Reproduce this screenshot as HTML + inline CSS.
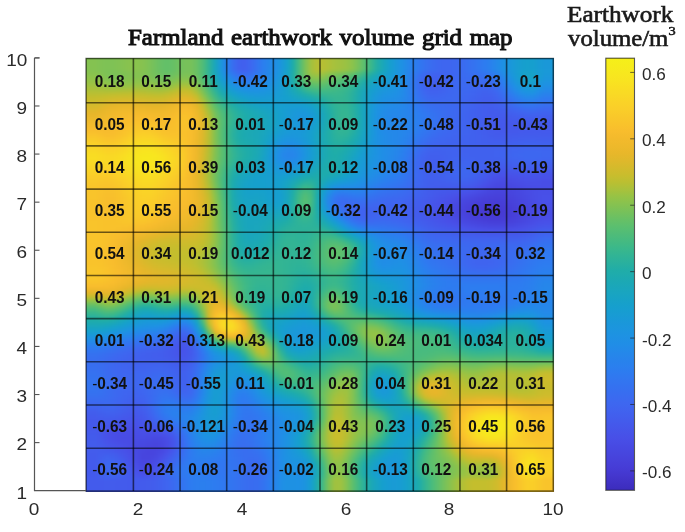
<!DOCTYPE html>
<html><head><meta charset="utf-8"><style>
html,body{margin:0;padding:0;background:#fff;}
body{width:685px;height:532px;position:relative;overflow:hidden;font-family:"Liberation Sans",sans-serif;}
.title{position:absolute;left:128px;top:22px;font-family:"Liberation Serif",serif;font-weight:normal;font-size:24px;line-height:30px;color:#111;white-space:nowrap;transform-origin:0 0;transform:scaleX(1.037);word-spacing:1.4px;-webkit-text-stroke:1.1px #111;}
.cbt{position:absolute;white-space:nowrap;font-family:"Liberation Serif",serif;font-weight:normal;font-size:22.5px;color:#1a1a1a;line-height:24px;transform-origin:0 0;-webkit-text-stroke:0.6px #1a1a1a;}
#hw{position:absolute;left:86px;top:58px;width:468px;height:434px;overflow:hidden;}
#heat{position:absolute;left:-3px;top:-3px;width:474px;height:440px;filter:blur(0.8px);}
#heat i{display:block;height:2px;}
svg{position:absolute;left:0;top:0;}
.g{stroke:rgba(0,0,0,0.58);stroke-width:1.6;}
.bd{fill:none;stroke:rgba(0,0,0,0.58);stroke-width:1.5;}
.ax{fill:none;stroke:#555;stroke-width:1.2;}
.tk{stroke:#555;stroke-width:1.1;}
.cbb{fill:none;stroke:rgba(30,30,30,0.75);stroke-width:1.1;}
.ct{stroke:rgba(30,30,30,0.65);stroke-width:1.0;}
.mn{font-weight:normal;}
.cl{position:absolute;transform:scaleX(0.93);text-align:center;font-weight:bold;font-size:16.5px;color:#111;}
.yl{position:absolute;right:657.6px;font-size:16.5px;color:#2a2a2a;line-height:20px;transform:scaleX(1.15);transform-origin:100% 50%;}
.xl{position:absolute;top:498.6px;width:40px;text-align:center;font-size:16.5px;color:#2a2a2a;line-height:20px;transform:scaleX(1.15);}
#cb{position:absolute;left:605.8px;top:58.2px;width:28.7px;height:432.1px;background:linear-gradient(180deg,#f5f019,#f6ec1b,#f7e81e,#f8e420,#f9de22,#f9d925,#fad327,#face29,#f9c82a,#f9c32b,#f8bd2d,#f3ba2c,#eeb92b,#e8b72a,#dfb82b,#d4ba2c,#c9bd2d,#babf32,#a8c13c,#95c346,#86c250,#77c15a,#68c065,#5bbf6f,#50bc78,#45ba81,#3ab88b,#31b495,#29b09e,#20ada8,#1daab0,#1ba7b8,#19a5c0,#17a2c7,#169fce,#189cd3,#1a98d9,#1c95de,#1e92e3,#208ee6,#2489e9,#2784eb,#2a80ee,#2e7bf0,#3276f0,#3571f0,#396cf0,#3d68f0,#4063ef,#425eed,#4459eb,#4654e9,#484fe7,#474ae3,#4746de,#4741da,#463cd6,#4437ce,#4031c5,#3c2cbc);}
.cbl{position:absolute;left:642.3px;font-size:16px;color:#2a2a2a;line-height:18px;transform:scaleX(1.07);transform-origin:0 50%;}
</style></head><body>
<div class="title">Farmland earthwork volume grid map</div>
<div class="cbt" style="left:566.5px;top:3.1px;transform:scaleX(1.12)">Earthwork</div><div class="cbt" style="left:567.5px;top:26.9px;transform:scaleX(1.10)">volume/m<span style="font-size:13px;position:relative;top:-10.5px">3</span></div>
<div id="hw"><div id="heat">
<i style="background:linear-gradient(90deg,#84c251,#84c251,#84c251,#80c254,#7ec256,#7fc255,#82c253,#86c250,#89c24e,#89c34d,#86c250,#7dc256,#72c15e,#67c066,#62c069,#66c066,#6fc160,#77c15a,#77c15a,#68c065,#4fbc79,#2fb397,#1aa6bb,#1b97db,#2981ed,#396df0,#4061ee,#4160ee,#3d68f0,#3473f0,#2b7eef,#2686ea,#208ee5,#1b96dc,#16a1cb,#1eacaa,#47bb80,#79c159,#a2c13f,#b6bf34,#b6bf34,#aec038,#a6c13d,#a0c140,#98c244,#8ac34d,#73c15d,#57be73,#3bb88b,#23aea4,#1aa7b9,#16a0cc,#1a99d8,#1e92e3,#2489e9,#2a80ee,#3078f0,#3671f0,#3a6cf0,#3c68f0,#3e66f0,#3e66f0,#3d67f0,#3b6af0,#386ef0,#3572f0,#3177f0,#2d7cf0,#2982ed,#2489e9,#1e91e4,#1b96dc,#199bd5,#179ecf,#16a0cd,#169fce,#189bd4,#1a98d8,#1a98d8,#1a98d8)"></i>
<i style="background:linear-gradient(90deg,#84c251,#84c251,#84c251,#80c254,#7ec256,#7fc255,#82c253,#86c250,#89c24e,#89c34d,#86c250,#7dc256,#72c15e,#67c066,#62c069,#66c066,#6fc160,#77c15a,#77c15a,#68c065,#4fbc79,#2fb397,#1aa6bb,#1b97db,#2981ed,#396df0,#4061ee,#4160ee,#3d68f0,#3473f0,#2b7eef,#2686ea,#208ee5,#1b96dc,#16a1cb,#1eacaa,#47bb80,#79c159,#a2c13f,#b6bf34,#b6bf34,#aec038,#a6c13d,#a0c140,#98c244,#8ac34d,#73c15d,#57be73,#3bb88b,#23aea4,#1aa7b9,#16a0cc,#1a99d8,#1e92e3,#2489e9,#2a80ee,#3078f0,#3671f0,#3a6cf0,#3c68f0,#3e66f0,#3e66f0,#3d67f0,#3b6af0,#386ef0,#3572f0,#3177f0,#2d7cf0,#2982ed,#2489e9,#1e91e4,#1b96dc,#199bd5,#179ecf,#16a0cd,#169fce,#189bd4,#1a98d8,#1a98d8,#1a98d8)"></i>
<i style="background:linear-gradient(90deg,#84c251,#84c251,#84c251,#80c254,#7ec256,#7fc255,#82c253,#86c250,#89c24e,#89c34d,#86c250,#7dc256,#72c15e,#67c066,#62c069,#66c066,#6fc160,#77c15a,#77c15a,#68c065,#4fbc79,#2fb397,#1aa6bb,#1b97db,#2981ed,#396df0,#4061ee,#4160ee,#3d68f0,#3473f0,#2b7eef,#2686ea,#208ee5,#1b96dc,#16a1cb,#1eacaa,#47bb80,#79c159,#a2c13f,#b6bf34,#b6bf34,#aec038,#a6c13d,#a0c140,#98c244,#8ac34d,#73c15d,#57be73,#3bb88b,#23aea4,#1aa7b9,#16a0cc,#1a99d8,#1e92e3,#2489e9,#2a80ee,#3078f0,#3671f0,#3a6cf0,#3c68f0,#3e66f0,#3e66f0,#3d67f0,#3b6af0,#386ef0,#3572f0,#3177f0,#2d7cf0,#2982ed,#2489e9,#1e91e4,#1b96dc,#199bd5,#179ecf,#16a0cd,#169fce,#189bd4,#1a98d8,#1a98d8,#1a98d8)"></i>
<i style="background:linear-gradient(90deg,#84c251,#84c251,#84c251,#80c254,#7ec256,#7fc255,#82c253,#86c250,#89c24e,#89c34d,#86c250,#7dc256,#72c15e,#67c066,#62c069,#66c066,#6fc160,#77c15a,#77c15a,#68c065,#4fbc79,#2fb397,#1aa6bb,#1b97db,#2981ed,#396df0,#4061ee,#4160ee,#3d68f0,#3473f0,#2b7eef,#2686ea,#208ee5,#1b96dc,#16a1cb,#1eacaa,#47bb80,#79c159,#a2c13f,#b6bf34,#b6bf34,#aec038,#a6c13d,#a0c140,#98c244,#8ac34d,#73c15d,#57be73,#3bb88b,#23aea4,#1aa7b9,#16a0cc,#1a99d8,#1e92e3,#2489e9,#2a80ee,#3078f0,#3671f0,#3a6cf0,#3c68f0,#3e66f0,#3e66f0,#3d67f0,#3b6af0,#386ef0,#3572f0,#3177f0,#2d7cf0,#2982ed,#2489e9,#1e91e4,#1b96dc,#199bd5,#179ecf,#16a0cd,#169fce,#189bd4,#1a98d8,#1a98d8,#1a98d8)"></i>
<i style="background:linear-gradient(90deg,#84c251,#84c251,#84c251,#80c254,#7ec256,#7fc255,#82c253,#86c250,#89c24e,#89c34d,#86c250,#7dc256,#72c15e,#67c066,#62c069,#66c066,#6fc160,#77c15a,#77c15a,#68c065,#4fbc79,#2fb397,#1aa6bb,#1b97db,#2981ed,#396df0,#4061ee,#4160ee,#3d68f0,#3473f0,#2b7eef,#2686ea,#208ee5,#1b96dc,#16a1cb,#1eacaa,#47bb80,#79c159,#a2c13f,#b6bf34,#b6bf34,#aec038,#a6c13d,#a0c140,#98c244,#8ac34d,#73c15d,#57be73,#3bb88b,#23aea4,#1aa7b9,#16a0cc,#1a99d8,#1e92e3,#2489e9,#2a80ee,#3078f0,#3671f0,#3a6cf0,#3c68f0,#3e66f0,#3e66f0,#3d67f0,#3b6af0,#386ef0,#3572f0,#3177f0,#2d7cf0,#2982ed,#2489e9,#1e91e4,#1b96dc,#199bd5,#179ecf,#16a0cd,#169fce,#189bd4,#1a98d8,#1a98d8,#1a98d8)"></i>
<i style="background:linear-gradient(90deg,#84c251,#84c251,#84c251,#80c254,#7ec256,#7fc255,#82c253,#86c250,#89c24e,#89c34d,#86c250,#7dc256,#72c15e,#67c066,#62c069,#66c066,#6fc160,#77c15a,#77c15a,#68c065,#4fbc79,#2fb397,#1aa6bb,#1b97db,#2981ed,#396df0,#4061ee,#4160ee,#3d68f0,#3473f0,#2b7eef,#2686ea,#208ee5,#1b96dc,#16a1cb,#1eacaa,#47bb80,#79c159,#a2c13f,#b6bf34,#b6bf34,#aec038,#a6c13d,#a0c140,#98c244,#8ac34d,#73c15d,#57be73,#3bb88b,#23aea4,#1aa7b9,#16a0cc,#1a99d8,#1e92e3,#2489e9,#2a80ee,#3078f0,#3671f0,#3a6cf0,#3c68f0,#3e66f0,#3e66f0,#3d67f0,#3b6af0,#386ef0,#3572f0,#3177f0,#2d7cf0,#2982ed,#2489e9,#1e91e4,#1b96dc,#199bd5,#179ecf,#16a0cd,#169fce,#189bd4,#1a98d8,#1a98d8,#1a98d8)"></i>
<i style="background:linear-gradient(90deg,#84c251,#84c251,#84c251,#80c254,#7ec256,#7fc255,#82c253,#86c250,#89c24e,#89c34d,#86c250,#7dc256,#72c15e,#67c066,#62c069,#66c066,#6fc160,#77c15a,#77c15a,#68c065,#4fbc79,#2fb397,#1aa6bb,#1b97db,#2981ed,#396df0,#4061ee,#4160ee,#3d68f0,#3473f0,#2b7eef,#2686ea,#208ee5,#1b96dc,#16a1cb,#1eacaa,#47bb80,#79c159,#a2c13f,#b6bf34,#b6bf34,#aec038,#a6c13d,#a0c140,#98c244,#8ac34d,#73c15d,#57be73,#3bb88b,#23aea4,#1aa7b9,#16a0cc,#1a99d8,#1e92e3,#2489e9,#2a80ee,#3078f0,#3671f0,#3a6cf0,#3c68f0,#3e66f0,#3e66f0,#3d67f0,#3b6af0,#386ef0,#3572f0,#3177f0,#2d7cf0,#2982ed,#2489e9,#1e91e4,#1b96dc,#199bd5,#179ecf,#16a0cd,#169fce,#189bd4,#1a98d8,#1a98d8,#1a98d8)"></i>
<i style="background:linear-gradient(90deg,#84c251,#84c251,#84c251,#80c254,#7dc256,#7ec255,#81c253,#85c251,#88c24f,#88c24e,#85c250,#7dc256,#71c15e,#67c065,#62c069,#66c066,#70c15f,#78c15a,#77c15a,#68c065,#4fbc79,#2fb397,#1aa6bb,#1b97db,#2982ed,#386ef0,#4062ef,#4061ee,#3c68f0,#3473f0,#2b7eef,#2587ea,#208fe5,#1b97db,#17a1ca,#1eacaa,#47bb7f,#79c159,#a2c13f,#b4bf35,#b4c035,#aac03a,#a2c13f,#9bc242,#93c347,#85c250,#6ec160,#53bd75,#38b78d,#21ada6,#1aa6bb,#16a0cd,#1a99d8,#1e92e3,#2488e9,#2b7fee,#3177f0,#3670f0,#3a6bf0,#3d68f0,#3e66f0,#3e66f0,#3d67f0,#3b6af0,#386ef0,#3572f0,#3176f0,#2e7bf0,#2981ed,#2488e9,#1f90e5,#1b96dc,#199bd5,#179fcf,#16a0cc,#16a0ce,#189cd4,#1a99d8,#1a99d8,#1a99d8)"></i>
<i style="background:linear-gradient(90deg,#86c250,#86c250,#86c250,#81c253,#7cc256,#7cc257,#7ec255,#81c253,#85c251,#86c250,#84c251,#7cc257,#72c15e,#69c064,#64c067,#69c064,#72c15e,#79c159,#78c15a,#67c065,#4ebc7a,#2fb398,#1aa6ba,#1a98d9,#2685eb,#3473f0,#3d67f0,#3e66f0,#3a6cf0,#3275f0,#2b7fee,#2587ea,#1f8fe5,#1b97da,#17a2c8,#20ada8,#49bb7e,#78c159,#9ec241,#acc039,#a8c13c,#9bc243,#8fc349,#88c24e,#80c254,#72c15e,#5dbf6d,#45ba81,#2fb398,#1dabae,#19a5bf,#169fce,#1a99d8,#1e92e3,#2488e9,#2c7eef,#3374f0,#396cf0,#3d67f0,#3e65f0,#3f64ef,#3e65f0,#3d67f0,#3b6af0,#396df0,#3670f0,#3374f0,#3078f0,#2c7def,#2784eb,#218de6,#1c95de,#199bd5,#16a0ce,#17a2c8,#17a1ca,#189cd3,#1a99d8,#1a99d8,#1a99d8)"></i>
<i style="background:linear-gradient(90deg,#89c24e,#89c24e,#89c24e,#83c252,#7dc256,#7bc257,#7dc256,#80c254,#83c252,#85c251,#83c252,#7dc256,#73c15d,#6bc163,#68c065,#6cc162,#75c15b,#7cc257,#7ac258,#69c064,#4ebc79,#30b397,#1ba7b9,#199ad6,#2489e9,#3177f0,#396cf0,#3b6af0,#376ff0,#3078f0,#2a80ed,#2488e9,#1e90e4,#1a98d9,#17a2c7,#21ada7,#48bb7e,#75c15c,#97c245,#a2c13f,#9bc242,#8dc34b,#81c253,#79c159,#6fc160,#61c06a,#4fbc78,#3ab78c,#26afa2,#1ca8b5,#18a3c4,#179ed0,#1a98d9,#1e92e3,#2588e9,#2d7cf0,#3572f0,#3b69f0,#3f65ef,#3f63ef,#3f63ef,#3e65f0,#3d67f0,#3b6af0,#396cf0,#376ff0,#3571f0,#3374f0,#2f79f0,#2a81ed,#238ae8,#1d93e0,#199ad6,#16a0cd,#18a2c6,#17a2c8,#189cd2,#1a98d9,#1a98d9,#1a98d9)"></i>
<i style="background:linear-gradient(90deg,#8cc34c,#8cc34c,#8cc34c,#86c250,#7fc255,#7cc257,#7dc256,#80c254,#83c252,#85c250,#84c251,#7ec255,#76c15b,#6fc160,#6cc162,#71c15e,#7ac258,#80c254,#7dc256,#6bc163,#50bc78,#31b495,#1ba8b7,#189cd4,#218ce7,#2d7cf0,#3572f0,#376ff0,#3473f0,#2e7af0,#2982ed,#2389e8,#1e91e4,#1a99d8,#18a3c6,#21ada7,#46bb80,#70c15f,#8ec34a,#97c245,#8fc34a,#81c253,#75c15c,#6bc163,#61c06a,#55be74,#44ba82,#31b496,#1eacab,#1aa6bb,#17a2c8,#189dd2,#1a98da,#1e92e3,#2587ea,#2d7bf0,#3670f0,#3d67f0,#4062ef,#4061ee,#4062ef,#3f65f0,#3d67f0,#3b6af0,#3a6cf0,#386df0,#376ff0,#3571f0,#3276f0,#2c7def,#2587ea,#1e92e3,#199ad7,#16a0cd,#18a2c6,#17a2c8,#189cd3,#1b97da,#1b97da,#1b97da)"></i>
<i style="background:linear-gradient(90deg,#8fc34a,#8fc34a,#8fc34a,#89c24e,#81c253,#7fc255,#80c254,#82c252,#85c250,#87c24f,#86c250,#81c253,#7ac258,#74c15d,#72c15e,#77c15a,#80c254,#86c250,#82c252,#6fc160,#53bd76,#33b593,#1ca9b4,#179dd1,#1f90e4,#2981ed,#3177f0,#3374f0,#3177f0,#2c7def,#2784eb,#228be8,#1d92e2,#1999d7,#18a3c5,#20ada8,#43ba83,#69c064,#85c251,#8bc34c,#84c251,#76c15b,#69c064,#5fc06b,#57be72,#4bbc7c,#3ab88b,#29b09e,#1caab1,#19a4c0,#16a0cd,#189cd3,#1b97da,#1e91e3,#2587ea,#2e7af0,#386ef0,#3e65f0,#4061ee,#4160ee,#4062ef,#3f65ef,#3d67f0,#3b69f0,#3a6bf0,#396cf0,#396df0,#376ff0,#3472f0,#2f7af0,#2784eb,#1f90e5,#1a98d9,#179fce,#17a2c7,#17a2c9,#189bd4,#1b96dc,#1b96dc,#1b96dc)"></i>
<i style="background:linear-gradient(90deg,#93c347,#93c347,#93c347,#8cc34b,#85c250,#82c252,#83c252,#85c250,#88c24e,#8ac34d,#89c24e,#85c250,#7fc255,#79c159,#78c159,#7ec255,#87c24f,#8dc34b,#88c24e,#74c15c,#56be73,#36b690,#1caab1,#169fce,#1d93e1,#2686ea,#2d7df0,#2f79f0,#2e7bf0,#2a80ee,#2686ea,#218ce7,#1d93e1,#199ad6,#18a3c5,#1faca9,#3eb987,#60c06b,#7ac258,#80c254,#78c159,#6bc163,#5fbf6b,#57be72,#4ebc79,#42ba84,#33b593,#22aea6,#1ba8b7,#18a3c6,#179ecf,#199bd5,#1b97db,#1e91e4,#2686ea,#2f7af0,#386df0,#3f64ef,#4160ee,#4160ee,#4062ee,#3f65ef,#3d67f0,#3c69f0,#3b6bf0,#3a6bf0,#3a6bf0,#396cf0,#376ff0,#3177f0,#2981ed,#218de6,#1b97db,#179ed0,#17a1c9,#17a1cb,#199ad6,#1c95de,#1c95de,#1c95de)"></i>
<i style="background:linear-gradient(90deg,#97c245,#97c245,#97c245,#91c348,#8ac34d,#87c24f,#88c24f,#8ac34d,#8cc34b,#8ec34a,#8dc34b,#8ac34d,#84c251,#80c254,#80c254,#86c250,#8fc34a,#95c346,#8fc349,#7bc258,#5abe6f,#39b78c,#1dabad,#17a1c9,#1b96dc,#228be7,#2982ed,#2b7fef,#2b7fee,#2883ec,#2488e9,#208ee6,#1c94df,#199bd5,#18a3c5,#1eacab,#3ab78c,#58be71,#6dc161,#73c15d,#6dc162,#61c06a,#58be72,#50bc78,#47bb7f,#3bb88a,#2db299,#1eabac,#1aa6bc,#17a1ca,#189dd2,#1999d7,#1b96dc,#1e91e4,#2686ea,#2f79f0,#396df0,#3f63ef,#415fee,#415fee,#4062ee,#3f65f0,#3d67f0,#3c69f0,#3b6af0,#3b6af0,#3b69f0,#3b6af0,#396df0,#3374f0,#2b7eef,#228be8,#1c95dd,#189cd3,#16a0cc,#16a0cd,#1a99d8,#1d94e0,#1d94e0,#1d94e0)"></i>
<i style="background:linear-gradient(90deg,#9cc242,#9cc242,#9cc242,#96c245,#8fc349,#8dc34b,#8dc34a,#8fc349,#91c348,#93c347,#93c347,#8fc349,#8ac34d,#87c24f,#87c24f,#8ec34a,#99c244,#9fc240,#99c244,#82c253,#5fbf6b,#3db988,#1faca9,#18a3c4,#1a99d8,#1f90e5,#2587ea,#2884ec,#2784ec,#2587ea,#228be8,#1f90e5,#1c95de,#199bd4,#18a3c5,#1dabae,#35b591,#4fbc79,#60c06a,#66c066,#61c06a,#59be71,#51bd77,#4abb7d,#41ba85,#36b68f,#28b09f,#1caab1,#19a4c1,#169fce,#199bd4,#1a98d9,#1c95de,#1f90e4,#2686ea,#2f79f0,#396df0,#3f63ef,#415fee,#415fee,#4062ee,#3e65f0,#3d67f0,#3c69f0,#3b69f0,#3c69f0,#3d68f0,#3d68f0,#3b6af0,#3671f0,#2d7cf0,#2488e9,#1d93e0,#199ad5,#179fcf,#179ed0,#1b97db,#1e92e3,#1e92e3,#1e92e3)"></i>
<i style="background:linear-gradient(90deg,#a2c13f,#a2c13f,#a2c13f,#9dc242,#97c245,#95c346,#95c346,#97c245,#99c244,#9bc243,#9ac243,#96c245,#91c348,#8fc34a,#90c349,#99c244,#a5c13d,#abc03a,#a3c13e,#8ac34d,#65c067,#42ba84,#23aea4,#19a5bf,#189cd3,#1d94e0,#218de7,#2489e9,#2488e9,#238ae8,#208ee6,#1e92e3,#1b96dc,#189cd4,#18a2c6,#1caab1,#2fb398,#45ba81,#55be73,#5bbf6f,#58be71,#52bd77,#4bbb7c,#44ba82,#3cb889,#32b494,#24aea4,#1ca8b5,#18a3c5,#179ed1,#199ad7,#1b97db,#1c94df,#1f90e5,#2686eb,#2f79f0,#396df0,#3f64ef,#415fee,#4160ee,#4062ef,#3e65f0,#3d67f0,#3c69f0,#3c69f0,#3d68f0,#3e66f0,#3e66f0,#3c68f0,#386ef0,#2f79f0,#2685eb,#1e91e4,#1a98d9,#189cd3,#189cd4,#1c95de,#1f8fe5,#1f8fe5,#1f8fe5)"></i>
<i style="background:linear-gradient(90deg,#a7c13c,#a7c13c,#a7c13c,#a4c13e,#9fc240,#9ec241,#9fc241,#a0c140,#a2c13f,#a3c13e,#a2c13f,#9fc240,#9bc243,#98c244,#9bc243,#a5c13d,#b1c037,#b7bf34,#afc038,#93c347,#6dc161,#48bb7f,#28b09f,#1aa7b9,#179fcf,#1b97db,#1e92e3,#208ee6,#218ce7,#208ee6,#1e90e4,#1d93e1,#1b97db,#189cd3,#17a2c7,#1ca9b4,#29b09e,#3bb88a,#4abb7d,#50bc78,#4fbc79,#4bbb7d,#45ba81,#40b986,#39b78d,#2fb398,#20ada8,#1ba7b8,#17a1c9,#189cd3,#1a98d9,#1b96dc,#1d94e0,#208fe5,#2685eb,#2f79f0,#386df0,#3f64ef,#4160ee,#4160ee,#4063ef,#3e66f0,#3d67f0,#3c68f0,#3c68f0,#3d67f0,#3e65f0,#3f64ef,#3e66f0,#396cf0,#3276f0,#2982ec,#208ee6,#1b96dd,#199ad7,#1a99d7,#1d93e1,#218ce7,#218ce7,#218ce7)"></i>
<i style="background:linear-gradient(90deg,#adc039,#adc039,#adc039,#abc03a,#a8c13b,#a8c13c,#a9c13b,#aac03a,#acc03a,#acc039,#abc03a,#a8c13b,#a5c13d,#a3c13e,#a7c13c,#b1c037,#bdbf30,#c3be2d,#bbbf31,#9ec241,#76c15b,#4ebc7a,#2eb299,#1ca9b4,#17a1c9,#199ad5,#1c95de,#1d92e2,#1e91e4,#1e91e4,#1d93e2,#1c95de,#1a98d9,#189cd2,#17a2c8,#1ba7b7,#22aea6,#33b493,#3eb987,#45ba81,#46bb80,#44ba82,#40b985,#3cb889,#36b690,#2cb29a,#1eacab,#1aa6bb,#16a0cc,#199bd5,#1b97db,#1c95de,#1d93e1,#208ee6,#2785eb,#2f7af0,#386ef0,#3e65f0,#4061ee,#4061ee,#3f63ef,#3e66f0,#3d68f0,#3c68f0,#3d68f0,#3e66f0,#3f64ef,#3f63ef,#3f64ef,#3b6af0,#3474f0,#2b7fee,#238be8,#1d93e1,#1b97db,#1b96dc,#1f90e5,#2489e8,#2489e8,#2489e8)"></i>
<i style="background:linear-gradient(90deg,#b3c035,#b3c035,#b3c035,#b3c036,#b2c036,#b3c036,#b4c035,#b5bf35,#b6bf34,#b6bf34,#b5bf35,#b2c036,#afc038,#aec038,#b3c036,#bdbf30,#c7bd2d,#cbbc2c,#c6bd2d,#a9c13b,#7ec255,#54bd74,#33b593,#1dabae,#18a4c2,#179ed0,#1a99d8,#1c95dd,#1c94df,#1d94e0,#1c95de,#1b96dc,#1a99d8,#189dd2,#17a1c9,#1aa6bb,#1dabad,#2ab19d,#35b591,#3bb88b,#3db988,#3eb987,#3db889,#3ab78c,#34b592,#2ab19d,#1dabad,#1aa5be,#169fce,#1a99d7,#1c96dd,#1d94e0,#1e92e3,#218de6,#2785eb,#2f7af0,#376ff0,#3e66f0,#4062ef,#4062ef,#3f64ef,#3e66f0,#3d68f0,#3d68f0,#3d67f0,#3e65f0,#3f63ef,#4062ee,#3f63ef,#3d68f0,#3671f0,#2d7cf0,#2587ea,#1f90e5,#1c94e0,#1d94e0,#218ce7,#2686ea,#2686ea,#2686ea)"></i>
<i style="background:linear-gradient(90deg,#babf32,#babf32,#babf32,#babf32,#bcbf31,#bebf30,#bfbe2f,#c0be2e,#c1be2e,#c1be2e,#bfbe2f,#bcbf31,#babf32,#babf32,#bfbe2f,#c7bd2d,#cfbb2c,#d3ba2c,#cdbc2c,#b5bf34,#87c24f,#5bbf6f,#39b78d,#1fada8,#1aa6bc,#17a1cb,#189cd3,#1a99d8,#1b97db,#1b96dc,#1b97db,#1a98d9,#199ad6,#189dd1,#17a1ca,#19a5bf,#1ca9b3,#21ada7,#2bb19c,#32b494,#37b68f,#39b78c,#3ab78c,#38b78e,#33b493,#29b09e,#1dabae,#19a5c0,#179ed0,#1a98d9,#1c94df,#1d93e2,#1e91e4,#218de7,#2785eb,#2e7af0,#3670f0,#3d68f0,#3f64ef,#3f63ef,#3e65f0,#3d67f0,#3d68f0,#3d68f0,#3e67f0,#3f65f0,#4062ef,#4061ee,#4062ee,#3e66f0,#376ef0,#2f79f0,#2883ec,#228ce7,#1e90e4,#1f90e5,#2488e9,#2882ec,#2882ec,#2882ec)"></i>
<i style="background:linear-gradient(90deg,#c0be2e,#c0be2e,#c0be2e,#c2be2d,#c5be2d,#c7bd2d,#c8bd2d,#c8bd2d,#c9bd2d,#c8bd2d,#c7bd2d,#c5bd2d,#c4be2d,#c4be2d,#c8bd2d,#cfbb2c,#d7b92b,#dbb92b,#d5ba2b,#c2be2e,#91c348,#62c069,#3eb987,#26afa2,#1ba8b5,#18a3c4,#169fce,#189cd3,#199ad6,#1a99d8,#1a99d8,#199ad7,#199bd5,#179dd1,#16a0cc,#18a4c3,#1ba7b9,#1daaaf,#22aea6,#2ab19d,#30b396,#35b591,#37b68f,#36b68f,#32b494,#28b09f,#1daaaf,#19a4c1,#179dd1,#1b97db,#1d93e0,#1e92e3,#1f90e5,#228ce7,#2785eb,#2e7bf0,#3671f0,#3c69f0,#3e65f0,#3f65f0,#3e66f0,#3d67f0,#3d68f0,#3d67f0,#3e66f0,#3f64ef,#4062ee,#4160ee,#4160ee,#3f64ef,#396cf0,#3276f0,#2b7fee,#2587ea,#228ce7,#228be7,#2784eb,#2b7fee,#2b7fee,#2b7fee)"></i>
<i style="background:linear-gradient(90deg,#c5bd2d,#c5bd2d,#c5bd2d,#c8bd2d,#cbbc2c,#cdbc2c,#cfbb2c,#d0bb2c,#cfbb2c,#cfbb2c,#cebc2c,#ccbc2c,#cbbc2c,#cbbc2c,#cfbb2c,#d7ba2b,#dfb82b,#e3b72a,#ddb82b,#c9bd2c,#9cc242,#6bc163,#45ba81,#2cb29b,#1daaaf,#1aa6bd,#17a2c8,#179fcf,#189dd2,#189bd4,#199bd5,#199bd4,#189cd3,#179ed1,#16a0cd,#17a2c7,#19a5bf,#1ba7b7,#1daaaf,#22aea6,#2ab19c,#31b495,#35b591,#35b590,#31b495,#27b0a0,#1daab0,#18a4c2,#189dd2,#1b96dc,#1d92e2,#1e90e4,#208fe5,#228be7,#2784eb,#2d7cf0,#3572f0,#3a6bf0,#3d67f0,#3e66f0,#3d67f0,#3d68f0,#3d68f0,#3d67f0,#3e66f0,#3f63ef,#4061ee,#415fee,#415fee,#3f63ef,#3b6af0,#3473f0,#2d7bf0,#2883ec,#2587ea,#2587ea,#2a80ed,#2e7bf0,#2e7bf0,#2e7bf0)"></i>
<i style="background:linear-gradient(90deg,#c9bd2c,#c9bd2c,#c9bd2c,#ccbc2c,#d1bb2c,#d4ba2c,#d6ba2b,#d7b92b,#d7ba2b,#d6ba2b,#d4ba2c,#d3ba2c,#d2bb2c,#d2bb2c,#d6ba2b,#deb82b,#e6b62a,#e8b72a,#e4b62a,#d1bb2c,#a7c13c,#74c15d,#4cbc7b,#32b495,#1faca9,#1ba8b7,#19a4c1,#17a1c9,#169fce,#179ed0,#189dd2,#189dd2,#189dd2,#179ed0,#169fce,#17a1cb,#18a3c5,#19a5bf,#1ba8b6,#1dabad,#25afa3,#2db299,#33b593,#35b591,#31b495,#27b0a0,#1daab0,#18a3c3,#189cd3,#1c95dd,#1e91e3,#1f8fe5,#218de6,#238ae8,#2784eb,#2d7cf0,#3374f0,#396df0,#3c69f0,#3d68f0,#3d68f0,#3c68f0,#3d68f0,#3d67f0,#3e65f0,#3f63ef,#4160ee,#415fed,#415fed,#4062ee,#3d68f0,#376ff0,#3077f0,#2b7eef,#2982ed,#2982ed,#2d7cf0,#3078f0,#3078f0,#3078f0)"></i>
<i style="background:linear-gradient(90deg,#cebc2c,#cebc2c,#cebc2c,#d1bb2c,#d7b92b,#dbb92b,#ddb82b,#deb82b,#deb82b,#ddb82b,#dbb92b,#d9b92b,#d8b92b,#d9b92b,#ddb82b,#e5b62a,#eab72b,#ecb82b,#e9b72a,#d8b92b,#b2c036,#7cc257,#53bd76,#37b68e,#25afa3,#1caab1,#1aa6bb,#18a4c3,#17a1c9,#16a0cd,#179fcf,#179ed0,#179ed0,#179ed0,#179fcf,#169fce,#16a1cb,#18a2c6,#19a5be,#1ca9b4,#1fada9,#2ab19d,#32b495,#34b592,#31b495,#27b0a0,#1daab1,#18a3c4,#189cd4,#1c95de,#1e90e4,#208ee6,#218ce7,#238ae8,#2784eb,#2c7def,#3275f0,#376ff0,#3a6bf0,#3c69f0,#3c69f0,#3c69f0,#3c68f0,#3d67f0,#3e65f0,#4063ef,#4160ee,#425eed,#425eed,#4160ee,#3e66f0,#396cf0,#3474f0,#2f7af0,#2c7def,#2c7def,#3078f0,#3374f0,#3374f0,#3374f0)"></i>
<i style="background:linear-gradient(90deg,#d2bb2c,#d2bb2c,#d2bb2c,#d6ba2b,#ddb82b,#e1b72a,#e4b72a,#e5b62a,#e5b62a,#e3b72a,#e2b72a,#e0b72b,#dfb82b,#e0b72b,#e4b62a,#e9b72b,#edb82b,#efb92c,#ecb82b,#deb82b,#bdbf30,#85c251,#59be70,#3db889,#2bb19c,#1eacab,#1ba8b5,#1aa6bd,#18a3c3,#17a2c8,#16a0cc,#16a0ce,#179fcf,#179ed0,#179ed0,#179ed0,#179fcf,#16a0cc,#18a3c5,#1aa7b9,#1dabad,#27b0a0,#30b396,#34b592,#31b495,#28b09f,#1daab0,#18a3c4,#199bd4,#1c94df,#1f8fe5,#218de6,#228be7,#2489e9,#2784eb,#2c7eef,#3176f0,#3670f0,#396df0,#3a6bf0,#3b6af0,#3c69f0,#3c68f0,#3e66f0,#3f65ef,#4062ef,#4160ee,#425eed,#425ded,#415fee,#3f64ef,#3b6af0,#3770f0,#3275f0,#3078f0,#3078f0,#3374f0,#3670f0,#3670f0,#3670f0)"></i>
<i style="background:linear-gradient(90deg,#d6ba2b,#d6ba2b,#d6ba2b,#dbb92b,#e2b72a,#e7b62a,#e8b72a,#e9b72a,#e9b72a,#e8b72a,#e7b62a,#e6b62a,#e5b62a,#e6b62a,#e8b72a,#ecb82b,#f1ba2c,#f3ba2c,#f0b92c,#e5b62a,#c6bd2d,#8dc34b,#5fc06b,#42ba83,#30b396,#22aea5,#1daab0,#1ba7b8,#19a5be,#18a3c3,#17a2c8,#16a1cb,#16a0ce,#179fcf,#179dd1,#189dd2,#189cd3,#179ed1,#16a1cb,#19a5bf,#1caab1,#25afa3,#2fb397,#34b592,#32b494,#28b09f,#1daab0,#18a3c4,#199bd5,#1d94e0,#208ee5,#228ce7,#238ae8,#2488e9,#2784eb,#2b7eef,#3078f0,#3572f0,#386ef0,#396cf0,#3a6bf0,#3b69f0,#3c68f0,#3e66f0,#3f64ef,#4062ee,#415fee,#425ded,#425ded,#425eed,#4062ee,#3d67f0,#396cf0,#3671f0,#3473f0,#3473f0,#3670f0,#396df0,#396df0,#396df0)"></i>
<i style="background:linear-gradient(90deg,#dab92b,#dab92b,#dab92b,#e0b72b,#e7b62a,#eab72b,#ebb82b,#ecb82b,#ecb82b,#ecb82b,#ebb82b,#eab72b,#e9b72a,#e9b72b,#ebb82b,#efb92c,#f4bb2c,#f6bb2d,#f3ba2c,#e8b72a,#cbbc2c,#95c346,#66c066,#48bb7e,#35b591,#27b0a0,#1eabac,#1ca9b3,#1aa7ba,#19a5bf,#18a3c4,#17a2c8,#16a0cc,#179fcf,#189dd2,#199bd4,#199ad5,#189bd4,#179fcf,#18a3c3,#1ca8b4,#23aea5,#2eb398,#34b592,#33b494,#29b19e,#1daab0,#18a3c4,#199bd5,#1d93e1,#208ee6,#238be8,#2389e8,#2588e9,#2784eb,#2b7fee,#2f79f0,#3374f0,#3670f0,#386df0,#3a6bf0,#3b6af0,#3c68f0,#3e66f0,#3f64ef,#4062ee,#415fed,#425ded,#425cec,#425ded,#4160ee,#3f64ef,#3c68f0,#396cf0,#376ff0,#376ff0,#396cf0,#3b69f0,#3b69f0,#3b69f0)"></i>
<i style="background:linear-gradient(90deg,#dfb82b,#dfb82b,#dfb82b,#e4b62a,#e9b72b,#ecb82b,#eeb92b,#efb92c,#efb92c,#efb92b,#eeb92b,#edb82b,#ecb82b,#ecb82b,#eeb92b,#f2ba2c,#f6bb2d,#f8bc2d,#f5bb2d,#ebb82b,#d0bb2c,#9dc241,#6dc161,#4dbc7a,#39b78d,#2bb19c,#20ada8,#1daab0,#1ba8b6,#1aa6bc,#19a4c1,#18a2c6,#17a1cb,#179fcf,#189cd2,#199ad6,#1a99d8,#1a99d7,#189dd2,#17a2c7,#1ba8b7,#21ada7,#2eb299,#34b592,#33b593,#2ab19d,#1daaaf,#18a3c4,#199bd5,#1d93e1,#218de6,#238ae8,#2489e9,#2587ea,#2784eb,#2a80ee,#2e7af0,#3275f0,#3571f0,#376ef0,#396cf0,#3b6af0,#3d68f0,#3e66f0,#3f64ef,#4061ee,#415fed,#425ded,#435cec,#425cec,#415fed,#4062ee,#3e65f0,#3c68f0,#3b6af0,#3a6bf0,#3c68f0,#3e66f0,#3e66f0,#3e66f0)"></i>
<i style="background:linear-gradient(90deg,#e3b72a,#e3b72a,#e3b72a,#e7b62a,#ebb82b,#efb92b,#f1ba2c,#f2ba2c,#f2ba2c,#f2ba2c,#f1ba2c,#f0b92c,#efb92b,#efb92b,#f1ba2c,#f4bb2c,#f8bd2d,#f8bf2c,#f8bc2d,#edb82b,#d5ba2b,#a5c13d,#73c15d,#52bd77,#3cb889,#2eb398,#23aea4,#1dabad,#1ca9b3,#1ba7b9,#19a5be,#18a3c4,#17a1c9,#179fcf,#189cd3,#1a99d7,#1a98da,#1a98d9,#199bd4,#17a1ca,#1ba7b9,#1fada8,#2db299,#35b591,#34b592,#2bb19c,#1daaaf,#18a3c4,#199bd5,#1d93e2,#218ce7,#2489e8,#2488e9,#2587ea,#2784eb,#2a80ee,#2d7cf0,#3177f0,#3473f0,#376ff0,#396df0,#3b6af0,#3d68f0,#3e66f0,#3f63ef,#4061ee,#415fed,#425ded,#435bec,#435cec,#425ded,#4160ee,#4062ef,#3f65f0,#3e67f0,#3d67f0,#3e65f0,#3f64ef,#3f64ef,#3f64ef)"></i>
<i style="background:linear-gradient(90deg,#e7b62a,#e7b62a,#e7b62a,#e9b72b,#edb82b,#f0b92c,#f3ba2c,#f4bb2c,#f5bb2c,#f5bb2c,#f4bb2c,#f3ba2c,#f2ba2c,#f1ba2c,#f3ba2c,#f6bb2d,#f8be2c,#f8c02c,#f8bd2d,#efb92b,#d8b92b,#abc03a,#78c15a,#55be74,#3eb987,#30b396,#25afa2,#1eacab,#1caab1,#1ba8b7,#1aa6bc,#19a4c2,#17a2c8,#169fce,#189cd3,#1a99d8,#1b97db,#1b97db,#199ad6,#16a0cc,#1aa6bb,#1faca9,#2db299,#35b591,#34b592,#2bb19c,#1daaae,#18a3c4,#199ad6,#1d92e2,#228ce7,#2489e9,#2588e9,#2587ea,#2784eb,#2a81ed,#2d7cf0,#3078f0,#3374f0,#3670f0,#396df0,#3b6af0,#3d68f0,#3e65f0,#3f63ef,#4061ee,#415fed,#425ded,#435bec,#435bec,#435cec,#425eed,#4160ee,#4062ee,#3f63ef,#3f63ef,#4062ef,#4061ee,#4061ee,#4061ee)"></i>
<i style="background:linear-gradient(90deg,#e9b72a,#e9b72a,#e9b72a,#ebb82b,#efb92b,#f2ba2c,#f4bb2c,#f6bb2d,#f7bc2d,#f7bc2d,#f7bc2d,#f5bb2d,#f4bb2c,#f3ba2c,#f4bb2c,#f8bc2d,#f8c02c,#f9c12c,#f8be2c,#f0b92c,#dbb92b,#b0c037,#7bc257,#58be71,#40b985,#31b495,#26afa1,#1eacaa,#1daab0,#1ba8b5,#1aa6bb,#19a4c1,#17a2c8,#169fce,#189cd3,#1a99d8,#1b96dc,#1b96dc,#199ad7,#16a0cd,#1aa6bb,#1eacaa,#2db29a,#35b591,#35b591,#2cb29b,#1dabae,#18a3c4,#199ad6,#1d92e2,#228ce7,#2488e9,#2587ea,#2686ea,#2784eb,#2981ed,#2c7def,#3079f0,#3374f0,#3670f0,#396df0,#3b6af0,#3d68f0,#3e65f0,#3f63ef,#4061ee,#415fed,#425ced,#435bec,#435aec,#435bec,#425cec,#425eed,#415fee,#4160ee,#4061ee,#4160ee,#415fed,#415fed,#415fed)"></i>
<i style="background:linear-gradient(90deg,#ebb82b,#ebb82b,#ebb82b,#edb82b,#f0b92c,#f3ba2c,#f6bb2d,#f7bc2d,#f8bd2d,#f8bd2d,#f8bd2d,#f8bc2d,#f6bb2d,#f5bb2d,#f6bb2d,#f8bd2d,#f8c02c,#f9c22b,#f8bf2c,#f1ba2c,#ddb82b,#b4c035,#7ec255,#5abe70,#41ba84,#32b494,#27b0a1,#1eacaa,#1daaaf,#1ca8b4,#1aa7ba,#19a4c0,#17a2c7,#169fce,#189cd4,#1a98d9,#1b96dc,#1b96dc,#199ad7,#16a0cd,#1aa6bb,#1eacaa,#2db29a,#35b591,#35b591,#2cb29b,#1dabae,#18a3c4,#199ad6,#1d92e2,#228be7,#2488e9,#2587ea,#2686ea,#2785eb,#2981ed,#2c7def,#2f79f0,#3375f0,#3671f0,#396df0,#3b6af0,#3d67f0,#3e65f0,#3f63ef,#4061ee,#415fed,#425ced,#435bec,#445aec,#435aec,#435bec,#435cec,#425ded,#425eed,#425eed,#425eed,#425ded,#425ded,#425ded)"></i>
<i style="background:linear-gradient(90deg,#edb82b,#edb82b,#edb82b,#eeb92b,#f1ba2c,#f4bb2c,#f6bb2d,#f8bd2d,#f8be2c,#f8bf2c,#f8bf2c,#f8be2c,#f8bc2d,#f7bc2d,#f7bc2d,#f8be2d,#f8c12c,#f9c32b,#f8bf2c,#f2ba2c,#dfb82b,#b6bf34,#81c253,#5bbf6f,#42ba84,#32b495,#26afa1,#1eacaa,#1daaaf,#1ca9b4,#1ba7b9,#19a5c0,#17a2c7,#169fce,#189cd4,#1a98d9,#1b96dc,#1b97db,#199ad6,#16a0cd,#1aa6bb,#1eacaa,#2db29a,#35b591,#35b591,#2cb29b,#1dabae,#18a3c4,#199ad6,#1d92e2,#228be7,#2488e9,#2587ea,#2686ea,#2785eb,#2982ed,#2c7eef,#2f79f0,#3375f0,#3671f0,#396df0,#3b6af0,#3d67f0,#3e65f0,#3f63ef,#4061ee,#415fed,#425ced,#435bec,#4459eb,#4459eb,#445aec,#435bec,#435bec,#425cec,#425ced,#435cec,#435cec,#435cec,#435cec)"></i>
<i style="background:linear-gradient(90deg,#efb92c,#efb92c,#efb92c,#f0b92c,#f2ba2c,#f4bb2c,#f7bc2d,#f8be2d,#f8c02c,#f9c12c,#f9c12c,#f8c02c,#f8be2c,#f8bc2d,#f8bc2d,#f8be2c,#f9c12c,#f9c32b,#f8c02c,#f2ba2c,#dfb82b,#b8bf33,#82c252,#5cbf6e,#42ba84,#31b495,#25afa2,#1eacab,#1daab0,#1ca9b4,#1ba7b9,#19a5c0,#17a2c7,#169fce,#189cd4,#1a99d8,#1b97db,#1b97db,#199ad5,#16a0cc,#1aa6ba,#1eacaa,#2db29a,#35b591,#34b591,#2bb19b,#1dabae,#18a3c4,#199ad6,#1d92e3,#228be7,#2488e9,#2587ea,#2587ea,#2785eb,#2982ed,#2c7eef,#2f79f0,#3375f0,#3670f0,#396cf0,#3b69f0,#3d67f0,#3f65f0,#3f63ef,#4061ee,#415fed,#425ced,#435aec,#4459eb,#4459eb,#4459eb,#445aeb,#435aec,#435bec,#435bec,#435bec,#435aec,#435aec,#435aec)"></i>
<i style="background:linear-gradient(90deg,#f1ba2c,#f1ba2c,#f1ba2c,#f2ba2c,#f3ba2c,#f5bb2d,#f8bc2d,#f8bf2c,#f9c12c,#f9c32b,#f9c42b,#f9c22b,#f8c02c,#f8be2d,#f8bd2d,#f8bf2c,#f9c12c,#f9c32b,#f8bf2c,#f2ba2c,#e0b72b,#babf32,#83c252,#5cbf6e,#41ba84,#30b397,#24aea4,#1eabac,#1caab1,#1ca8b5,#1ba7b9,#19a5c0,#17a2c7,#179fcf,#189cd4,#1a99d8,#1b97da,#1a98da,#199bd4,#17a1ca,#1aa7b9,#1faca9,#2db29a,#34b592,#34b592,#2bb19c,#1daaaf,#18a3c4,#199ad6,#1d92e3,#228be7,#2488e9,#2587ea,#2587ea,#2785eb,#2982ed,#2c7def,#2f79f0,#3374f0,#3670f0,#396cf0,#3c69f0,#3e67f0,#3f65f0,#3f63ef,#4061ee,#415fed,#425ced,#435aec,#4459eb,#4458eb,#4458eb,#4459eb,#4459eb,#435aec,#435aec,#435aec,#445aec,#445aec,#445aec)"></i>
<i style="background:linear-gradient(90deg,#f4bb2c,#f4bb2c,#f4bb2c,#f3ba2c,#f4bb2c,#f6bb2d,#f8bd2d,#f8c02c,#f9c32b,#f9c52b,#f9c62b,#f9c42b,#f9c22c,#f8bf2c,#f8be2d,#f8bf2c,#f9c12c,#f9c22b,#f8bf2c,#f1ba2c,#e0b72b,#babf32,#84c251,#5cbf6e,#40b985,#2fb398,#22aea6,#1dabad,#1ca9b2,#1ba8b5,#1aa7ba,#19a4c0,#17a2c8,#179fcf,#199bd4,#1a99d8,#1a98da,#1a99d8,#189cd3,#17a2c8,#1ba7b8,#1fada8,#2db29a,#34b592,#33b593,#2ab19d,#1daaaf,#18a3c4,#199ad6,#1d92e3,#228be7,#2488e9,#2587e9,#2587ea,#2785eb,#2981ed,#2c7def,#3078f0,#3374f0,#376ff0,#3a6bf0,#3c68f0,#3e66f0,#3f64ef,#3f63ef,#4061ee,#415fed,#425ded,#435aec,#4459eb,#4458eb,#4458eb,#4459eb,#4459eb,#4459eb,#445aec,#4459eb,#4459eb,#4459eb,#4459eb)"></i>
<i style="background:linear-gradient(90deg,#f6bb2d,#f6bb2d,#f6bb2d,#f5bb2c,#f5bb2c,#f6bb2d,#f8bd2d,#f8c12c,#f9c42b,#f9c72a,#f9c82a,#f9c72a,#f9c42b,#f8c12c,#f8bf2c,#f8c02c,#f9c12c,#f9c22c,#f8bf2c,#f1ba2c,#dfb82b,#babf32,#84c251,#5bbf6f,#3fb986,#2db299,#20ada7,#1daaaf,#1ca9b3,#1ba8b6,#1aa6ba,#19a4c1,#17a1c9,#179ed0,#199bd5,#1a99d8,#1a98d9,#1a99d7,#189dd2,#17a2c7,#1ba8b7,#20ada8,#2db29a,#33b593,#32b494,#29b19e,#1daab0,#18a3c5,#199ad6,#1d92e2,#228ce7,#2489e9,#2588e9,#2587ea,#2785eb,#2981ed,#2d7df0,#3078f0,#3473f0,#376ef0,#3a6bf0,#3d68f0,#3e66f0,#3f64ef,#3f63ef,#4061ee,#415fed,#425ded,#435bec,#4459eb,#4458eb,#4458eb,#4458eb,#4459eb,#4459eb,#445aeb,#4459eb,#4459eb,#4459eb,#4459eb)"></i>
<i style="background:linear-gradient(90deg,#f8bd2d,#f8bd2d,#f8bd2d,#f7bc2d,#f6bb2d,#f7bc2d,#f8be2c,#f9c22b,#f9c62b,#f9c92a,#f9ca2a,#f9c92a,#f9c62b,#f9c22b,#f8c02c,#f8c02c,#f9c12c,#f9c22c,#f8be2d,#f1ba2c,#dfb82b,#babf32,#84c251,#5bbf6f,#3eb987,#2cb29b,#1faca9,#1daab0,#1ca9b4,#1ba8b7,#1aa6bb,#18a4c2,#17a1cb,#179dd1,#199ad6,#1a99d8,#1a98d9,#199ad6,#179ed0,#18a3c5,#1ba8b6,#20ada7,#2cb29a,#32b494,#31b495,#28b09f,#1caab1,#18a3c6,#199ad6,#1d92e2,#228ce7,#2489e9,#2488e9,#2587ea,#2784eb,#2a81ed,#2d7cf0,#3177f0,#3572f0,#386ef0,#3b6af0,#3d67f0,#3e65f0,#3f64ef,#3f63ef,#4061ee,#415fee,#425ded,#435bec,#4459eb,#4459eb,#4459eb,#4459eb,#4459eb,#445aeb,#445aec,#445aeb,#4459eb,#4459eb,#4459eb)"></i>
<i style="background:linear-gradient(90deg,#f8bf2c,#f8bf2c,#f8bf2c,#f8bd2d,#f7bc2d,#f8bc2d,#f8bf2c,#f9c32b,#f9c72a,#f9cb29,#facc29,#facb29,#f9c82a,#f9c42b,#f9c12c,#f8c12c,#f9c22c,#f9c12c,#f8bd2d,#f0b92c,#deb82b,#babf32,#84c251,#5bbf6f,#3eb987,#2bb19c,#1eacaa,#1caab1,#1ca8b4,#1ba7b7,#1aa6bc,#18a3c3,#16a0cd,#189cd2,#199ad7,#1a98d9,#1a98d9,#199ad5,#179fcf,#18a3c3,#1ca8b5,#21ada7,#2cb29b,#31b495,#2fb397,#26afa1,#1ca9b2,#17a2c7,#199ad7,#1d92e2,#218ce7,#2489e8,#2488e9,#2587ea,#2784eb,#2a80ee,#2e7bf0,#3275f0,#3671f0,#396cf0,#3c69f0,#3d67f0,#3e65f0,#3f64ef,#3f63ef,#4061ee,#415fee,#425ded,#435bec,#445aec,#4459eb,#4459eb,#4459eb,#445aec,#435aec,#435aec,#435aec,#445aec,#445aec,#445aec)"></i>
<i style="background:linear-gradient(90deg,#f9c22c,#f9c22c,#f9c22c,#f8bf2c,#f8bd2d,#f8be2d,#f8c12c,#f9c52b,#f9c92a,#facd29,#facf28,#face29,#f9ca29,#f9c62a,#f9c32b,#f9c22c,#f9c22b,#f9c12c,#f8bd2d,#efb92c,#ddb82b,#b9bf32,#84c251,#5bbf6f,#3db988,#2ab19d,#1eacab,#1ca9b1,#1ca8b5,#1ba7b8,#1aa6bd,#18a3c5,#169fce,#199bd4,#1a99d8,#1b97da,#1a98d9,#199bd5,#179fce,#18a4c2,#1ca9b4,#21ada7,#2bb19b,#30b397,#2eb299,#24aea3,#1ca9b4,#17a2c8,#199ad7,#1d92e2,#218ce7,#238ae8,#2488e9,#2587ea,#2884ec,#2b7fee,#2f7af0,#3374f0,#376ff0,#3a6bf0,#3c68f0,#3e66f0,#3f65f0,#3f64ef,#4063ef,#4061ee,#415fee,#425ded,#435cec,#435aec,#445aec,#445aec,#435aec,#435bec,#435bec,#435bec,#435bec,#435aec,#435aec,#435aec)"></i>
<i style="background:linear-gradient(90deg,#f9c52b,#f9c52b,#f9c52b,#f9c22c,#f8bf2c,#f8c02c,#f9c32b,#f9c72a,#facc29,#facf28,#fad128,#fad028,#facd29,#f9c82a,#f9c52b,#f9c32b,#f9c32b,#f9c12c,#f8bd2d,#efb92c,#ddb82b,#b9bf33,#84c251,#5bbf6f,#3db988,#2ab19d,#1eacab,#1ca9b1,#1ca8b5,#1ba7b8,#1aa5bd,#17a2c6,#179ed0,#199ad6,#1b97db,#1b96dc,#1a98da,#199bd5,#169fce,#19a4c1,#1ca9b4,#21ada7,#2ab19c,#2eb398,#2bb19b,#22aea6,#1ba8b6,#17a1c9,#1a99d7,#1d92e2,#218de6,#238ae8,#2488e9,#2587ea,#2883ec,#2c7eef,#3078f0,#3472f0,#386ef0,#3b6af0,#3d67f0,#3e66f0,#3f64ef,#3f63ef,#4062ef,#4061ee,#4160ee,#425eed,#425cec,#435bec,#435bec,#435bec,#435bec,#435cec,#425cec,#425cec,#435cec,#435cec,#435cec,#435cec)"></i>
<i style="background:linear-gradient(90deg,#f9c82a,#f9c82a,#f9c82a,#f9c42b,#f9c12c,#f9c22c,#f9c52b,#f9c92a,#face29,#fad227,#fad426,#fad327,#fad028,#facb29,#f9c72a,#f9c52b,#f9c42b,#f9c22c,#f8bd2d,#efb92b,#dcb82b,#b8bf33,#84c251,#5bbf6f,#3eb987,#2bb19c,#1eacaa,#1caab1,#1ca9b4,#1ba7b8,#19a5be,#17a2c8,#189dd2,#1a98d9,#1c95dd,#1c95de,#1b97db,#199ad6,#169fce,#19a4c1,#1ca9b4,#20ada7,#29b19e,#2cb29a,#29b09e,#1faca9,#1ba7b8,#17a1ca,#1a99d8,#1d92e2,#218de6,#238ae8,#2488e9,#2686ea,#2882ec,#2c7def,#3177f0,#3671f0,#396cf0,#3c69f0,#3e66f0,#3e65f0,#3f64ef,#3f63ef,#4062ef,#4061ee,#4160ee,#425eed,#425ded,#435cec,#435cec,#435cec,#425ded,#425ded,#425eed,#425eed,#425ded,#425ded,#425ded,#425ded)"></i>
<i style="background:linear-gradient(90deg,#f9cb29,#f9cb29,#f9cb29,#f9c72a,#f9c42b,#f9c42b,#f9c72a,#facc29,#fad128,#fad526,#f9d725,#f9d626,#fad327,#face28,#f9ca29,#f9c72a,#f9c52b,#f9c22b,#f8bd2d,#eeb92b,#dbb82b,#b8bf33,#84c251,#5cbf6e,#3fb986,#2cb29b,#1faca9,#1daab0,#1ca9b3,#1ba8b7,#19a5be,#17a1ca,#189cd4,#1b97dc,#1d94e0,#1d93e0,#1c95dd,#1a99d7,#179fcf,#19a4c2,#1ca9b4,#20ada8,#28b09f,#2ab19d,#26afa1,#1eabac,#1aa7ba,#16a0cc,#1a99d8,#1d92e2,#218de6,#238ae8,#2488e9,#2686ea,#2982ed,#2d7cf0,#3275f0,#376ff0,#3b6af0,#3d67f0,#3e66f0,#3f64ef,#3f63ef,#3f63ef,#4062ef,#4061ee,#4160ee,#415fed,#425eed,#425ded,#425ded,#425ded,#425eed,#415fed,#415fed,#415fee,#415fed,#415eed,#415eed,#415eed)"></i>
<i style="background:linear-gradient(90deg,#face29,#face29,#face29,#f9ca29,#f9c72a,#f9c72a,#f9ca29,#facf28,#fad327,#f9d725,#f9da24,#f9d924,#f9d626,#fad127,#facd29,#f9ca2a,#f9c72a,#f9c32b,#f8bd2d,#eeb92b,#dbb92b,#b7bf33,#85c251,#5dbf6d,#40b985,#2db299,#20ada8,#1dabae,#1ca9b2,#1ba8b7,#19a5bf,#16a0cc,#199ad6,#1c95de,#1e92e3,#1e91e3,#1c94df,#1a99d8,#179ed0,#18a4c2,#1ca8b4,#1faca9,#27b0a0,#28b09f,#24aea4,#1daaae,#1aa6bc,#16a0cd,#1a98d9,#1d92e2,#218de6,#238ae8,#2488e9,#2686eb,#2a81ed,#2e7af0,#3473f0,#396df0,#3c69f0,#3e66f0,#3f65f0,#3f64ef,#3f63ef,#4062ef,#4062ee,#4061ee,#4160ee,#415fed,#425eed,#425eed,#425eed,#415fed,#415fee,#4160ee,#4061ee,#4061ee,#4160ee,#4160ee,#4160ee,#4160ee)"></i>
<i style="background:linear-gradient(90deg,#fad128,#fad128,#fad128,#facd29,#f9ca2a,#f9ca29,#facd29,#fad127,#f9d626,#f9da24,#f9dc23,#f9dc23,#f9d924,#fad426,#fad028,#facc29,#f9c82a,#f9c42b,#f8bd2d,#eeb92b,#dab92b,#b7bf33,#85c250,#5ebf6d,#41ba84,#2fb398,#22aea6,#1dabad,#1caab1,#1ba8b6,#19a5bf,#16a0cd,#1a99d8,#1d93e1,#208fe5,#1f8fe5,#1d93e2,#1b98da,#179ed1,#18a3c3,#1ca8b5,#1eacaa,#25afa2,#26afa1,#21ada7,#1caab1,#19a5bf,#169fce,#1a98d9,#1d92e2,#208ee6,#238be8,#2488e9,#2785eb,#2a80ee,#3079f0,#3571f0,#3a6bf0,#3d67f0,#3f65f0,#3f64ef,#3f63ef,#3f63ef,#4062ef,#4062ee,#4061ee,#4160ee,#415fee,#415fed,#415fed,#415fee,#4160ee,#4061ee,#4062ee,#4062ef,#4062ef,#4062ef,#4061ee,#4061ee,#4061ee)"></i>
<i style="background:linear-gradient(90deg,#fad427,#fad427,#fad427,#fad028,#facd29,#facd29,#fad028,#fad426,#f9d925,#f9dd23,#f8df22,#f9df22,#f9dc23,#f9d725,#fad327,#face28,#f9ca29,#f9c52b,#f8bd2d,#eeb92b,#dab92b,#b7bf34,#85c250,#5ebf6c,#43ba83,#30b396,#24aea4,#1eacab,#1daab0,#1ba8b5,#19a5bf,#179fce,#1b98da,#1e91e4,#218ce7,#218de7,#1e91e4,#1b97dc,#189dd2,#18a3c4,#1ba8b6,#1eacab,#24aea4,#24aea4,#1eacaa,#1ca9b4,#19a4c2,#179ed0,#1a98da,#1d92e2,#208ee6,#228be8,#2488e9,#2784eb,#2b7fef,#3177f0,#3770f0,#3b69f0,#3e65f0,#3f64ef,#3f63ef,#3f63ef,#4062ef,#4062ef,#4061ee,#4061ee,#4160ee,#4160ee,#4160ee,#4160ee,#4061ee,#4061ee,#4062ef,#3f63ef,#3f64ef,#3f64ef,#3f63ef,#3f63ef,#3f63ef,#3f63ef)"></i>
<i style="background:linear-gradient(90deg,#f9d626,#f9d626,#f9d626,#fad327,#fad028,#fad028,#fad327,#f9d725,#f9db23,#f8df22,#f8e221,#f8e121,#f9df22,#f9da24,#f9d526,#fad128,#facc29,#f9c62b,#f8bd2d,#eeb92b,#d9b92b,#b6bf34,#86c250,#5fbf6b,#44ba82,#32b494,#25afa2,#1eacaa,#1daaae,#1ca8b5,#19a5c0,#179ed0,#1b96dc,#208fe5,#238ae8,#238ae8,#1f8fe5,#1c96dd,#189cd2,#18a3c5,#1ba8b6,#1eacab,#23aea5,#22ada6,#1dabad,#1ba8b7,#18a3c4,#179ed1,#1b97da,#1d92e2,#208ee6,#228be8,#2588e9,#2784ec,#2c7eef,#3276f0,#386ef0,#3d67f0,#3f64ef,#4062ef,#4062ef,#4062ef,#4062ef,#4062ee,#4061ee,#4061ee,#4160ee,#4160ee,#4160ee,#4061ee,#4062ee,#4063ef,#3f64ef,#3f64ef,#3e65f0,#3e65f0,#3f65f0,#3f64ef,#3f64ef,#3f64ef)"></i>
<i style="background:linear-gradient(90deg,#f9d825,#f9d825,#f9d825,#f9d526,#fad227,#fad327,#f9d526,#f9d924,#f9de23,#f8e221,#f8e420,#f8e420,#f8e121,#f9dd23,#f9d825,#fad327,#facd29,#f9c62a,#f8bd2d,#edb82b,#d9b92b,#b5bf34,#86c250,#60c06b,#46ba81,#33b593,#27b0a0,#20ada8,#1dabad,#1ca8b4,#19a4c0,#179ed0,#1c95dd,#218de6,#2588e9,#2488e9,#208ee6,#1c95de,#189cd3,#18a3c6,#1ba8b7,#1eabac,#21ada6,#20ada8,#1daaaf,#1aa7ba,#17a2c7,#189dd2,#1b97db,#1d92e2,#208ee6,#228be8,#2588e9,#2883ec,#2d7cf0,#3374f0,#396cf0,#3e66f0,#4062ef,#4061ee,#4062ee,#4062ef,#4062ef,#4062ee,#4061ee,#4061ee,#4061ee,#4061ee,#4061ee,#4062ee,#4062ef,#3f64ef,#3f65f0,#3e66f0,#3e66f0,#3e66f0,#3e66f0,#3e65f0,#3e65f0,#3e65f0)"></i>
<i style="background:linear-gradient(90deg,#f9da24,#f9da24,#f9da24,#f9d725,#fad426,#fad526,#f9d725,#f9db23,#f8e022,#f8e320,#f8e51f,#f8e51f,#f8e320,#f8df22,#f9da24,#fad526,#facf28,#f9c72a,#f8bd2d,#edb82b,#d8b92b,#b4bf35,#85c250,#60c06a,#47bb80,#34b592,#28b09f,#21ada7,#1dabad,#1ca9b4,#19a4c1,#179dd1,#1c94df,#228ce7,#2686ea,#2587ea,#218de6,#1c94df,#189cd4,#18a2c6,#1ba8b7,#1dabac,#20ada7,#1eacaa,#1ca9b2,#1aa6bc,#17a1c9,#189cd3,#1b97db,#1d92e2,#208ee6,#238be8,#2587ea,#2882ec,#2d7bf0,#3473f0,#3a6bf0,#3f64ef,#4061ee,#4160ee,#4061ee,#4062ee,#4062ef,#4062ee,#4061ee,#4061ee,#4061ee,#4061ee,#4061ee,#4062ef,#3f63ef,#3f64ef,#3e65f0,#3e66f0,#3d67f0,#3d67f0,#3e67f0,#3e66f0,#3e66f0,#3e66f0)"></i>
<i style="background:linear-gradient(90deg,#f9dc23,#f9dc23,#f9dc23,#f9d924,#f9d625,#f9d725,#f9d924,#f9dd23,#f8e121,#f8e520,#f7e61f,#f7e71f,#f8e51f,#f8e121,#f9dc23,#f9d625,#fad028,#f9c82a,#f8be2d,#edb82b,#d7b92b,#b3c035,#85c250,#60c06a,#47bb7f,#35b591,#29b09e,#21ada6,#1dabad,#1ca8b4,#19a4c1,#189dd2,#1c94e0,#238be8,#2685eb,#2686ea,#218ce7,#1c94df,#189cd4,#18a2c6,#1ba8b7,#1dabac,#1fada8,#1eabac,#1ca9b4,#19a5bf,#16a1cc,#199bd4,#1b96dc,#1d92e2,#208ee6,#238be8,#2587ea,#2982ed,#2e7af0,#3572f0,#3c69f0,#3f63ef,#4160ee,#4160ee,#4061ee,#4062ee,#4062ef,#4062ef,#4062ee,#4061ee,#4061ee,#4061ee,#4061ee,#4062ef,#3f63ef,#3f64ef,#3e66f0,#3d67f0,#3d67f0,#3d67f0,#3d67f0,#3e66f0,#3e66f0,#3e66f0)"></i>
<i style="background:linear-gradient(90deg,#f9dc23,#f9dc23,#f9dc23,#f9da24,#f9d825,#f9d825,#f9db24,#f9de22,#f8e221,#f8e61f,#f7e71e,#f7e71e,#f8e61f,#f8e321,#f9dd23,#f9d725,#fad028,#f9c82a,#f8bd2d,#edb82b,#d7ba2b,#b2c036,#84c251,#60c06b,#47bb7f,#35b591,#29b19e,#21ada6,#1dabad,#1ba8b5,#18a4c2,#189cd2,#1d94e0,#238be8,#2685eb,#2686ea,#218ce7,#1c94df,#189cd4,#18a3c6,#1ba8b7,#1dabac,#1faca9,#1dabad,#1ba8b6,#19a4c1,#16a0cd,#199bd5,#1b96dd,#1e92e3,#208ee6,#238ae8,#2686ea,#2981ed,#2f7af0,#3671f0,#3c68f0,#4062ef,#415fed,#415fed,#4160ee,#4062ee,#4062ef,#4062ef,#4062ee,#4061ee,#4061ee,#4061ee,#4061ee,#4062ef,#3f63ef,#3f64ef,#3e66f0,#3e67f0,#3d67f0,#3d67f0,#3d67f0,#3e66f0,#3e66f0,#3e66f0)"></i>
<i style="background:linear-gradient(90deg,#f9dd23,#f9dd23,#f9dd23,#f9da24,#f9d825,#f9d924,#f9db23,#f8df22,#f8e320,#f7e61f,#f7e81e,#f7e81e,#f7e61f,#f8e320,#f9de22,#f9d825,#fad128,#f9c82a,#f8bd2d,#ecb82b,#d6ba2b,#b0c037,#83c252,#5fbf6b,#46bb80,#34b591,#28b09f,#20ada7,#1dabae,#1ba8b6,#18a3c3,#189cd3,#1c94e0,#228be7,#2686ea,#2587e9,#218de6,#1c95de,#189cd3,#18a3c4,#1ba8b6,#1eabac,#1faca9,#1dabae,#1ba7b7,#18a3c3,#179fcf,#199ad6,#1c95dd,#1e92e3,#208ee6,#238ae8,#2686ea,#2a80ed,#3079f0,#3770f0,#3d67f0,#4061ee,#415fed,#415fed,#4160ee,#4062ee,#4063ef,#3f63ef,#4062ef,#4062ee,#4061ee,#4061ee,#4061ee,#4061ee,#4062ef,#3f64ef,#3f65f0,#3e66f0,#3d67f0,#3d67f0,#3e66f0,#3e65f0,#3e65f0,#3e65f0)"></i>
<i style="background:linear-gradient(90deg,#f9dc23,#f9dc23,#f9dc23,#f9da24,#f9d825,#f9d924,#f9dc23,#f8df22,#f8e320,#f7e61f,#f7e81e,#f7e81e,#f7e61f,#f8e420,#f9de22,#f9d825,#fad128,#f9c82a,#f8bd2d,#ecb82b,#d5ba2b,#afc038,#81c253,#5ebf6c,#45ba81,#33b593,#27b0a0,#1faca9,#1daab0,#1ba7b8,#18a3c4,#189cd3,#1c94df,#218ce7,#2488e9,#2389e8,#1f8fe5,#1b96dc,#179dd1,#18a4c3,#1ca8b4,#1eacab,#1faca9,#1daaaf,#1ba7b8,#18a3c5,#179ed0,#1a99d7,#1c95de,#1e91e3,#218de6,#238ae8,#2685eb,#2a80ee,#3078f0,#376ff0,#3e67f0,#4061ee,#425eed,#415eed,#4160ee,#4062ef,#3f63ef,#3f63ef,#3f63ef,#4062ef,#4061ee,#4061ee,#4160ee,#4061ee,#4061ee,#4062ef,#3f64ef,#3f65f0,#3e66f0,#3e66f0,#3f65f0,#3f64ef,#3f64ef,#3f64ef)"></i>
<i style="background:linear-gradient(90deg,#f9db24,#f9db24,#f9db24,#f9d924,#f9d825,#f9d925,#f9db23,#f8df22,#f8e320,#f8e61f,#f7e71e,#f7e81e,#f7e61f,#f8e320,#f9de22,#f9d825,#fad028,#f9c72a,#f8bc2d,#ebb82b,#d4ba2c,#adc039,#80c254,#5cbf6e,#43ba83,#32b495,#25afa2,#1eabab,#1ca9b2,#1aa7ba,#18a3c5,#189cd3,#1c95de,#208ee5,#238be8,#218ce7,#1e92e3,#1a98da,#179fcf,#19a4c0,#1ca9b3,#1eacab,#1faca9,#1daaaf,#1aa7ba,#18a2c6,#179ed1,#1a99d8,#1c95df,#1e91e4,#218de6,#2489e8,#2785eb,#2b7fee,#3177f0,#376ef0,#3e66f0,#4160ee,#425eed,#415eed,#4160ee,#4062ef,#3f64ef,#3f64ef,#3f64ef,#3f63ef,#4062ee,#4160ee,#415fee,#415fee,#4160ee,#4061ee,#4062ef,#3f63ef,#3f64ef,#3f64ef,#3f63ef,#4062ef,#4062ef,#4062ef)"></i>
<i style="background:linear-gradient(90deg,#f9da24,#f9da24,#f9da24,#f9d825,#f9d725,#f9d825,#f9db24,#f9de22,#f8e221,#f8e51f,#f7e71e,#f7e71e,#f8e51f,#f8e221,#f9dd23,#f9d725,#fad028,#f9c72a,#f8bc2d,#ebb82b,#d2ba2c,#abc03a,#7ec256,#5bbf6f,#41ba85,#2fb397,#22aea5,#1dabae,#1ca8b4,#1aa6bc,#17a2c7,#189dd2,#1b96dc,#1e91e4,#208ee6,#1f8fe5,#1c94e0,#199ad7,#16a0cd,#19a5be,#1ca9b1,#1eacaa,#1eacaa,#1daab0,#1aa6bb,#17a2c8,#189dd2,#1a98d9,#1c94df,#1e90e4,#218ce7,#2489e9,#2784eb,#2b7fee,#3177f0,#386ef0,#3e66f0,#4160ee,#425eed,#415fed,#4061ee,#4063ef,#3f64ef,#3f65ef,#3f64ef,#3f63ef,#4062ee,#4160ee,#415eed,#425eed,#425eed,#415fed,#4160ee,#4061ee,#4062ef,#4062ef,#4061ee,#4160ee,#4160ee,#4160ee)"></i>
<i style="background:linear-gradient(90deg,#f9d825,#f9d825,#f9d825,#f9d625,#f9d526,#f9d725,#f9d924,#f9dd23,#f8e121,#f8e420,#f8e61f,#f7e61f,#f8e520,#f8e121,#f9dc23,#f9d626,#facf28,#f9c62a,#f7bc2d,#eab72b,#d1bb2c,#a9c13b,#7cc257,#59be71,#3eb987,#2db29a,#20ada8,#1caab1,#1ba7b7,#19a5be,#17a2c8,#189dd2,#1b97da,#1d93e1,#1e91e4,#1d93e1,#1b97dc,#189cd3,#17a2c8,#1aa6bb,#1daab0,#1eacaa,#1eacaa,#1caab1,#1aa6bc,#17a1c9,#189cd3,#1a98da,#1d94e0,#1f90e5,#228ce7,#2488e9,#2884ec,#2c7eef,#3176f0,#386ef0,#3e66f0,#4160ee,#425eed,#415fed,#4061ee,#3f63ef,#3f64ef,#3e65f0,#3f65f0,#3f64ef,#4061ee,#415fee,#425ded,#435cec,#435cec,#425ded,#425eed,#415fee,#4160ee,#4160ee,#415fed,#425eed,#425eed,#425eed)"></i>
<i style="background:linear-gradient(90deg,#f9d626,#f9d626,#f9d626,#fad426,#fad427,#f9d526,#f9d825,#f9dc23,#f8e022,#f8e320,#f8e51f,#f8e51f,#f8e320,#f8e022,#f9db24,#fad526,#face29,#f9c52b,#f7bc2d,#eab72b,#d1bb2c,#a7c13c,#7ac258,#57be72,#3cb889,#2ab19d,#1eacab,#1ca9b4,#1aa6ba,#19a4c1,#17a1c9,#189dd1,#1a98d9,#1c95de,#1c94e0,#1c96dd,#1a99d7,#179ecf,#18a3c4,#1ba7b8,#1daaae,#1eacaa,#1eacab,#1ca9b3,#19a5be,#16a1cb,#189cd4,#1b97db,#1d93e1,#208fe5,#228be8,#2587ea,#2883ec,#2c7def,#3276f0,#386ef0,#3e66f0,#4061ee,#415fed,#415fed,#4061ee,#3f63ef,#3f65f0,#3e66f0,#3e65f0,#3f64ef,#4061ee,#425eed,#435cec,#435aec,#445aec,#435aec,#435cec,#425ded,#425eed,#425eed,#425cec,#435bec,#435bec,#435bec)"></i>
<i style="background:linear-gradient(90deg,#fad426,#fad426,#fad426,#fad227,#fad227,#fad327,#f9d625,#f9da24,#f9de22,#f8e221,#f8e420,#f8e420,#f8e221,#f9de22,#f9d924,#fad327,#facc29,#f9c42b,#f6bb2d,#e9b72b,#d0bb2c,#a6c13d,#78c159,#55bd74,#3ab78b,#28b0a0,#1dabae,#1ba8b7,#1aa5bd,#18a3c3,#17a1ca,#179dd1,#199ad7,#1b97da,#1b97db,#1a99d8,#189dd2,#17a1ca,#19a5bf,#1ca8b5,#1dabad,#1eacaa,#1dabad,#1ba8b5,#19a4c0,#16a0cd,#199bd5,#1b96dc,#1d92e2,#208ee6,#238ae8,#2686ea,#2982ed,#2d7df0,#3275f0,#386df0,#3e66f0,#4061ee,#415fed,#415fee,#4061ee,#3f63ef,#3e65f0,#3e66f0,#3e66f0,#3f64ef,#4061ee,#425ded,#435aec,#4458eb,#4557eb,#4458eb,#4459eb,#435aec,#435bec,#435bec,#445aec,#4459eb,#4459eb,#4459eb)"></i>
<i style="background:linear-gradient(90deg,#fad227,#fad227,#fad227,#fad028,#fad028,#fad127,#fad426,#f9d825,#f9dd23,#f8e022,#f8e221,#f8e221,#f8e022,#f9dc23,#f9d725,#fad227,#facb29,#f9c32b,#f5bb2d,#e9b72a,#cfbb2c,#a5c13d,#77c15a,#53bd75,#38b78e,#25afa3,#1caab1,#1aa6ba,#19a4c0,#18a3c6,#16a1cb,#179ed0,#199bd5,#1a99d7,#199ad7,#189cd3,#16a0cd,#18a3c3,#1aa7ba,#1ca9b2,#1dabad,#1eabac,#1daab0,#1ba7b8,#18a3c3,#179fcf,#199ad6,#1c95dd,#1e91e3,#218de6,#2489e9,#2785eb,#2a81ed,#2d7cf0,#3375f0,#386df0,#3e66f0,#4061ee,#415fed,#415fee,#4061ee,#3f63ef,#3e65f0,#3e66f0,#3e66f0,#3f64ef,#4160ee,#425cec,#4458eb,#4556ea,#4655ea,#4655ea,#4557ea,#4458eb,#4459eb,#4459eb,#4557eb,#4556ea,#4556ea,#4556ea)"></i>
<i style="background:linear-gradient(90deg,#facf28,#facf28,#facf28,#face29,#facd29,#facf28,#fad327,#f9d725,#f9db24,#f9de22,#f8e022,#f8e022,#f9de23,#f9da24,#f9d526,#fad028,#f9ca2a,#f9c22b,#f5bb2c,#e9b72a,#cfbb2c,#a5c13d,#76c15b,#52bd77,#36b690,#22aea6,#1ca9b4,#1aa5bd,#18a3c3,#17a2c8,#16a0cc,#179ed0,#189cd3,#189bd4,#189cd3,#169fce,#18a2c6,#1aa6bc,#1ca8b4,#1daaaf,#1dabad,#1dabae,#1ca9b4,#1aa6bc,#17a2c7,#179ed1,#1a99d8,#1c94df,#1f90e5,#228be7,#2587ea,#2884ec,#2a80ee,#2e7bf0,#3374f0,#396df0,#3e66f0,#4061ee,#415fee,#4160ee,#4061ee,#3f63ef,#3f65f0,#3e66f0,#3e65f0,#3f63ef,#415fee,#435bec,#4557ea,#4654e9,#4753e9,#4753e9,#4654e9,#4655ea,#4556ea,#4556ea,#4655ea,#4654e9,#4654e9,#4654e9)"></i>
<i style="background:linear-gradient(90deg,#facd29,#facd29,#facd29,#facc29,#facb29,#facd29,#fad128,#fad526,#f9d924,#f9dc23,#f9de22,#f9de22,#f9dc23,#f9d825,#fad327,#face28,#f9c92a,#f9c22c,#f4bb2c,#e9b72a,#cfbb2c,#a5c13d,#76c15b,#51bd78,#34b591,#20ada8,#1ba8b7,#19a4c0,#18a2c6,#17a1ca,#16a0cd,#179ecf,#189dd1,#189dd2,#179fcf,#17a2c8,#19a5be,#1ba8b5,#1daaaf,#1dabad,#1dabae,#1ca9b2,#1ba7b9,#19a4c1,#16a1cc,#189cd3,#1b98da,#1d93e1,#208ee5,#238ae8,#2686ea,#2982ed,#2b7eef,#2f7af0,#3473f0,#396df0,#3e66f0,#4062ee,#415fee,#415fee,#4061ee,#4063ef,#3f64ef,#3e65f0,#3f65ef,#4062ef,#425eed,#4459eb,#4655ea,#4751e9,#4850e8,#4851e8,#4752e9,#4753e9,#4654ea,#4654ea,#4753e9,#4752e9,#4752e9,#4752e9)"></i>
<i style="background:linear-gradient(90deg,#facb29,#facb29,#facb29,#f9ca2a,#f9c92a,#facb29,#facf28,#fad327,#f9d725,#f9db24,#f9dd23,#f9dc23,#f9da24,#f9d626,#fad127,#facd29,#f9c72a,#f8c12c,#f4bb2c,#e9b72a,#d0bb2c,#a6c13d,#76c15b,#50bc78,#33b593,#1eacaa,#1ba7b9,#18a4c2,#17a2c8,#16a1cb,#16a0cd,#179fcf,#179ed0,#179ecf,#16a1cb,#19a4c2,#1ba7b7,#1dabae,#1eacaa,#1eacab,#1daaaf,#1ba8b7,#19a5bf,#17a2c8,#179ed0,#199ad6,#1b96dc,#1e92e3,#218de7,#2588e9,#2784ec,#2a80ed,#2c7df0,#3078f0,#3473f0,#396cf0,#3e66f0,#4062ee,#415fee,#415fee,#4160ee,#4062ef,#3f63ef,#3f64ef,#3f64ef,#4061ee,#425ded,#4558eb,#4753e9,#484fe7,#484ee6,#484ee7,#484fe8,#4851e8,#4752e9,#4752e9,#4751e8,#4850e8,#4850e8,#4850e8)"></i>
<i style="background:linear-gradient(90deg,#f9ca2a,#f9ca2a,#f9ca2a,#f9c82a,#f9c72a,#f9c92a,#facd29,#fad128,#f9d526,#f9d924,#f9db24,#f9db24,#f9d825,#fad426,#fad028,#facb29,#f9c62a,#f8c02c,#f4bb2c,#e9b72a,#d1bb2c,#a8c13c,#77c15a,#50bc78,#32b494,#1eabac,#1aa6bb,#18a3c4,#17a1c9,#16a0cc,#16a0ce,#179fcf,#179ecf,#169fce,#17a2c7,#1aa6bc,#1daab0,#21ada7,#24afa3,#1faca9,#1ca9b2,#1aa5bd,#17a2c7,#179fcf,#199bd4,#1a98d9,#1c94df,#1f90e5,#238ae8,#2686eb,#2982ed,#2b7eef,#2e7bf0,#3177f0,#3572f0,#3a6bf0,#3e66f0,#4061ee,#415fee,#415fed,#4160ee,#4061ee,#4062ef,#4063ef,#4062ef,#415fee,#435bec,#4556ea,#4851e8,#484de6,#484ce4,#484ce5,#484ee6,#484fe7,#4850e8,#4851e8,#4850e8,#484fe7,#484fe7,#484fe7)"></i>
<i style="background:linear-gradient(90deg,#f9c82a,#f9c82a,#f9c82a,#f9c72a,#f9c62b,#f9c72a,#f9cb29,#facf28,#fad427,#f9d725,#f9d924,#f9d924,#f9d625,#fad327,#face28,#f9ca2a,#f9c52b,#f8c02c,#f4bb2c,#e9b72b,#d2bb2c,#aac03a,#79c159,#50bd78,#32b494,#1dabad,#1aa6bc,#18a3c6,#17a1ca,#16a0cc,#16a0ce,#179fcf,#179fcf,#16a0cd,#18a3c5,#1ba7b8,#1eacaa,#29b09e,#2ab19d,#20ada8,#1ba8b6,#18a3c5,#179ecf,#199bd5,#1a98d9,#1c95dd,#1d92e2,#218de6,#2488e9,#2883ec,#2b7fee,#2d7cf0,#2f79f0,#3275f0,#3670f0,#3a6bf0,#3e65f0,#4061ee,#415fed,#425eed,#415fed,#4160ee,#4160ee,#4061ee,#4160ee,#425ded,#4459eb,#4654e9,#484fe7,#484ce4,#474ae3,#484be3,#484ce4,#484ee6,#484fe7,#4850e8,#484fe7,#484ee6,#484ee6,#484ee6)"></i>
<i style="background:linear-gradient(90deg,#f9c72a,#f9c72a,#f9c72a,#f9c52b,#f9c42b,#f9c62b,#f9c92a,#face29,#fad227,#f9d626,#f9d825,#f9d825,#fad526,#fad128,#facd29,#f9c82a,#f9c42b,#f8bf2c,#f4bb2c,#e9b72b,#d3ba2c,#adc039,#7bc257,#51bd77,#32b495,#1dabae,#1aa5be,#17a2c7,#16a1cb,#16a0cc,#16a0cd,#179fcf,#179fcf,#16a0cc,#18a4c3,#1ca9b4,#24afa3,#30b396,#2fb398,#21ada7,#1aa7ba,#16a0cd,#199ad6,#1b96dc,#1c94df,#1d92e2,#1f8fe5,#238be8,#2685eb,#2a81ed,#2c7def,#2e7af0,#3177f0,#3374f0,#376ff0,#3b6af0,#3f65f0,#4061ee,#415eed,#425eed,#425eed,#425eed,#415fed,#415fed,#425ded,#435bec,#4556ea,#4751e9,#484de5,#474ae2,#4749e1,#4749e2,#484be3,#484ce5,#484ee6,#484fe7,#484fe7,#484ee6,#484ee6,#484ee6)"></i>
<i style="background:linear-gradient(90deg,#f9c62a,#f9c62a,#f9c62a,#f9c42b,#f9c32b,#f9c42b,#f9c82a,#facc29,#fad128,#fad426,#f9d725,#f9d626,#fad427,#fad028,#facb29,#f9c72a,#f9c32b,#f8bf2c,#f4bb2c,#eab72b,#d5ba2b,#b1c037,#7ec255,#53bd76,#32b494,#1dabae,#19a5be,#17a2c7,#16a1cb,#16a0cc,#16a0cd,#179fcf,#179fcf,#16a0cc,#19a4c1,#1daab0,#2ab19c,#37b68f,#33b592,#21ada7,#19a5bf,#189cd3,#1c95dd,#1e92e3,#1f90e5,#208fe5,#228ce7,#2588e9,#2883ec,#2c7eef,#2e7af0,#3078f0,#3275f0,#3572f0,#386ef0,#3c69f0,#3f64ef,#4160ee,#425eed,#425ded,#425cec,#425ced,#425ced,#435cec,#435bec,#4458eb,#4654e9,#484fe7,#484be3,#4748e1,#4747e0,#4748e1,#4749e2,#484be4,#484de5,#484ee6,#484ee7,#484ee6,#484ee6,#484ee6)"></i>
<i style="background:linear-gradient(90deg,#f9c52b,#f9c52b,#f9c52b,#f9c32b,#f9c22c,#f9c32b,#f9c62a,#f9cb29,#facf28,#fad327,#f9d526,#fad526,#fad227,#face28,#f9ca29,#f9c62a,#f9c32b,#f8be2c,#f4bb2c,#ebb82b,#d7b92b,#b4bf35,#81c253,#54bd74,#32b494,#1daaaf,#19a5bf,#17a2c7,#17a1cb,#16a1cc,#16a0cd,#179fce,#179fcf,#16a0cd,#19a4c1,#1dabae,#30b397,#3db888,#38b68e,#21ada7,#18a3c3,#1a98d9,#1e90e4,#228ce7,#238ae8,#238ae8,#2488e9,#2784eb,#2a80ee,#2e7bf0,#3078f0,#3275f0,#3473f0,#3670f0,#396cf0,#3d68f0,#3f63ef,#4160ee,#425ded,#435cec,#435bec,#435bec,#435aec,#4459eb,#4458eb,#4655ea,#4751e8,#484de5,#4749e2,#4747df,#4746df,#4747e0,#4748e1,#474ae3,#484ce5,#484ee6,#484ee6,#484ee6,#484ee6,#484ee6)"></i>
<i style="background:linear-gradient(90deg,#f9c52b,#f9c52b,#f9c52b,#f9c22b,#f8c12c,#f9c22c,#f9c52b,#f9ca2a,#face28,#fad227,#fad426,#fad426,#fad128,#facd29,#f9c92a,#f9c52b,#f9c22b,#f8be2d,#f4bb2c,#ebb82b,#d9b92b,#b8bf33,#84c251,#56be73,#33b593,#1daaae,#19a5bf,#17a2c7,#17a1ca,#17a1cb,#16a0cc,#169fce,#179ecf,#16a0cd,#19a4c0,#1eacab,#34b591,#43ba83,#3cb88a,#20ada7,#17a2c8,#1c95de,#238ae8,#2685eb,#2785eb,#2686ea,#2785eb,#2981ed,#2c7df0,#3078f0,#3275f0,#3473f0,#3671f0,#376ef0,#3a6bf0,#3d67f0,#4063ef,#415fed,#425cec,#435bec,#4459eb,#4459eb,#4458eb,#4557ea,#4655ea,#4752e9,#484ee7,#484be3,#4747e0,#4745de,#4745de,#4746df,#4747e0,#4749e2,#484ce4,#484de6,#484ee7,#484fe7,#484fe7,#484fe7)"></i>
<i style="background:linear-gradient(90deg,#f9c42b,#f9c42b,#f9c42b,#f9c22c,#f8c02c,#f8c12c,#f9c42b,#f9c92a,#facd29,#fad128,#fad327,#fad327,#fad028,#facc29,#f9c82a,#f9c42b,#f9c12c,#f8be2d,#f4bb2c,#ecb82b,#dbb92b,#bcbf31,#87c24f,#58be71,#34b592,#1dabae,#19a5bf,#17a2c7,#17a1ca,#17a1ca,#16a1cb,#169fce,#179ed0,#16a0ce,#19a4c0,#1faca9,#38b78d,#49bb7e,#3fb986,#20ada8,#16a0cd,#1e91e4,#2784ec,#2b7fee,#2b7fee,#2981ed,#2a81ed,#2c7eef,#2f7af0,#3275f0,#3572f0,#3670f0,#376ff0,#396df0,#3b6af0,#3e66f0,#4062ee,#425eed,#435bec,#4459eb,#4458eb,#4557ea,#4655ea,#4654e9,#4752e9,#484fe7,#484ce4,#4748e1,#4745de,#4744dd,#4744dd,#4745de,#4746df,#4749e1,#484be4,#484de5,#484fe7,#484fe7,#484fe7,#484fe7)"></i>
<i style="background:linear-gradient(90deg,#f9c42b,#f9c42b,#f9c42b,#f9c12c,#f8bf2c,#f8c02c,#f9c32b,#f9c82a,#facc29,#fad028,#fad227,#fad227,#facf28,#f9cb29,#f9c72a,#f9c42b,#f8c12c,#f8bd2d,#f4bb2c,#ecb82b,#dcb82b,#c0be2f,#8ac34d,#5abe70,#35b591,#1dabae,#19a5bf,#17a2c7,#17a1c9,#17a2c9,#17a1ca,#169fce,#179ed0,#169fce,#19a4c0,#20ada8,#3cb88a,#4ebc79,#42ba83,#1faca9,#179ed0,#218de6,#2b7eef,#2f79f0,#2e7af0,#2d7df0,#2c7def,#2e7af0,#3176f0,#3472f0,#3770f0,#386ef0,#396df0,#3a6bf0,#3c68f0,#3f65ef,#4061ee,#425ded,#435bec,#4458eb,#4556ea,#4655ea,#4753e9,#4751e8,#484fe7,#484ce4,#4749e2,#4746df,#4744dd,#4742dc,#4742dc,#4744dd,#4746df,#4748e1,#484be3,#484de5,#484fe7,#484fe7,#484fe7,#484fe7)"></i>
<i style="background:linear-gradient(90deg,#f9c42b,#f9c42b,#f9c42b,#f9c12c,#f8bf2c,#f8c02c,#f9c32b,#f9c72a,#facb29,#facf28,#fad127,#fad128,#face28,#f9ca29,#f9c62b,#f9c32b,#f8c02c,#f8bd2d,#f4bb2c,#ecb82b,#deb82b,#c3be2d,#8dc34b,#5cbf6e,#36b690,#1dabad,#19a5be,#18a2c6,#17a2c8,#17a2c7,#17a1c9,#16a0ce,#179ed0,#169fce,#19a4c0,#21ada6,#3eb987,#52bd76,#45ba81,#1eacaa,#189dd2,#2489e8,#2f7af0,#3374f0,#3275f0,#3078f0,#2f79f0,#3177f0,#3473f0,#3670f0,#386df0,#3a6cf0,#3a6bf0,#3c69f0,#3d67f0,#3f63ef,#4160ee,#425ded,#445aec,#4557eb,#4655ea,#4753e9,#4851e8,#484ee7,#484ce4,#4749e2,#4746df,#4744dd,#4742db,#4741da,#4741db,#4743dc,#4745de,#4748e0,#474ae3,#484de5,#484fe7,#4850e8,#4850e8,#4850e8)"></i>
<i style="background:linear-gradient(90deg,#f9c42b,#f9c42b,#f9c42b,#f8c12c,#f8be2c,#f8bf2c,#f9c22b,#f9c62a,#f9cb29,#facf28,#fad128,#fad028,#facd29,#f9c92a,#f9c52b,#f9c22b,#f8c02c,#f8bc2d,#f4bb2c,#ecb82b,#dfb82b,#c4be2d,#8fc349,#5dbf6d,#37b68f,#1dabad,#1aa5be,#18a3c5,#17a2c7,#18a2c6,#17a2c8,#16a0cd,#179ed0,#169fce,#19a4c0,#22aea5,#40b985,#55bd74,#46bb80,#1eacaa,#189cd4,#2686ea,#3276f0,#3670f0,#3671f0,#3374f0,#3275f0,#3473f0,#3670f0,#386df0,#3a6bf0,#3b6af0,#3c69f0,#3d68f0,#3e65f0,#4062ef,#415fed,#435cec,#4459eb,#4556ea,#4654e9,#4751e8,#484fe7,#484ce4,#4749e2,#4747df,#4744dd,#4742db,#4740da,#4740d9,#4740da,#4742db,#4744dd,#4747e0,#474ae2,#484de5,#484fe7,#4850e8,#4850e8,#4850e8)"></i>
<i style="background:linear-gradient(90deg,#f9c32b,#f9c32b,#f9c32b,#f8c12c,#f8be2c,#f8bf2c,#f9c22c,#f9c62b,#f9ca29,#face29,#fad028,#facf28,#facc29,#f9c82a,#f9c42b,#f9c12c,#f8bf2c,#f8bc2d,#f4bb2c,#edb82b,#dfb82b,#c6bd2d,#91c348,#5fbf6c,#38b78e,#1eabac,#1aa6bd,#18a3c4,#18a3c6,#18a3c5,#17a2c7,#16a0cc,#179ecf,#16a0ce,#19a5bf,#23aea4,#41ba84,#56be73,#47bb80,#1eacab,#199bd5,#2785eb,#3374f0,#396df0,#386df0,#3670f0,#3571f0,#3670f0,#386ef0,#3a6bf0,#3c69f0,#3c68f0,#3d67f0,#3e66f0,#3f64ef,#4061ee,#425eed,#435bec,#4458eb,#4655ea,#4752e9,#4850e8,#484de5,#474ae2,#4747e0,#4744dd,#4742db,#4740d9,#463fd8,#463ed8,#463fd9,#4741da,#4743dd,#4746df,#4749e2,#484ce5,#484fe7,#4850e8,#4850e8,#4850e8)"></i>
<i style="background:linear-gradient(90deg,#f9c32b,#f9c32b,#f9c32b,#f8c12c,#f8be2c,#f8bf2c,#f9c22c,#f9c62b,#f9ca2a,#facd29,#facf28,#face28,#facc29,#f9c72a,#f9c32b,#f8c02c,#f8be2c,#f7bc2d,#f3ba2c,#ecb82b,#dfb82b,#c6bd2d,#93c347,#60c06b,#39b78d,#1eacab,#1aa6bc,#18a3c3,#18a3c5,#18a3c4,#18a3c6,#16a1cb,#169fce,#16a0cd,#19a5be,#24aea4,#42ba84,#55be74,#46bb80,#1eacab,#199bd5,#2785eb,#3473f0,#3a6bf0,#3a6bf0,#396df0,#386ef0,#396df0,#3a6bf0,#3c69f0,#3d67f0,#3e66f0,#3e66f0,#3f65f0,#3f63ef,#4160ee,#425ded,#435aec,#4557eb,#4654ea,#4751e8,#484ee6,#484be4,#4748e1,#4745de,#4742dc,#4740d9,#463ed8,#463dd7,#463dd7,#463ed8,#4740da,#4743dc,#4746df,#4749e1,#484ce4,#484fe7,#4850e8,#4850e8,#4850e8)"></i>
<i style="background:linear-gradient(90deg,#f9c32b,#f9c32b,#f9c32b,#f8c12c,#f8be2c,#f8bf2c,#f9c22c,#f9c62b,#f9ca2a,#facd29,#facf28,#face29,#f9cb29,#f9c72a,#f9c32b,#f8c02c,#f8bd2d,#f7bc2d,#f3ba2c,#ecb82b,#dfb82b,#c6bd2d,#94c346,#61c06a,#3ab78b,#1eacaa,#1aa6bb,#18a4c3,#18a3c4,#18a3c3,#18a3c4,#17a1c9,#16a0cd,#16a1cb,#1aa5bd,#24afa3,#41ba85,#54bd75,#45ba81,#1eacab,#189cd4,#2686ea,#3474f0,#3a6bf0,#3c69f0,#3b6af0,#3a6bf0,#3b6af0,#3c68f0,#3d67f0,#3e66f0,#3e65f0,#3f65ef,#3f64ef,#4062ee,#415fee,#425ded,#445aeb,#4556ea,#4653e9,#4850e8,#484de5,#474ae2,#4747df,#4743dd,#4741da,#463ed8,#463dd6,#463cd6,#463cd6,#463dd7,#463fd9,#4742db,#4745de,#4748e1,#484be4,#484ee6,#484fe7,#484fe7,#484fe7)"></i>
<i style="background:linear-gradient(90deg,#f9c32b,#f9c32b,#f9c32b,#f8c12c,#f8bf2c,#f8bf2c,#f9c22b,#f9c62b,#f9c92a,#facc29,#face29,#facd29,#f9ca2a,#f9c62b,#f9c22c,#f8bf2c,#f8bd2d,#f6bb2d,#f2ba2c,#ebb82b,#deb82b,#c6bd2d,#95c346,#62c069,#3bb88b,#1faca9,#1aa6ba,#19a4c2,#18a3c3,#18a4c2,#18a3c3,#17a2c7,#16a1cb,#17a2c8,#1aa6bb,#25afa3,#3fb986,#51bd77,#43ba83,#1eacaa,#189dd2,#2488e9,#3276f0,#3a6cf0,#3c68f0,#3d68f0,#3d68f0,#3d67f0,#3e66f0,#3e65f0,#3f65f0,#3f64ef,#3f64ef,#4063ef,#4061ee,#415fed,#435cec,#4459eb,#4556ea,#4753e9,#4850e8,#484ce5,#4749e1,#4745de,#4742db,#463fd9,#463dd7,#463bd5,#463bd5,#463bd5,#463cd6,#463ed8,#4741da,#4744dd,#4747e0,#484be3,#484ee6,#484fe7,#484fe7,#484fe7)"></i>
<i style="background:linear-gradient(90deg,#f9c32b,#f9c32b,#f9c32b,#f9c12c,#f8bf2c,#f8c02c,#f9c22b,#f9c62b,#f9c92a,#facc29,#facd29,#facc29,#f9c92a,#f9c52b,#f8c12c,#f8be2c,#f8bc2d,#f5bb2d,#f1ba2c,#ebb82b,#ddb82b,#c6bd2d,#95c346,#63c069,#3cb88a,#20ada8,#1ba7b9,#19a4c1,#18a4c2,#19a4c1,#19a4c2,#18a3c6,#17a2c8,#18a3c6,#1ba7b9,#25afa2,#3db988,#4dbc7a,#40b985,#1eacaa,#179ed0,#228be7,#3079f0,#386ef0,#3c68f0,#3e66f0,#3e66f0,#3e65f0,#3f65ef,#3f64ef,#3f64ef,#3f64ef,#3f63ef,#4062ef,#4160ee,#425eed,#435bec,#4459eb,#4655ea,#4752e9,#484fe7,#484ce4,#4748e1,#4745de,#4741db,#463ed8,#463cd6,#463ad4,#463ad3,#463ad4,#463bd5,#463dd7,#4740da,#4744dd,#4747e0,#474ae3,#484de5,#484ee6,#484ee6,#484ee6)"></i>
<i style="background:linear-gradient(90deg,#f9c32b,#f9c32b,#f9c32b,#f9c12c,#f8c02c,#f8c02c,#f9c32b,#f9c62b,#f9c92a,#facb29,#facc29,#facb29,#f9c82a,#f9c42b,#f8c02c,#f8bd2d,#f7bc2d,#f4bb2c,#f0b92c,#eab72b,#dcb82b,#c5be2d,#94c346,#63c068,#3cb889,#21ada6,#1ba7b8,#19a5c0,#19a4c2,#19a4c1,#19a4c1,#18a3c3,#18a3c5,#18a4c2,#1ba8b7,#26afa2,#3bb88a,#49bb7e,#3db988,#1faca9,#16a0ce,#208fe5,#2d7df0,#3670f0,#3b69f0,#3e66f0,#3f64ef,#3f63ef,#3f63ef,#3f64ef,#3f64ef,#3f63ef,#3f63ef,#4062ee,#4160ee,#425eed,#435bec,#4458eb,#4655ea,#4752e9,#484fe7,#484be4,#4748e0,#4744dd,#4741da,#463ed8,#463cd5,#463ad4,#4539d2,#4539d3,#463bd5,#463dd7,#4740d9,#4743dc,#4746df,#474ae2,#484de5,#484ee6,#484ee6,#484ee6)"></i>
<i style="background:linear-gradient(90deg,#f9c32b,#f9c32b,#f9c32b,#f9c22c,#f8c02c,#f8c12c,#f9c32b,#f9c62b,#f9c92a,#f9cb29,#facb29,#f9ca29,#f9c72a,#f9c32b,#f8bf2c,#f8bc2d,#f6bb2d,#f3ba2c,#efb92c,#e9b72a,#dbb92b,#c4be2d,#94c346,#64c068,#3db988,#22aea5,#1ba8b7,#19a5bf,#19a4c1,#19a4c0,#19a5c0,#19a4c1,#18a4c2,#19a5bf,#1ca8b4,#26afa1,#39b78c,#44ba82,#3bb88b,#20ada8,#17a1ca,#1d92e2,#2981ed,#3374f0,#3a6bf0,#3e66f0,#3f63ef,#4062ef,#3f63ef,#3f63ef,#3f64ef,#3f64ef,#3f63ef,#4061ee,#4160ee,#425ded,#435bec,#4458eb,#4655ea,#4752e9,#484fe7,#484be4,#4748e0,#4744dd,#4741da,#463ed8,#463cd5,#463ad4,#4539d2,#4539d2,#463ad4,#463dd6,#4740d9,#4743dc,#4746df,#4749e2,#484ce5,#484de6,#484de6,#484de6)"></i>
<i style="background:linear-gradient(90deg,#f9c32b,#f9c32b,#f9c32b,#f9c22c,#f8c12c,#f9c12c,#f9c32b,#f9c62b,#f9c82a,#f9ca2a,#f9ca29,#f9c92a,#f9c62b,#f9c22c,#f8be2d,#f7bc2d,#f4bb2c,#f2ba2c,#eeb92b,#e8b72a,#d9b92b,#c3be2d,#93c347,#64c068,#3eb987,#24aea4,#1ba8b6,#19a5be,#19a4c0,#19a5bf,#19a5be,#19a5bf,#19a5bf,#1aa6bb,#1ca9b2,#26afa1,#37b68f,#3fb986,#38b78e,#21ada7,#18a3c5,#1b96dc,#2587ea,#2f79f0,#386ef0,#3d67f0,#3f63ef,#4062ef,#3f63ef,#3f64ef,#3f64ef,#3f64ef,#3f63ef,#4062ee,#4160ee,#425eed,#435bec,#4458eb,#4655ea,#4752e9,#484fe7,#484be4,#4748e1,#4745de,#4741db,#463ed8,#463cd6,#463ad4,#4539d2,#4539d3,#463bd4,#463dd6,#4740d9,#4743dc,#4746df,#4749e2,#484ce5,#484de5,#484de5,#484de5)"></i>
<i style="background:linear-gradient(90deg,#f9c32b,#f9c32b,#f9c32b,#f9c22b,#f9c12c,#f9c22c,#f9c32b,#f9c62b,#f9c82a,#f9c92a,#f9c92a,#f9c72a,#f9c42b,#f8c02c,#f8bc2d,#f6bb2d,#f3ba2c,#f1ba2c,#edb82b,#e7b62a,#d8b92b,#c1be2e,#93c347,#65c067,#3fb986,#25afa3,#1ca8b5,#1aa5bd,#19a5c0,#19a5bf,#1aa5bd,#1aa6bd,#1aa6bc,#1ba7b8,#1daaaf,#27b0a0,#35b591,#3bb88a,#35b690,#22aea6,#19a5bf,#199ad7,#218de7,#2c7eef,#3572f0,#3c69f0,#3f64ef,#3f63ef,#3f63ef,#3f65f0,#3e65f0,#3e65f0,#3f64ef,#4062ef,#4160ee,#425eed,#435bec,#4459eb,#4556ea,#4753e9,#484fe7,#484ce4,#4749e1,#4745de,#4742dc,#463fd9,#463dd7,#463bd5,#463ad4,#463ad4,#463bd5,#463dd7,#4740d9,#4743dc,#4747df,#474ae2,#484ce5,#484de6,#484de6,#484de6)"></i>
<i style="background:linear-gradient(90deg,#f9c32b,#f9c32b,#f9c32b,#f9c22b,#f9c12c,#f9c22b,#f9c32b,#f9c52b,#f9c72a,#f9c82a,#f9c72a,#f9c62b,#f9c22b,#f8bf2c,#f7bc2d,#f4bb2c,#f2ba2c,#efb92c,#ebb82b,#e6b62a,#d6ba2b,#c0be2f,#92c347,#65c067,#40b985,#26afa1,#1ca9b4,#1aa6bd,#19a5bf,#19a5be,#1aa6bc,#1aa6bb,#1ba7b8,#1ca9b4,#1dabac,#28b0a0,#32b494,#38b68e,#33b593,#23aea4,#1aa7ba,#179ed1,#1d92e2,#2784ec,#3176f0,#396cf0,#3e66f0,#3f64ef,#3f65f0,#3e66f0,#3d67f0,#3e66f0,#3e65f0,#3f63ef,#4061ee,#415fed,#435cec,#4459eb,#4556ea,#4753e9,#4850e8,#484de5,#474ae2,#4747e0,#4744dd,#4741da,#463ed8,#463cd6,#463bd5,#463bd5,#463cd6,#463ed8,#4741da,#4744dd,#4747e0,#474ae3,#484de5,#484ee6,#484ee6,#484ee6)"></i>
<i style="background:linear-gradient(90deg,#f9c32b,#f9c32b,#f9c32b,#f9c32b,#f9c22c,#f9c22b,#f9c32b,#f9c52b,#f9c62b,#f9c62a,#f9c62b,#f9c42b,#f8c02c,#f8bd2d,#f5bb2d,#f2ba2c,#f0b92c,#eeb92b,#eab72b,#e4b72a,#d4ba2c,#bebf30,#91c348,#65c067,#41ba85,#27b0a0,#1ca9b3,#1aa6bc,#19a5bf,#19a5be,#1aa6bb,#1ba7b9,#1ba8b5,#1daab1,#1eacaa,#28b09f,#31b496,#35b591,#31b495,#25afa2,#1ca8b4,#17a1ca,#1b97db,#238ae8,#2d7cf0,#3670f0,#3b69f0,#3d67f0,#3d67f0,#3c68f0,#3c69f0,#3c68f0,#3d67f0,#3f65f0,#4062ef,#4160ee,#425ded,#435aec,#4557eb,#4654ea,#4751e9,#484ee7,#484be4,#4748e1,#4745de,#4743dc,#4740da,#463ed8,#463dd7,#463dd6,#463ed7,#4740d9,#4742db,#4745de,#4748e1,#484be4,#484ee6,#484fe7,#484fe7,#484fe7)"></i>
<i style="background:linear-gradient(90deg,#f9c42b,#f9c42b,#f9c42b,#f9c32b,#f9c22b,#f9c22b,#f9c32b,#f9c42b,#f9c42b,#f9c42b,#f9c42b,#f9c12c,#f8be2c,#f6bb2d,#f3ba2c,#f0b92c,#eeb92b,#ecb82b,#e9b72a,#e1b72a,#d3ba2c,#bdbf30,#91c348,#66c066,#42ba84,#28b09f,#1ca9b2,#1aa6bb,#19a5bf,#1aa5be,#1aa6bb,#1ba8b7,#1ca9b3,#1dabad,#21ada6,#29b09e,#2fb397,#32b494,#30b397,#27b0a0,#1daaaf,#19a4c1,#189bd4,#1e90e4,#2982ed,#3276f0,#386ef0,#3a6bf0,#3b6af0,#3a6bf0,#3a6bf0,#3b6af0,#3c69f0,#3d67f0,#3f64ef,#4061ee,#415eed,#435bec,#4458eb,#4556ea,#4753e9,#4850e8,#484de6,#474ae3,#4748e0,#4745de,#4743dc,#4741da,#463fd9,#463fd9,#4740d9,#4742db,#4744dd,#4747e0,#474ae2,#484de5,#484fe7,#4850e8,#4850e8,#4850e8)"></i>
<i style="background:linear-gradient(90deg,#f9c42b,#f9c42b,#f9c42b,#f9c32b,#f9c22b,#f9c22b,#f9c22b,#f9c32b,#f9c32b,#f9c22b,#f9c12c,#f8bf2c,#f7bc2d,#f4bb2c,#f1ba2c,#eeb92b,#ecb82b,#eab72b,#e7b62a,#dfb82b,#d2bb2c,#bcbf31,#91c348,#67c066,#43ba83,#29b09e,#1ca9b2,#1aa6bb,#19a5be,#1aa5bd,#1aa7ba,#1ba8b5,#1daab0,#1eacaa,#24aea4,#2ab19d,#2eb398,#30b396,#2fb398,#29b09e,#1eacaa,#1ba7b9,#16a0cd,#1c96dd,#2489e9,#2d7cf0,#3374f0,#3770f0,#386ef0,#376ef0,#386ef0,#386df0,#3a6bf0,#3c69f0,#3e66f0,#3f63ef,#4160ee,#425ded,#435aec,#4557eb,#4655ea,#4752e9,#4850e8,#484de5,#474ae3,#4748e1,#4746df,#4744dd,#4743dc,#4742db,#4743dc,#4744dd,#4746df,#4749e2,#484ce4,#484fe7,#4751e9,#4753e9,#4753e9,#4753e9)"></i>
<i style="background:linear-gradient(90deg,#f9c42b,#f9c42b,#f9c42b,#f9c32b,#f9c22b,#f9c22c,#f9c22c,#f9c12c,#f8c12c,#f8c02c,#f8be2c,#f8bc2d,#f5bb2c,#f1ba2c,#eeb92b,#ecb82b,#eab72b,#e9b72a,#e6b62a,#ddb82b,#d0bb2c,#bbbf31,#92c348,#68c065,#44ba82,#29b19d,#1caab1,#1aa6bb,#19a5be,#1aa6bd,#1ba7b9,#1ca9b4,#1dabae,#21ada7,#26afa1,#2bb19c,#2eb299,#2fb398,#2eb398,#2bb19c,#24aea4,#1caab1,#18a4c3,#199bd5,#1f90e5,#2883ec,#2e7af0,#3275f0,#3473f0,#3472f0,#3572f0,#3670f0,#376ef0,#396cf0,#3c69f0,#3e66f0,#4062ef,#415fed,#435cec,#4459eb,#4557eb,#4655ea,#4752e9,#4850e8,#484de6,#484be4,#4749e2,#4747e0,#4746df,#4746df,#4746df,#4747e0,#4749e2,#484ce4,#484ee6,#4851e8,#4654e9,#4655ea,#4655ea,#4655ea)"></i>
<i style="background:linear-gradient(90deg,#f9c42b,#f9c42b,#f9c42b,#f9c32b,#f9c22b,#f9c22c,#f8c12c,#f8c02c,#f8bf2c,#f8bd2d,#f7bc2d,#f5bb2c,#f2ba2c,#eeb92b,#ecb82b,#eab72b,#e8b72a,#e7b62a,#e3b72a,#dbb92b,#cfbb2c,#babf32,#92c347,#69c064,#45ba81,#2ab19d,#1daab0,#1aa6ba,#19a5be,#1aa6bd,#1ba7b8,#1ca9b2,#1eabac,#23aea4,#29b09e,#2cb29b,#2db299,#2eb299,#2eb299,#2db299,#29b09e,#1faca9,#1ba7b9,#16a0ce,#1b96dd,#228be7,#2982ed,#2d7cf0,#3079f0,#3177f0,#3275f0,#3474f0,#3572f0,#376ff0,#396cf0,#3c68f0,#3f64ef,#4061ee,#425eed,#435bec,#4459eb,#4557eb,#4655ea,#4753e9,#4851e8,#484fe7,#484de5,#484be4,#474ae3,#474ae2,#474ae3,#484be3,#484de5,#484ee7,#4851e8,#4654e9,#4557ea,#4458eb,#4458eb,#4458eb)"></i>
<i style="background:linear-gradient(90deg,#f9c42b,#f9c42b,#f9c42b,#f9c32b,#f9c22b,#f9c12c,#f8c02c,#f8be2c,#f8bd2d,#f7bc2d,#f4bb2c,#f1ba2c,#eeb92b,#ebb82b,#e9b72a,#e7b62a,#e6b62a,#e4b62a,#e0b72b,#d9b92b,#cebc2c,#b9bf32,#93c347,#6ac163,#46bb80,#2bb19c,#1daab0,#1aa7ba,#1aa5bd,#1aa6bc,#1ba7b8,#1caab1,#1eacaa,#26afa2,#2bb19c,#2db29a,#2db299,#2db299,#2eb398,#2fb397,#2eb299,#27b0a0,#1daaaf,#19a4c2,#189bd4,#1d93e2,#2389e8,#2883ec,#2b7eef,#2e7bf0,#2f79f0,#3177f0,#3275f0,#3473f0,#376ff0,#3a6bf0,#3d67f0,#3f63ef,#4160ee,#425eed,#435cec,#435aec,#4458eb,#4556ea,#4654ea,#4752e9,#4851e8,#484fe7,#484fe7,#484ee6,#484ee6,#484fe7,#4850e8,#4752e9,#4654e9,#4557ea,#435aec,#435cec,#435cec,#435cec)"></i>
<i style="background:linear-gradient(90deg,#f9c42b,#f9c42b,#f9c42b,#f9c32b,#f9c22c,#f8c02c,#f8bf2c,#f8bd2d,#f6bb2d,#f4bb2c,#f1ba2c,#eeb92b,#ebb82b,#e8b72a,#e6b62a,#e4b72a,#e2b72a,#e0b72a,#ddb82b,#d7b92b,#cdbc2c,#b9bf32,#93c347,#6bc163,#47bb80,#2cb29b,#1daaaf,#1ba7b9,#1aa6bd,#1aa6bc,#1ba8b7,#1daab0,#20ada8,#28b09f,#2cb29a,#2eb299,#2eb299,#2db299,#2fb398,#32b495,#32b494,#2fb398,#23aea5,#1ba8b6,#17a1ca,#1a99d8,#1e91e3,#238ae8,#2784ec,#2a80ee,#2c7df0,#2e7bf0,#3079f0,#3276f0,#3572f0,#386ef0,#3c69f0,#3e65f0,#4062ef,#4160ee,#415eed,#425ded,#435bec,#4459eb,#4558eb,#4556ea,#4655ea,#4654e9,#4753e9,#4752e9,#4752e9,#4753e9,#4654e9,#4655ea,#4557eb,#445aec,#425ded,#415fed,#415fed,#415fed)"></i>
<i style="background:linear-gradient(90deg,#f9c42b,#f9c42b,#f9c42b,#f9c32b,#f9c22c,#f8c02c,#f8be2d,#f7bc2d,#f4bb2c,#f1ba2c,#eeb92b,#ebb82b,#e8b72a,#e5b62a,#e1b72a,#dfb82b,#deb82b,#ddb82b,#dab92b,#d5ba2b,#cbbc2c,#b8bf33,#94c347,#6cc162,#48bb7f,#2cb29a,#1daaaf,#1ba7b9,#1aa6bc,#1aa6bb,#1ba8b6,#1daaae,#22aea6,#2ab19d,#2eb398,#2fb398,#2eb299,#2eb299,#30b397,#34b592,#37b68f,#35b690,#2db29a,#1eacab,#1aa5bd,#179fcf,#1b97db,#1e91e4,#2389e8,#2784eb,#2a80ee,#2c7eef,#2d7cf0,#2f79f0,#3276f0,#3671f0,#3a6cf0,#3d67f0,#3f64ef,#4062ef,#4061ee,#4160ee,#425eed,#425ded,#435bec,#445aec,#4459eb,#4458eb,#4557eb,#4557ea,#4557ea,#4557ea,#4557eb,#4458eb,#435aec,#425ded,#4061ee,#4063ef,#4063ef,#4063ef)"></i>
<i style="background:linear-gradient(90deg,#f9c42b,#f9c42b,#f9c42b,#f9c32b,#f9c12c,#f8bf2c,#f8bc2d,#f5bb2d,#f2ba2c,#eeb92b,#ebb82b,#e8b72a,#e4b62a,#dfb82b,#dcb82b,#dab92b,#dab92b,#d9b92b,#d7b92b,#d2ba2c,#cabc2c,#b7bf33,#94c346,#6cc162,#48bb7e,#2db29a,#1dabae,#1ba7b8,#1aa6bc,#1aa7ba,#1ca8b5,#1dabad,#23aea4,#2bb19c,#2fb397,#30b397,#2fb398,#2eb398,#31b496,#36b690,#3bb88b,#3cb889,#36b690,#28b09f,#1caab1,#18a3c3,#189dd2,#1c95dd,#208fe5,#2488e9,#2784ec,#2981ed,#2b7fee,#2c7df0,#2f79f0,#3374f0,#386ef0,#3b6af0,#3d67f0,#3f65f0,#3f64ef,#4062ef,#4061ee,#4160ee,#425eed,#425ded,#425cec,#435cec,#435bec,#435bec,#435bec,#435bec,#435bec,#435cec,#425eed,#4160ee,#3f64ef,#3e66f0,#3e66f0,#3e66f0)"></i>
<i style="background:linear-gradient(90deg,#f9c42b,#f9c42b,#f9c42b,#f9c32b,#f9c12c,#f8bf2c,#f7bc2d,#f4bb2c,#f0b92c,#ecb82b,#e8b72a,#e4b72a,#deb82b,#dab92b,#d7b92b,#d6ba2b,#d6ba2b,#d6ba2b,#d4ba2c,#d0bb2c,#c9bd2d,#b6bf34,#94c347,#6dc161,#49bb7e,#2eb299,#1dabad,#1ba7b7,#1aa6bb,#1ba7b9,#1ca9b4,#1eabac,#25afa2,#2db29a,#31b496,#31b496,#2fb397,#2fb398,#32b495,#38b78e,#3eb987,#42ba83,#3eb987,#33b593,#23aea4,#1ba8b6,#17a1c9,#199ad6,#1d93e1,#228ce7,#2587ea,#2784eb,#2882ec,#2a80ee,#2d7cf0,#3176f0,#3671f0,#396cf0,#3c69f0,#3d67f0,#3e66f0,#3e65f0,#3f64ef,#4062ef,#4061ee,#4160ee,#4160ee,#415fee,#415fed,#415fed,#415eed,#425eed,#415eed,#415fed,#4061ee,#3f63ef,#3d67f0,#3b6af0,#3b6af0,#3b6af0)"></i>
<i style="background:linear-gradient(90deg,#f9c42b,#f9c42b,#f9c42b,#f9c32b,#f8c12c,#f8be2d,#f6bb2d,#f2ba2c,#eeb92b,#eab72b,#e5b62a,#deb82b,#d9b92b,#d5ba2b,#d3ba2c,#d2bb2c,#d2bb2c,#d2ba2c,#d1bb2c,#cebb2c,#c7bd2d,#b5bf35,#93c347,#6dc161,#49bb7e,#2eb398,#1dabad,#1ba8b6,#1aa7ba,#1ba7b8,#1ca9b2,#1eacab,#26afa1,#2eb299,#32b495,#31b495,#30b397,#2fb397,#33b493,#3ab78c,#42ba83,#49bb7e,#47bb7f,#3db988,#2fb397,#1eacab,#19a5be,#179ed0,#1b96dc,#1f8fe5,#238ae8,#2587ea,#2685eb,#2883ec,#2b7fee,#2f79f0,#3473f0,#386ef0,#3a6bf0,#3c69f0,#3c68f0,#3d67f0,#3e66f0,#3e65f0,#3f64ef,#3f63ef,#4062ef,#4062ef,#4062ef,#4062ef,#4062ee,#4061ee,#4062ee,#4062ef,#3f64ef,#3e66f0,#3b6af0,#396df0,#396df0,#396df0)"></i>
<i style="background:linear-gradient(90deg,#f9c42b,#f9c42b,#f9c42b,#f9c32b,#f8c12c,#f8bd2d,#f5bb2d,#f1ba2c,#ecb82b,#e7b62a,#e1b72a,#dab92b,#d5ba2b,#d1bb2c,#cfbb2c,#cfbb2c,#cfbb2c,#cfbb2c,#cfbb2c,#ccbc2c,#c5bd2d,#b3c036,#92c347,#6dc161,#4abb7d,#2fb398,#1eabac,#1ba8b5,#1ba7b8,#1ba8b6,#1caab1,#1faca9,#28b09f,#2fb398,#32b494,#32b494,#30b396,#30b396,#34b592,#3cb88a,#46bb80,#4ebc7a,#4fbc79,#47bb7f,#39b78c,#28b09f,#1ca8b5,#17a1ca,#1a98d9,#1e91e3,#228ce7,#2489e9,#2588e9,#2686eb,#2981ed,#2d7cf0,#3275f0,#3670f0,#396df0,#3a6bf0,#3b6af0,#3b69f0,#3c68f0,#3d67f0,#3e66f0,#3e65f0,#3f65f0,#3f65f0,#3f65f0,#3f65f0,#3f65ef,#3f64ef,#3f64ef,#3e65f0,#3e67f0,#3c69f0,#386df0,#3770f0,#3770f0,#3770f0)"></i>
<i style="background:linear-gradient(90deg,#f9c32b,#f9c32b,#f9c32b,#f9c32b,#f8c02c,#f8bd2d,#f5bb2c,#f0b92c,#ebb82b,#e6b62a,#ddb82b,#d6ba2b,#d1bb2c,#cebc2c,#ccbc2c,#ccbc2c,#ccbc2c,#cdbc2c,#ccbc2c,#cabd2c,#c3be2d,#b0c037,#91c348,#6cc162,#4abb7d,#2fb397,#1eacab,#1ca9b4,#1ba8b6,#1ca9b4,#1daaaf,#21ada7,#29b09e,#30b397,#33b493,#32b494,#31b495,#31b496,#35b591,#3db988,#49bb7e,#52bd76,#55be74,#50bc78,#42ba83,#30b496,#1dabae,#18a3c4,#199ad6,#1d93e1,#218de6,#238be8,#238ae8,#2588e9,#2884ec,#2c7eef,#3177f0,#3572f0,#386ef0,#396df0,#3a6cf0,#3a6bf0,#3b6af0,#3c68f0,#3d67f0,#3e66f0,#3e66f0,#3e66f0,#3d67f0,#3d67f0,#3e67f0,#3e67f0,#3d67f0,#3d67f0,#3c69f0,#3a6cf0,#3670f0,#3572f0,#3572f0,#3572f0)"></i>
<i style="background:linear-gradient(90deg,#f9c32b,#f9c32b,#f9c32b,#f9c32b,#f8c02c,#f8bc2d,#f4bb2c,#efb92b,#eab72b,#e3b72a,#dab92b,#d3ba2c,#cebb2c,#cbbc2c,#c9bd2c,#c9bd2c,#cabc2c,#cabc2c,#cabc2c,#c7bd2d,#c0be2f,#adc039,#8fc34a,#6bc163,#4abb7d,#30b396,#1eacaa,#1ca9b2,#1ca8b4,#1ca9b2,#1dabad,#23aea5,#2ab19c,#30b396,#33b593,#33b494,#31b495,#31b495,#36b690,#3fb986,#4bbc7c,#56be73,#5abe6f,#56be73,#4abb7d,#37b68f,#1fada8,#19a4c0,#189bd4,#1d93e0,#208ee6,#228ce7,#228be7,#238ae8,#2686eb,#2b7fee,#2f79f0,#3473f0,#3770f0,#386ef0,#396df0,#396cf0,#3a6bf0,#3b69f0,#3c68f0,#3d67f0,#3d67f0,#3d67f0,#3d68f0,#3c68f0,#3c68f0,#3c68f0,#3c69f0,#3b69f0,#3a6bf0,#386ef0,#3572f0,#3374f0,#3374f0,#3374f0)"></i>
<i style="background:linear-gradient(90deg,#f9c32b,#f9c32b,#f9c32b,#f9c22b,#f8c02c,#f8bc2d,#f3ba2c,#eeb92b,#e9b72a,#e1b72a,#d8b92b,#d1bb2c,#ccbc2c,#c9bd2c,#c7bd2d,#c7bd2d,#c8bd2d,#c8bd2d,#c7bd2d,#c5be2d,#bdbf30,#aac03a,#8dc34b,#6ac163,#4abb7d,#31b496,#20ada8,#1daab0,#1ca9b2,#1daab0,#1eacaa,#25afa3,#2cb29b,#31b495,#33b593,#33b494,#31b495,#32b494,#37b68f,#40b985,#4dbc7a,#59be71,#5ebf6d,#5bbf6f,#4fbc79,#3bb88b,#23aea5,#19a5be,#189cd3,#1d94e0,#208fe5,#218de7,#218ce7,#228be7,#2587ea,#2981ed,#2e7af0,#3374f0,#3671f0,#376ff0,#386ef0,#386df0,#3a6cf0,#3b6af0,#3c69f0,#3d68f0,#3d67f0,#3d68f0,#3c68f0,#3c68f0,#3c69f0,#3b69f0,#3b6af0,#3a6bf0,#396df0,#3670f0,#3474f0,#3276f0,#3276f0,#3276f0)"></i>
<i style="background:linear-gradient(90deg,#f9c32b,#f9c32b,#f9c32b,#f9c22b,#f8c02c,#f8bc2d,#f3ba2c,#eeb92b,#e8b72a,#e0b72b,#d7b92b,#d0bb2c,#cbbc2c,#c8bd2d,#c6bd2d,#c6bd2d,#c6bd2d,#c6bd2d,#c5bd2d,#c3be2d,#b9bf32,#a7c13c,#8bc34d,#69c064,#4abb7d,#31b495,#21ada7,#1daaaf,#1daab0,#1dabad,#20ada7,#27b0a0,#2db29a,#31b495,#33b593,#32b494,#31b495,#32b494,#37b68e,#41ba84,#4fbc79,#5abe6f,#60c06b,#5dbf6d,#52bd77,#3db988,#25afa3,#1aa5bd,#189cd3,#1d94e0,#208fe5,#218de6,#218de6,#218ce7,#2488e9,#2982ec,#2d7bf0,#3275f0,#3572f0,#3770f0,#376ff0,#386ef0,#396cf0,#3b6af0,#3c69f0,#3d67f0,#3d67f0,#3d67f0,#3d68f0,#3c69f0,#3c69f0,#3b6af0,#3a6bf0,#396df0,#376ff0,#3571f0,#3275f0,#3177f0,#3177f0,#3177f0)"></i>
<i style="background:linear-gradient(90deg,#f9c32b,#f9c32b,#f9c32b,#f9c22c,#f8c02c,#f8bc2d,#f3ba2c,#eeb92b,#e8b72a,#dfb82b,#d6ba2b,#cfbb2c,#cabc2c,#c7bd2d,#c5bd2d,#c5be2d,#c5be2d,#c5be2d,#c4be2d,#c0be2f,#b6bf34,#a3c13e,#88c24e,#67c065,#4abb7d,#32b494,#23aea5,#1dabac,#1dabad,#1eacaa,#23aea4,#29b09e,#2eb398,#32b494,#33b593,#32b494,#31b495,#32b494,#38b68e,#42ba84,#50bc78,#5bbf6f,#61c06a,#5ebf6c,#53bd76,#3db988,#25afa3,#19a5be,#189cd3,#1d93e0,#208ee6,#218de6,#208ee6,#218de6,#2389e8,#2883ec,#2d7cf0,#3176f0,#3472f0,#3670f0,#376ff0,#386ef0,#396cf0,#3b6af0,#3c68f0,#3d67f0,#3e66f0,#3d67f0,#3d67f0,#3c68f0,#3c69f0,#3b6af0,#396cf0,#386ef0,#3670f0,#3473f0,#3276f0,#3078f0,#3078f0,#3078f0)"></i>
<i style="background:linear-gradient(90deg,#f9c22b,#f9c22b,#f9c22b,#f9c22c,#f8bf2c,#f8bc2d,#f3ba2c,#edb82b,#e8b72a,#dfb82b,#d6ba2b,#cfbb2c,#cabc2c,#c7bd2d,#c5be2d,#c5be2d,#c4be2d,#c4be2d,#c2be2d,#bdbf30,#b2c036,#a0c140,#86c250,#66c066,#4abb7d,#33b593,#25afa3,#1eacaa,#1eacab,#21ada7,#26afa1,#2bb19c,#2fb397,#32b494,#33b493,#32b494,#31b495,#32b494,#38b68e,#42ba83,#50bc78,#5bbf6f,#61c06a,#5ebf6c,#52bd76,#3db889,#24aea4,#19a5bf,#199bd4,#1d93e1,#208ee6,#218de6,#208ee6,#208ee6,#238ae8,#2784eb,#2c7def,#3177f0,#3473f0,#3571f0,#3670f0,#376ef0,#396cf0,#3b6af0,#3d68f0,#3e66f0,#3e66f0,#3e66f0,#3e67f0,#3d68f0,#3c69f0,#3a6bf0,#396cf0,#376ff0,#3571f0,#3374f0,#3177f0,#3079f0,#3079f0,#3079f0)"></i>
<i style="background:linear-gradient(90deg,#f9c22b,#f9c22b,#f9c22b,#f9c22c,#f8bf2c,#f8bc2d,#f3ba2c,#eeb92b,#e8b72a,#e0b72b,#d7ba2b,#d0bb2c,#cbbc2c,#c7bd2d,#c6bd2d,#c5be2d,#c4be2d,#c3be2d,#c1be2e,#bbbf31,#b0c037,#9ec241,#85c251,#65c067,#4abb7d,#34b592,#27afa1,#20ada7,#20ada7,#24aea4,#29b09e,#2db299,#31b496,#32b494,#33b493,#31b495,#31b496,#32b494,#38b78e,#42ba83,#50bc78,#5bbf6f,#60c06b,#5cbf6e,#50bc78,#3bb88b,#22ada6,#19a4c1,#199bd5,#1d92e2,#218de6,#218de6,#208ee6,#208ee5,#228be7,#2685eb,#2b7eef,#3078f0,#3374f0,#3572f0,#3670f0,#376ff0,#396df0,#3b6af0,#3d67f0,#3e66f0,#3f65f0,#3e65f0,#3e66f0,#3d67f0,#3c69f0,#3a6bf0,#396df0,#376ff0,#3572f0,#3275f0,#3078f0,#2f79f0,#2f79f0,#2f79f0)"></i>
<i style="background:linear-gradient(90deg,#f9c22b,#f9c22b,#f9c22b,#f9c22c,#f8c02c,#f8bc2d,#f3ba2c,#eeb92b,#e9b72a,#e1b72a,#d8b92b,#d1bb2c,#ccbc2c,#c9bd2d,#c7bd2d,#c5bd2d,#c5be2d,#c3be2d,#c0be2f,#b9bf32,#aec038,#9bc242,#83c252,#65c067,#4bbb7c,#36b690,#29b09e,#23aea4,#23aea4,#27b0a0,#2bb19b,#2fb397,#32b495,#33b493,#32b494,#31b495,#30b396,#32b494,#38b68e,#42ba84,#4fbc79,#59be70,#5ebf6d,#5abe70,#4dbc7b,#38b78d,#1faca9,#18a3c3,#199ad6,#1e92e3,#218de6,#218de6,#208fe5,#1f8fe5,#228ce7,#2686ea,#2b7fee,#3079f0,#3375f0,#3572f0,#3671f0,#376ff0,#396df0,#3b6af0,#3d67f0,#3e65f0,#3f64ef,#3f64ef,#3e65f0,#3e66f0,#3c68f0,#3a6bf0,#386df0,#3670f0,#3473f0,#3276f0,#3079f0,#2f7af0,#2f7af0,#2f7af0)"></i>
<i style="background:linear-gradient(90deg,#f9c32b,#f9c32b,#f9c32b,#f9c22b,#f8c02c,#f8bc2d,#f4bb2c,#eeb92b,#e9b72b,#e2b72a,#d9b92b,#d2ba2c,#cdbc2c,#cabc2c,#c8bd2d,#c7bd2d,#c5bd2d,#c4be2d,#c0be2f,#b9bf33,#adc039,#9ac243,#82c252,#65c067,#4cbc7b,#37b68e,#2bb19c,#26afa1,#26afa1,#2ab19d,#2eb299,#31b495,#32b494,#33b493,#32b494,#30b396,#30b397,#31b495,#37b68f,#41ba85,#4ebc7a,#57be72,#5bbf6f,#56be73,#49bb7e,#35b591,#1eabac,#18a3c5,#1a99d7,#1e92e3,#218de6,#218de6,#1f8fe5,#1f90e5,#218de7,#2587ea,#2a80ee,#2f7af0,#3275f0,#3473f0,#3571f0,#376ff0,#396df0,#3b6af0,#3d67f0,#3f65f0,#3f64ef,#3f64ef,#3f65ef,#3e66f0,#3c68f0,#3a6bf0,#386ef0,#3671f0,#3374f0,#3177f0,#2f79f0,#2e7af0,#2e7af0,#2e7af0)"></i>
<i style="background:linear-gradient(90deg,#f9c32b,#f9c32b,#f9c32b,#f9c22b,#f8c02c,#f8bd2d,#f4bb2c,#efb92c,#eab72b,#e4b72a,#dbb82b,#d4ba2c,#d0bb2c,#ccbc2c,#cabc2c,#c8bd2d,#c7bd2d,#c5be2d,#c1be2e,#b9bf32,#acc039,#9ac243,#82c252,#66c066,#4dbc7a,#39b78c,#2eb299,#29b09e,#29b19e,#2db29a,#30b396,#32b494,#33b593,#33b593,#32b495,#30b396,#2fb397,#31b495,#36b68f,#40b986,#4cbc7c,#55bd74,#58be71,#52bd76,#45ba81,#32b495,#1dabae,#17a2c7,#1a99d8,#1e91e3,#218de6,#208ee6,#1f8fe5,#1f90e4,#218de6,#2588e9,#2a81ed,#2e7af0,#3176f0,#3374f0,#3572f0,#3670f0,#396df0,#3b6af0,#3d67f0,#3f65f0,#3f64ef,#3f64ef,#3f64ef,#3e66f0,#3c68f0,#3a6bf0,#386ef0,#3571f0,#3375f0,#3078f0,#2e7af0,#2e7bf0,#2e7bf0,#2e7bf0)"></i>
<i style="background:linear-gradient(90deg,#f9c32b,#f9c32b,#f9c32b,#f9c32b,#f8c02c,#f8bd2d,#f5bb2c,#f0b92c,#ebb82b,#e6b62a,#deb82b,#d7b92b,#d2bb2c,#cfbb2c,#cdbc2c,#cbbc2c,#c9bd2d,#c6bd2d,#c3be2d,#babf32,#adc039,#9ac243,#83c252,#68c065,#4fbc79,#3bb88a,#30b396,#2cb29b,#2cb29b,#2fb398,#32b494,#34b592,#34b592,#33b593,#31b495,#2fb397,#2eb398,#30b396,#35b591,#3eb987,#49bb7e,#52bd76,#54bd75,#4ebc79,#40b985,#2eb398,#1daab1,#17a2c8,#1a99d8,#1e92e3,#208ee6,#208ee6,#1f90e4,#1e91e4,#208ee6,#2488e9,#2982ed,#2d7cf0,#3177f0,#3375f0,#3473f0,#3670f0,#386ef0,#3b6af0,#3d68f0,#3e65f0,#3f64ef,#3f64ef,#3f65f0,#3e66f0,#3c69f0,#3a6cf0,#376ff0,#3572f0,#3275f0,#3078f0,#2e7bf0,#2d7cf0,#2d7cf0,#2d7cf0)"></i>
<i style="background:linear-gradient(90deg,#f9c42b,#f9c42b,#f9c42b,#f9c32b,#f8c12c,#f8be2d,#f5bb2d,#f1ba2c,#ecb82b,#e7b62a,#e0b72a,#dab92b,#d5ba2b,#d2bb2c,#cfbb2c,#cdbc2c,#cbbc2c,#c9bd2d,#c5be2d,#bdbf30,#afc038,#9cc242,#85c250,#6ac163,#52bd76,#3eb987,#33b593,#2eb398,#2eb398,#31b495,#33b593,#35b591,#35b591,#33b593,#31b495,#2fb397,#2eb299,#2fb397,#34b592,#3cb889,#46bb80,#4ebc79,#50bd78,#4abb7d,#3cb889,#2bb19c,#1ca9b2,#17a2c8,#1a99d8,#1d93e2,#1f8fe5,#1f90e5,#1e91e4,#1e91e3,#208fe5,#2389e8,#2883ec,#2c7df0,#3078f0,#3276f0,#3474f0,#3571f0,#376ff0,#3a6bf0,#3c69f0,#3e66f0,#3e65f0,#3e65f0,#3e66f0,#3d67f0,#3b6af0,#396df0,#3670f0,#3473f0,#3176f0,#2f79f0,#2d7cf0,#2d7df0,#2d7df0,#2d7df0)"></i>
<i style="background:linear-gradient(90deg,#f9c52b,#f9c52b,#f9c52b,#f9c42b,#f9c22c,#f8be2c,#f6bb2d,#f2ba2c,#edb82b,#e8b72a,#e3b72a,#ddb82b,#d8b92b,#d5ba2b,#d3ba2c,#d0bb2c,#cebb2c,#cbbc2c,#c7bd2d,#c0be2e,#b3c036,#9fc240,#88c24e,#6dc161,#55bd74,#42ba84,#36b690,#31b495,#31b496,#32b494,#35b591,#35b590,#35b591,#33b593,#31b495,#2eb398,#2db29a,#2eb299,#32b494,#3ab78c,#43ba83,#4abb7d,#4cbc7c,#45ba81,#39b78d,#29b09e,#1ca9b3,#17a2c8,#199ad6,#1d94e0,#1e91e4,#1e91e4,#1d92e2,#1d92e2,#1f90e5,#238ae8,#2784eb,#2b7eef,#2f7af0,#3177f0,#3375f0,#3473f0,#3670f0,#396df0,#3b6af0,#3c68f0,#3d67f0,#3d67f0,#3d67f0,#3c69f0,#3a6bf0,#386ef0,#3671f0,#3374f0,#3177f0,#2e7af0,#2d7df0,#2c7eef,#2c7eef,#2c7eef)"></i>
<i style="background:linear-gradient(90deg,#f9c52b,#f9c52b,#f9c52b,#f9c52b,#f9c22b,#f8bf2c,#f7bc2d,#f2ba2c,#eeb92b,#eab72b,#e6b62a,#e0b72b,#dcb82b,#d8b92b,#d6ba2b,#d4ba2c,#d1bb2c,#cebb2c,#cabc2c,#c4be2d,#b7bf34,#a4c13e,#8cc34c,#72c15e,#59be71,#45ba81,#39b78d,#34b592,#32b494,#34b592,#35b591,#36b690,#35b591,#34b592,#31b495,#2eb398,#2cb29b,#2cb29a,#30b396,#37b68e,#3fb986,#46bb80,#47bb7f,#41ba84,#36b690,#26afa1,#1ca9b4,#17a2c7,#199bd5,#1c95dd,#1d93e1,#1d93e2,#1d93e1,#1d93e1,#1e91e4,#228be7,#2685eb,#2a80ee,#2d7bf0,#3078f0,#3276f0,#3374f0,#3571f0,#376ef0,#396cf0,#3b6af0,#3c69f0,#3c69f0,#3b6af0,#3a6bf0,#396df0,#376ff0,#3572f0,#3275f0,#3078f0,#2e7bf0,#2c7eef,#2b7fee,#2b7fee,#2b7fee)"></i>
<i style="background:linear-gradient(90deg,#f9c62b,#f9c62b,#f9c62b,#f9c52b,#f9c22b,#f8bf2c,#f7bc2d,#f3ba2c,#efb92b,#ebb82b,#e7b62a,#e3b72a,#dfb82b,#dcb82b,#d9b92b,#d7b92b,#d4ba2c,#d1bb2c,#ccbc2c,#c7bd2d,#bbbf31,#a9c13b,#90c349,#77c15b,#5dbf6d,#4abb7d,#3cb889,#36b690,#34b592,#35b591,#36b690,#36b690,#35b690,#34b592,#31b495,#2eb299,#2bb19c,#2bb19c,#2eb398,#35b591,#3cb889,#43ba83,#43ba83,#3db988,#33b593,#25afa3,#1ca9b4,#18a3c6,#189cd3,#1b97db,#1c95df,#1c94df,#1c94df,#1c94e0,#1e92e3,#218de7,#2686ea,#2981ed,#2c7def,#2f7af0,#3078f0,#3275f0,#3473f0,#3670f0,#386ef0,#396cf0,#3a6cf0,#3a6bf0,#396cf0,#386df0,#376ff0,#3571f0,#3474f0,#3176f0,#2f79f0,#2d7cf0,#2b7fee,#2a80ee,#2a80ee,#2a80ee)"></i>
<i style="background:linear-gradient(90deg,#f9c62a,#f9c62a,#f9c62a,#f9c52b,#f9c32b,#f8bf2c,#f8bc2d,#f3ba2c,#efb92c,#ebb82b,#e8b72a,#e5b62a,#e1b72a,#deb82b,#dcb82b,#d9b92b,#d7b92b,#d3ba2c,#cfbb2c,#c9bd2c,#c0be2e,#aec038,#96c345,#7cc257,#61c06a,#4ebc7a,#3fb986,#38b78d,#36b690,#35b591,#36b690,#36b690,#36b690,#34b592,#31b495,#2db299,#2ab19d,#29b09e,#2cb29b,#32b494,#39b78c,#3fb986,#40b986,#3ab88b,#31b495,#23aea4,#1ca9b4,#18a3c4,#179ed0,#1a99d8,#1b97db,#1b96dd,#1c96dd,#1c95de,#1d92e2,#208ee6,#2588e9,#2882ec,#2b7eef,#2d7bf0,#2f79f0,#3177f0,#3375f0,#3472f0,#3670f0,#376ff0,#386ef0,#386ef0,#376ff0,#3670f0,#3571f0,#3473f0,#3275f0,#3177f0,#2f7af0,#2c7df0,#2a80ee,#2981ed,#2981ed,#2981ed)"></i>
<i style="background:linear-gradient(90deg,#f9c62a,#f9c62a,#f9c62a,#f9c52b,#f9c32b,#f8bf2c,#f8bc2d,#f4bb2c,#f0b92c,#ecb82b,#e8b72a,#e6b62a,#e3b72a,#e0b72b,#deb82b,#dcb82b,#d9b92b,#d5ba2b,#d1bb2c,#ccbc2c,#c4be2d,#b4bf35,#9dc242,#82c253,#67c066,#52bd76,#43ba83,#3ab78b,#37b68f,#36b690,#36b690,#36b690,#36b690,#34b592,#31b495,#2db29a,#29b09e,#27b0a0,#2ab19d,#30b396,#37b68f,#3cb889,#3db988,#38b78d,#2fb397,#22aea5,#1ca9b4,#19a4c1,#169fce,#199bd5,#1a99d8,#1a98da,#1b97db,#1c96dd,#1d93e1,#208fe5,#2489e9,#2884ec,#2a80ee,#2c7df0,#2e7af0,#3078f0,#3176f0,#3374f0,#3473f0,#3572f0,#3571f0,#3571f0,#3572f0,#3472f0,#3473f0,#3375f0,#3176f0,#3078f0,#2e7bf0,#2c7eef,#2a81ed,#2982ec,#2982ec,#2982ec)"></i>
<i style="background:linear-gradient(90deg,#f9c62b,#f9c62b,#f9c62b,#f9c52b,#f9c22b,#f8bf2c,#f7bc2d,#f3ba2c,#efb92c,#ebb82b,#e8b72a,#e6b62a,#e3b72a,#e1b72a,#dfb82b,#ddb82b,#dab92b,#d7b92b,#d3ba2c,#cebc2c,#c7bd2d,#babf32,#a4c13e,#88c24e,#6dc161,#56be73,#46bb80,#3cb889,#37b68e,#36b690,#35b591,#35b690,#35b690,#34b592,#31b495,#2cb29a,#28b09f,#25afa2,#27b0a0,#2eb299,#35b591,#3ab88b,#3bb88a,#36b68f,#2eb299,#22ada6,#1ca9b3,#19a5bf,#17a1cb,#189dd1,#199bd5,#1a99d7,#1a98d9,#1b96dc,#1d94e0,#1f8fe5,#238ae8,#2785eb,#2a81ed,#2c7eef,#2d7cf0,#2f7af0,#3078f0,#3176f0,#3275f0,#3374f0,#3374f0,#3374f0,#3374f0,#3375f0,#3276f0,#3176f0,#3078f0,#2f79f0,#2d7cf0,#2b7eef,#2982ed,#2883ec,#2883ec,#2883ec)"></i>
<i style="background:linear-gradient(90deg,#f9c52b,#f9c52b,#f9c52b,#f9c42b,#f9c12c,#f8be2c,#f6bb2d,#f2ba2c,#eeb92b,#ebb82b,#e8b72a,#e5b62a,#e3b72a,#e1b72a,#e0b72b,#ddb82b,#dbb92b,#d7b92b,#d3ba2c,#cfbb2c,#cabc2c,#c0be2e,#abc03a,#8fc34a,#73c15d,#5bbf6f,#49bb7e,#3db988,#38b78e,#35b590,#35b591,#35b591,#35b591,#34b592,#31b495,#2cb29b,#26afa1,#24aea4,#25afa2,#2cb29b,#33b593,#39b78c,#3ab78b,#35b690,#2db29a,#21ada7,#1ca9b2,#1aa5bd,#17a2c7,#169fce,#189dd2,#199bd5,#1a99d7,#1b97da,#1c94df,#1f90e4,#228be8,#2686ea,#2982ed,#2b7fee,#2d7cf0,#2e7bf0,#2f79f0,#3078f0,#3177f0,#3177f0,#3177f0,#3177f0,#3177f0,#3177f0,#3078f0,#3078f0,#2f79f0,#2e7af0,#2d7cf0,#2b7fee,#2883ec,#2784eb,#2784eb,#2784eb)"></i>
<i style="background:linear-gradient(90deg,#f9c32b,#f9c32b,#f9c32b,#f9c22b,#f8c02c,#f8bd2d,#f5bb2d,#f1ba2c,#edb82b,#e9b72a,#e6b62a,#e2b72a,#e0b72a,#e0b72b,#dfb82b,#ddb82b,#dab92b,#d6ba2b,#d3ba2c,#d0bb2c,#ccbc2c,#c5be2d,#b3c036,#96c245,#7ac258,#5fbf6c,#4cbc7b,#3fb986,#38b78d,#35b591,#34b592,#34b592,#35b591,#34b592,#31b495,#2bb19c,#25afa2,#22ada6,#23aea4,#2ab19d,#33b493,#39b78c,#3ab78b,#35b591,#2cb29a,#21ada7,#1ca9b1,#1aa6bb,#18a3c4,#16a1cb,#179ecf,#189cd3,#199ad6,#1a98d9,#1c95de,#1e91e4,#228be7,#2686ea,#2882ec,#2b7fee,#2c7def,#2d7bf0,#2e7af0,#2f7af0,#2f79f0,#2f79f0,#2f79f0,#2f79f0,#2f79f0,#2f79f0,#2f79f0,#2f7af0,#2e7af0,#2e7bf0,#2c7def,#2a80ee,#2883ec,#2685eb,#2685eb,#2685eb)"></i>
<i style="background:linear-gradient(90deg,#f8c02c,#f8c02c,#f8c02c,#f8c02c,#f8be2c,#f7bc2d,#f3ba2c,#efb92b,#eab72b,#e6b62a,#e1b72a,#deb82b,#ddb82b,#ddb82b,#dcb82b,#dab92b,#d7b92b,#d4ba2c,#d1bb2c,#cfbb2c,#cdbc2c,#c8bd2d,#bbbf31,#9fc241,#80c254,#62c069,#4ebc79,#40b985,#38b78d,#34b592,#33b593,#34b592,#35b591,#34b592,#31b496,#2ab19d,#24aea4,#20ada8,#22ada6,#29b19e,#33b493,#3ab78c,#3bb88a,#36b690,#2db29a,#21ada6,#1caab1,#1aa7b9,#19a4c1,#17a2c8,#16a0cd,#179ed1,#199bd4,#1a98d9,#1c95de,#1e91e4,#228ce7,#2587ea,#2883ec,#2a80ee,#2c7def,#2d7cf0,#2e7bf0,#2e7bf0,#2e7bf0,#2e7bf0,#2e7bf0,#2e7bf0,#2e7bf0,#2e7bf0,#2e7bf0,#2e7bf0,#2e7bf0,#2d7cf0,#2c7eef,#2a80ee,#2784eb,#2686ea,#2686ea,#2686ea)"></i>
<i style="background:linear-gradient(90deg,#f8bd2d,#f8bd2d,#f8bd2d,#f8bd2d,#f7bc2d,#f4bb2c,#f0b92c,#ebb82b,#e7b62a,#dfb82b,#d9b92b,#d7b92b,#d7ba2b,#d8b92b,#d8b92b,#d6ba2b,#d3ba2c,#d0bb2c,#cebc2c,#cebc2c,#cebc2c,#cbbc2c,#c2be2d,#a7c13c,#85c250,#67c066,#50bd78,#41ba85,#38b78e,#33b593,#32b494,#33b593,#34b592,#34b592,#30b396,#29b19e,#22aea6,#1eacaa,#20ada8,#29b09e,#34b592,#3cb889,#3db988,#38b68e,#2eb299,#22aea6,#1daab0,#1ba7b8,#19a5bf,#18a3c5,#17a1cb,#179fcf,#189cd3,#1a99d8,#1c95de,#1e91e4,#228ce7,#2587ea,#2882ec,#2b7fee,#2c7def,#2d7cf0,#2d7bf0,#2e7bf0,#2d7cf0,#2d7cf0,#2d7cf0,#2d7cf0,#2d7cf0,#2d7cf0,#2d7bf0,#2e7bf0,#2d7cf0,#2d7cf0,#2c7eef,#2a81ed,#2784eb,#2686ea,#2686ea,#2686ea)"></i>
<i style="background:linear-gradient(90deg,#f4bb2c,#f4bb2c,#f4bb2c,#f4bb2c,#f4bb2c,#f1ba2c,#edb82b,#e7b62a,#dfb82b,#d6ba2b,#d0bb2c,#cebc2c,#cfbb2c,#d1bb2c,#d2bb2c,#d0bb2c,#cdbc2c,#cabc2c,#c9bd2d,#cbbc2c,#cebc2c,#cebc2c,#c7bd2d,#afc038,#8bc34c,#6ac163,#52bd77,#41ba85,#37b68e,#32b494,#31b495,#32b494,#34b592,#34b592,#30b396,#28b09f,#20ada7,#1eabac,#1faca9,#29b19e,#36b690,#40b986,#42ba84,#3bb88b,#2fb397,#22aea5,#1daab0,#1ba7b8,#19a5be,#18a3c4,#17a1c9,#169fce,#189cd3,#1a99d8,#1c95de,#1e91e4,#228be7,#2686ea,#2982ed,#2b7fee,#2d7df0,#2d7bf0,#2e7bf0,#2d7bf0,#2d7cf0,#2d7df0,#2c7df0,#2c7df0,#2d7cf0,#2d7cf0,#2d7cf0,#2d7cf0,#2d7cf0,#2d7df0,#2b7eef,#2a81ed,#2785eb,#2587ea,#2587ea,#2587ea)"></i>
<i style="background:linear-gradient(90deg,#eeb92b,#eeb92b,#eeb92b,#efb92c,#efb92c,#edb82b,#e8b72a,#e0b72b,#d5ba2b,#cbbc2c,#c4be2d,#c2be2e,#c4be2d,#c8bd2d,#cabc2c,#c9bd2d,#c5be2d,#c1be2e,#c1be2e,#c6bd2d,#ccbc2c,#cfbb2c,#cbbc2c,#b6bf34,#90c349,#6ec161,#53bd76,#41b985,#37b68f,#31b495,#30b396,#31b495,#33b593,#33b593,#2fb397,#27b0a0,#1faca9,#1dabad,#1eacaa,#2ab19d,#39b78d,#45ba81,#48bb7f,#3fb986,#32b494,#23aea4,#1daab0,#1ba7b8,#1aa5be,#18a3c3,#17a2c8,#16a0ce,#189dd2,#1a99d8,#1c95de,#1e90e4,#238ae8,#2785eb,#2a81ed,#2c7eef,#2d7cf0,#2e7bf0,#2e7bf0,#2e7bf0,#2d7cf0,#2d7df0,#2c7df0,#2d7df0,#2d7cf0,#2d7cf0,#2d7cf0,#2d7cf0,#2d7cf0,#2c7df0,#2b7fef,#2981ed,#2785eb,#2587ea,#2587ea,#2587ea)"></i>
<i style="background:linear-gradient(90deg,#e7b62a,#e7b62a,#e7b62a,#e9b72b,#eab72b,#e8b72a,#e0b72a,#d5ba2b,#c9bd2d,#babf32,#afc038,#acc039,#b2c036,#b9bf32,#bebe30,#bdbf30,#b6bf34,#b1c037,#b3c036,#bfbe2f,#cabc2c,#d1bb2c,#cfbb2c,#bebe30,#97c245,#71c15e,#54bd75,#40b985,#36b690,#30b396,#2fb398,#30b496,#33b493,#33b493,#2eb398,#26afa2,#1eacab,#1daaaf,#1eacaa,#2cb29b,#3cb889,#4cbc7b,#4fbc79,#45ba82,#35b591,#25afa3,#1daab0,#1ba7b8,#19a5be,#18a3c3,#17a2c8,#16a0ce,#189dd2,#1a99d8,#1c95de,#1f90e5,#238ae8,#2784eb,#2b7fee,#2d7cf0,#2e7af0,#2f7af0,#2f7af0,#2e7bf0,#2d7cf0,#2d7cf0,#2d7cf0,#2d7cf0,#2d7cf0,#2e7bf0,#2e7bf0,#2e7bf0,#2d7cf0,#2c7def,#2b7fee,#2981ed,#2785eb,#2587ea,#2587ea,#2587ea)"></i>
<i style="background:linear-gradient(90deg,#dab92b,#dab92b,#dab92b,#e0b72b,#e4b72a,#dfb82b,#d6ba2b,#c9bd2d,#b6bf34,#a3c13e,#96c245,#94c346,#9bc242,#a5c13d,#acc039,#aac03a,#a4c13e,#9fc241,#a2c13f,#b3c036,#c7bd2d,#d2bb2c,#d3ba2c,#c5bd2d,#9ec241,#75c15c,#55be74,#40b985,#35b591,#2fb397,#2eb299,#2fb397,#32b494,#32b494,#2db299,#24aea4,#1dabad,#1daab0,#1eacab,#2db299,#41ba85,#53bd75,#57be72,#4bbc7c,#38b78e,#26afa1,#1daaaf,#1ba7b8,#19a5be,#18a3c3,#17a2c8,#16a0ce,#189dd2,#1a99d8,#1c95de,#1f8fe5,#2489e9,#2883ec,#2b7eef,#2e7bf0,#2f79f0,#3078f0,#2f79f0,#2f7af0,#2e7bf0,#2d7cf0,#2d7cf0,#2d7bf0,#2e7bf0,#2e7bf0,#2e7bf0,#2e7bf0,#2d7cf0,#2c7def,#2b7fee,#2982ed,#2785eb,#2686ea,#2686ea,#2686ea)"></i>
<i style="background:linear-gradient(90deg,#cbbc2c,#cbbc2c,#cbbc2c,#d3ba2c,#d8b92b,#d4ba2c,#cabc2c,#b7bf33,#9fc241,#8bc34c,#80c254,#7fc255,#86c250,#90c349,#97c245,#96c245,#8fc349,#8bc34c,#90c349,#a6c13d,#c4be2d,#d3ba2c,#d7b92b,#cbbc2c,#a7c13c,#7ac258,#57be72,#41ba85,#35b591,#2eb398,#2cb29a,#2eb398,#31b496,#31b495,#2cb29b,#22aea6,#1daaaf,#1ca9b2,#1eabab,#2fb398,#46ba81,#5abe6f,#5ebf6c,#51bd77,#3bb88a,#28b09f,#1daaaf,#1ba7b8,#19a5bf,#18a3c4,#17a2c9,#16a0ce,#189dd2,#1a99d8,#1c95df,#208fe5,#2588e9,#2982ed,#2c7def,#2f7af0,#3078f0,#3177f0,#3078f0,#2f79f0,#2e7af0,#2e7bf0,#2e7bf0,#2e7bf0,#2f7af0,#2f7af0,#2f7af0,#2e7bf0,#2d7cf0,#2c7eef,#2a80ee,#2982ed,#2785eb,#2686ea,#2686ea,#2686ea)"></i>
<i style="background:linear-gradient(90deg,#b7bf33,#b7bf33,#b7bf33,#c4be2d,#cbbc2c,#c8bd2d,#b9bf32,#a0c140,#88c24e,#75c15c,#6ac064,#69c064,#71c15e,#7dc256,#84c251,#83c252,#7cc256,#79c159,#7fc255,#97c245,#bdbf30,#d3ba2c,#dbb82b,#d0bb2c,#b0c037,#80c254,#5abe6f,#42ba83,#35b591,#2db299,#2bb19c,#2db29a,#2fb397,#2fb397,#2ab19d,#20ada8,#1caab1,#1ca9b4,#1dabac,#30b396,#4abb7d,#61c06a,#67c066,#58be71,#3fb986,#2ab19d,#1dabae,#1ba7b8,#19a5bf,#18a3c4,#17a1c9,#16a0ce,#189dd2,#1a99d7,#1c95df,#208fe5,#2587ea,#2981ed,#2d7cf0,#2f79f0,#3177f0,#3177f0,#3177f0,#3078f0,#2f7af0,#2e7af0,#2e7af0,#2f7af0,#2f79f0,#2f79f0,#2f79f0,#2e7bf0,#2d7cf0,#2b7eef,#2a80ee,#2882ec,#2785eb,#2686ea,#2686ea,#2686ea)"></i>
<i style="background:linear-gradient(90deg,#9dc242,#9dc242,#9dc242,#adc039,#bbbf31,#b6bf34,#a3c13e,#8ac34d,#73c15d,#60c06b,#56be73,#56be73,#5ebf6d,#69c064,#71c15f,#6fc160,#68c065,#64c067,#6dc161,#88c24e,#b5bf35,#d4ba2c,#e0b72b,#d7b92b,#bbbf31,#88c24e,#5fbf6c,#45ba81,#35b590,#2db29a,#2ab19d,#2bb19c,#2db299,#2db299,#28b09f,#1eacaa,#1ca9b3,#1ba8b6,#1dabad,#31b496,#4ebc7a,#68c065,#6fc160,#5ebf6d,#44ba82,#2cb29a,#1dabad,#1ba7b8,#19a5bf,#18a3c4,#17a2c8,#16a0cd,#189dd1,#1999d7,#1c95de,#208fe5,#2587ea,#2a81ed,#2d7cf0,#3078f0,#3177f0,#3176f0,#3177f0,#3078f0,#2f79f0,#2f7af0,#2f7af0,#2f79f0,#3078f0,#3078f0,#2f79f0,#2e7bf0,#2c7df0,#2b7fee,#2981ed,#2883ec,#2785eb,#2685eb,#2685eb,#2685eb)"></i>
<i style="background:linear-gradient(90deg,#86c250,#86c250,#86c250,#95c346,#a5c13d,#a0c140,#8ec34a,#77c15a,#5fc06b,#4fbc79,#45ba81,#45ba81,#4dbc7a,#57be72,#5ebf6c,#5cbf6e,#56be73,#53bd75,#5bbf6e,#7ac258,#acc039,#d4ba2c,#e5b62a,#deb82b,#c6bd2d,#92c347,#65c067,#49bb7e,#37b68f,#2db29a,#29b09e,#29b19e,#2bb19c,#2bb19c,#26afa2,#1dabad,#1ba8b6,#1ba7b8,#1daaae,#31b496,#50bc78,#6dc161,#76c15b,#63c068,#48bb7f,#2fb397,#1eabab,#1ba8b7,#19a5be,#18a3c3,#17a2c8,#16a0cc,#179ed1,#199ad6,#1c95dd,#1f8fe5,#2588e9,#2a81ed,#2d7cf0,#3079f0,#3177f0,#3176f0,#3177f0,#3078f0,#2f79f0,#2f7af0,#2f79f0,#3079f0,#3078f0,#3078f0,#2f7af0,#2d7cf0,#2c7eef,#2a80ee,#2883ec,#2784eb,#2685eb,#2685eb,#2685eb,#2685eb)"></i>
<i style="background:linear-gradient(90deg,#71c15e,#71c15e,#71c15e,#81c253,#8fc349,#8bc34c,#7bc257,#64c068,#50bc78,#3fb987,#36b68f,#36b68f,#3db988,#47bb7f,#4ebc7a,#4cbc7c,#45ba81,#42ba84,#4cbc7c,#6bc163,#a2c13f,#d4ba2c,#e8b72a,#e6b62a,#d0bb2c,#a1c13f,#70c15f,#4ebc79,#39b78d,#2db29a,#27b0a0,#27b0a0,#28b09f,#28b09f,#23aea5,#1daab0,#1ba7b8,#1aa6ba,#1daab0,#30b396,#51bd78,#70c15f,#7ac258,#68c065,#4cbc7b,#32b494,#1faca9,#1ca8b4,#1aa6bc,#19a4c1,#18a2c6,#17a1cb,#179ecf,#199bd5,#1b96dc,#1e90e4,#2489e9,#2982ed,#2c7def,#2f7af0,#3078f0,#3177f0,#3078f0,#3079f0,#2f7af0,#2f7af0,#2f79f0,#2f79f0,#3078f0,#2f79f0,#2e7bf0,#2c7def,#2a80ee,#2982ec,#2784eb,#2686ea,#2686ea,#2686eb,#2686eb,#2686eb)"></i>
<i style="background:linear-gradient(90deg,#5fbf6c,#5fbf6c,#5fbf6c,#6ec160,#7dc256,#79c159,#69c064,#54bd74,#40b985,#32b494,#2ab19d,#2ab19d,#30b496,#39b78d,#3eb987,#3bb88a,#35b591,#33b493,#3cb88a,#5cbf6e,#98c244,#d4ba2c,#ebb82b,#ebb82b,#dbb92b,#b4c035,#7dc256,#56be73,#3cb889,#2eb299,#26afa2,#24aea3,#25afa2,#25afa3,#1faca9,#1ca9b3,#1aa6bb,#1aa5bd,#1ca9b2,#2eb398,#4fbc79,#70c15f,#7bc257,#6bc163,#50bc78,#35b591,#23aea5,#1caab1,#1ba7b9,#19a5be,#18a3c3,#17a2c8,#16a0ce,#189cd3,#1b97da,#1e92e3,#238ae8,#2784ec,#2b7fee,#2d7cf0,#2f7af0,#2f79f0,#2f79f0,#2f7af0,#2e7bf0,#2e7bf0,#2e7af0,#2f7af0,#2f7af0,#2e7af0,#2d7cf0,#2b7fee,#2982ed,#2785eb,#2587ea,#2588e9,#2587ea,#2686ea,#2686ea,#2686ea)"></i>
<i style="background:linear-gradient(90deg,#51bd77,#51bd77,#51bd77,#5ebf6c,#6bc163,#67c065,#59be71,#46bb80,#34b591,#27afa1,#1eacaa,#1eacaa,#25afa3,#2db29a,#31b495,#2db299,#26afa1,#24aea4,#2eb398,#50bc78,#8ec34a,#d5ba2b,#eeb92b,#f0b92c,#e7b62a,#c8bd2d,#8dc34b,#5fc06b,#41ba84,#2fb398,#24afa3,#21ada7,#21ada6,#21ada7,#1dabad,#1ba8b6,#19a5be,#19a4c0,#1ba8b5,#2bb19c,#4bbc7c,#6cc162,#79c159,#6bc162,#52bd76,#39b78d,#27b0a0,#1dabad,#1ca8b4,#1aa7ba,#19a5bf,#18a3c4,#17a1ca,#179ed1,#1a99d8,#1d94e0,#218de6,#2587ea,#2982ed,#2b7fee,#2c7def,#2d7cf0,#2d7cf0,#2d7cf0,#2d7cf0,#2d7cf0,#2d7cf0,#2e7bf0,#2d7cf0,#2c7df0,#2b7fee,#2982ec,#2685eb,#2488e9,#238ae8,#238ae8,#2488e9,#2587ea,#2587ea,#2587ea)"></i>
<i style="background:linear-gradient(90deg,#45ba81,#45ba81,#45ba81,#51bd77,#5cbf6e,#58be71,#4bbc7c,#3ab78c,#2ab19d,#1eabac,#1ca9b3,#1ca9b3,#1dabae,#21ada7,#24aea3,#1fada8,#1daab0,#1ca9b2,#21ada7,#42ba83,#85c250,#d5ba2b,#f1ba2c,#f6bb2d,#efb92b,#d8b92b,#a5c13d,#6ec160,#48bb7e,#31b496,#23aea5,#1eacaa,#1eacab,#1eabac,#1caab1,#1aa7ba,#19a4c2,#18a3c3,#1ba7b9,#26afa1,#45ba81,#64c068,#73c15d,#69c064,#54bd75,#3db888,#2db29a,#22ada6,#1dabae,#1ca9b4,#1ba7b9,#19a5bf,#18a3c5,#16a0ce,#199bd5,#1b96dc,#1e91e4,#228be8,#2686ea,#2883ec,#2981ed,#2a80ee,#2b7fee,#2b7fee,#2b7fef,#2b7eef,#2c7eef,#2c7eef,#2b7eef,#2a80ee,#2883ec,#2686ea,#2389e8,#228ce7,#218de6,#218de6,#238ae8,#2588e9,#2588e9,#2588e9)"></i>
<i style="background:linear-gradient(90deg,#3bb88a,#3bb88a,#3bb88a,#46ba81,#4fbc79,#4bbb7c,#3eb987,#2fb397,#20ada8,#1ca8b4,#1aa6bc,#1aa6bc,#1ba7b7,#1ca9b2,#1daab0,#1ba8b5,#1aa5bd,#19a5c0,#1ca9b4,#37b68f,#7cc257,#d5ba2b,#f5bb2c,#f8c12c,#f7bc2d,#e8b72a,#c1be2e,#80c254,#51bd77,#33b493,#22ada6,#1dabad,#1daaaf,#1daab0,#1ba8b5,#1aa5be,#18a3c5,#17a2c7,#1aa6bd,#21ada7,#3db889,#5abe6f,#6ac064,#65c067,#55bd74,#42ba84,#34b592,#2ab19d,#22aea6,#1dabac,#1ca9b2,#1ba7b8,#19a5c0,#17a2c8,#179ed1,#1a99d8,#1c94df,#1f90e5,#228ce7,#2489e9,#2587ea,#2785eb,#2784ec,#2883ec,#2982ed,#2981ed,#2a81ed,#2981ed,#2982ec,#2784eb,#2587e9,#228be7,#208ee6,#1e90e4,#1e91e4,#1f90e5,#228ce7,#2489e9,#2489e9,#2489e9)"></i>
<i style="background:linear-gradient(90deg,#34b592,#34b592,#34b592,#3bb88a,#42ba84,#3eb987,#33b593,#25afa2,#1caab1,#1aa6bc,#18a3c3,#18a3c4,#19a4c0,#1aa6bc,#1aa6bb,#19a4c2,#17a1cb,#16a0cd,#19a4c0,#2cb29b,#72c15e,#d4ba2c,#f8bc2d,#f9c72a,#f9c32b,#f1ba2c,#d4ba2c,#94c346,#5bbf6f,#36b690,#21ada7,#1daab1,#1ca9b4,#1ba8b5,#1aa7ba,#19a4c2,#17a1c9,#17a1ca,#19a4c1,#1dabae,#34b592,#4fbc79,#5fbf6c,#5fbf6c,#55bd74,#47bb80,#3bb88b,#33b494,#2cb29b,#25afa2,#1eacaa,#1caab1,#1ba7b9,#19a4c2,#16a0cc,#189cd3,#1a98d9,#1c94df,#1e92e3,#1f8fe5,#218de6,#238be8,#2489e9,#2587ea,#2685eb,#2785eb,#2784eb,#2785eb,#2587ea,#2489e8,#218de7,#1f90e4,#1d93e1,#1c94df,#1c94df,#1d93e1,#208ee6,#238be8,#238be8,#238be8)"></i>
<i style="background:linear-gradient(90deg,#2db29a,#2db29a,#2db29a,#33b593,#37b68e,#33b593,#29b19e,#1eabac,#1ba7b8,#18a3c3,#17a1cb,#16a0cc,#17a2c8,#18a3c5,#18a2c6,#16a0ce,#189bd4,#199ad6,#16a0cd,#21ada7,#67c065,#d3ba2c,#f8bf2c,#facc29,#f9cb29,#f8be2c,#e6b62a,#adc039,#66c067,#39b78c,#20ada7,#1ca9b3,#1ba7b8,#1aa6ba,#19a5be,#18a2c6,#16a0cc,#16a0cd,#18a3c5,#1ca9b4,#2bb19b,#42ba83,#54bd75,#58be71,#54bd74,#4cbc7b,#43ba83,#3cb889,#36b690,#2fb397,#28b09f,#1faca9,#1ca9b2,#1aa6bb,#18a3c4,#16a0cd,#189cd3,#1a99d8,#1b96dc,#1c94df,#1d93e1,#1e91e4,#208ee6,#228ce7,#238ae8,#2488e9,#2488e9,#2389e8,#228be7,#208fe5,#1e92e3,#1c95de,#1b97db,#1a98d9,#1a98da,#1c95dd,#1e91e4,#218ce7,#218ce7,#218ce7)"></i>
<i style="background:linear-gradient(90deg,#26afa1,#26afa1,#26afa1,#2bb19c,#2eb299,#29b09e,#1faca9,#1ca8b4,#19a4c0,#17a1ca,#179ed0,#179ed1,#179fcf,#169fce,#179ecf,#199ad6,#1b96dd,#1c95df,#199bd5,#1caab1,#5dbf6d,#d0bb2c,#f8c12c,#fad128,#fad227,#f9c72a,#efb92b,#c4be2d,#73c15d,#3db988,#21ada7,#1ba8b6,#1aa6bc,#19a5bf,#18a3c3,#17a1ca,#179fcf,#179ed0,#17a1ca,#1aa6ba,#22ada6,#37b68f,#48bb7f,#51bd77,#53bd75,#51bd77,#4dbc7b,#48bb7f,#42ba84,#3ab88b,#32b494,#28b09f,#1eacaa,#1ca9b4,#1aa6bd,#18a3c5,#16a0cc,#179ed0,#189cd4,#199ad7,#1a98da,#1c96dd,#1d93e1,#1e91e4,#208ee6,#218de7,#218de6,#208ee6,#1e91e4,#1d93e0,#1b96dc,#1a99d8,#199bd5,#189cd3,#199bd4,#1a98d9,#1d93e1,#208fe5,#208fe5,#208fe5)"></i>
<i style="background:linear-gradient(90deg,#20ada8,#20ada8,#20ada8,#23aea4,#24aea3,#1faca9,#1ca9b2,#1aa6bc,#17a2c7,#179ed0,#189bd4,#199bd5,#199bd4,#189bd4,#199ad6,#1c95dd,#1f90e5,#208ee6,#1b96dd,#1aa6bb,#53bd75,#ccbc2c,#f9c22c,#fad526,#f9d825,#face28,#f7bc2d,#d2bb2c,#81c253,#43ba83,#22ada6,#1ba7b7,#19a5bf,#18a3c3,#17a2c8,#16a0ce,#179dd1,#189dd2,#169fce,#19a4c1,#1daaaf,#2cb29b,#3cb889,#49bb7e,#51bd77,#55bd74,#56be73,#54bd75,#4fbc79,#48bb7f,#3db888,#32b494,#26afa1,#1dabac,#1ca8b5,#1aa6bc,#19a4c2,#17a2c7,#16a1cb,#179fcf,#189dd2,#199ad6,#1b98da,#1c95de,#1d92e2,#1e91e4,#1e91e4,#1d92e2,#1c95de,#1b97da,#199bd5,#179dd1,#169fce,#16a0cd,#179fcf,#199bd5,#1c95de,#1e91e4,#1e91e4,#1e91e4)"></i>
<i style="background:linear-gradient(90deg,#1dabae,#1dabae,#1dabae,#1dabac,#1dabad,#1ca9b2,#1aa6bb,#18a3c5,#169fce,#189bd4,#1a99d8,#1a98da,#1a98d9,#1a98da,#1c95dd,#1f90e4,#2489e9,#2587ea,#1e91e4,#18a3c5,#49bb7e,#c7bd2d,#f9c12c,#f9d725,#f9dd23,#fad526,#f9c22c,#dfb82b,#8ec34a,#49bb7d,#24aea4,#1ba7b8,#19a4c2,#17a2c7,#16a0cc,#179ed0,#189cd3,#189bd4,#179ed1,#17a2c7,#1ba7b8,#21ada6,#32b494,#41ba85,#4fbc79,#58be71,#5ebf6d,#5fbf6b,#5dbf6e,#55be74,#4abb7d,#3bb88a,#2fb397,#24aea4,#1dabad,#1ca9b3,#1ba7b8,#1aa6bb,#19a5bf,#18a3c3,#17a2c8,#169fce,#189cd3,#1a98d9,#1b96dd,#1c94df,#1c95df,#1b96dc,#1a99d8,#189cd4,#179fcf,#17a1ca,#18a3c5,#18a3c5,#17a2c9,#179ed0,#1b97db,#1d92e2,#1d92e2,#1d92e2)"></i>
<i style="background:linear-gradient(90deg,#1ca9b4,#1ca9b4,#1ca9b4,#1ca9b3,#1ba8b6,#1aa6bb,#18a3c3,#16a0cd,#189cd3,#1a99d8,#1b96dc,#1c95de,#1c95de,#1c94e0,#1e91e4,#2389e8,#2982ed,#2a80ee,#238ae8,#169fce,#3eb988,#bdbf30,#f8c02c,#f9d825,#f8df22,#f9d925,#f9c72a,#e8b72a,#9dc242,#51bd78,#27b0a1,#1ba7b7,#18a3c3,#17a1ca,#179fcf,#189cd2,#199bd5,#199ad6,#189cd3,#16a0cd,#19a5bf,#1daab0,#29b09e,#3ab78c,#4bbc7c,#5bbf6f,#66c067,#6cc162,#6bc163,#62c069,#56be73,#47bb80,#38b68e,#2cb29b,#23aea4,#1eacaa,#1dabae,#1caab1,#1ca9b4,#1ba7b8,#1aa5bd,#18a3c4,#16a0cd,#189cd3,#1a99d8,#1b98da,#1a98da,#199ad7,#189cd3,#16a0ce,#18a2c6,#19a4c0,#1aa6bd,#1aa6bd,#19a4c1,#16a0cc,#1a99d8,#1c94df,#1c94df,#1c94df)"></i>
<i style="background:linear-gradient(90deg,#1aa6ba,#1aa6ba,#1aa6ba,#1aa6bb,#19a5be,#18a3c4,#16a0cc,#189dd2,#1a99d8,#1b96dd,#1d93e0,#1d92e2,#1e92e3,#1f90e5,#228be7,#2883ec,#2e7bf0,#2f79f0,#2884ec,#199bd4,#34b592,#adc039,#f8bc2d,#f9d626,#f8df22,#f9da24,#f9ca2a,#ecb82b,#aac03a,#58be71,#2bb19c,#1ba8b6,#18a3c4,#16a0cc,#179ed1,#199bd4,#199ad7,#1a99d7,#199bd5,#179ed0,#18a2c6,#1ba7b8,#20ada7,#34b592,#48bb7f,#5cbf6e,#6dc162,#77c15a,#79c159,#72c15e,#62c069,#52bd77,#40b985,#34b592,#2cb29b,#27b0a0,#24aea3,#22aea6,#1faca9,#1dabad,#1ca9b2,#1aa7ba,#18a3c3,#16a0cd,#189cd2,#199bd5,#199bd5,#189dd2,#16a0cd,#18a3c5,#1aa5be,#1ba7b8,#1ca8b4,#1ba8b5,#1aa6bb,#17a2c7,#199ad5,#1b96dd,#1b96dd,#1b96dd)"></i>
<i style="background:linear-gradient(90deg,#19a4c1,#19a4c1,#19a4c1,#18a4c2,#17a2c7,#16a0cd,#189dd2,#1a99d7,#1b96dd,#1d93e1,#1e90e4,#208fe5,#218de6,#228be8,#2686ea,#2c7def,#3374f0,#3472f0,#2c7eef,#1b97db,#29b09e,#98c244,#f3ba2c,#fad227,#f9dc23,#f9d924,#f9ca29,#eeb92b,#b6bf34,#61c06a,#31b495,#1ca9b2,#18a3c3,#16a0cd,#189cd2,#199ad6,#1a99d8,#1a98d9,#199ad7,#189cd3,#16a0cc,#19a5bf,#1dabae,#2eb299,#44ba82,#5cbf6e,#71c15e,#7fc254,#84c251,#7fc255,#6fc160,#5bbf6f,#49bb7e,#3bb88b,#33b593,#2fb397,#2db299,#2cb29b,#2ab19d,#26afa2,#1fada9,#1caab1,#1aa6bb,#18a3c5,#16a0ce,#179ed0,#179ed0,#16a0cd,#18a3c5,#1aa5bd,#1ba8b6,#1daab0,#1dabae,#1daaaf,#1ba8b5,#19a4c2,#189cd3,#1b97da,#1b97da,#1b97da)"></i>
<i style="background:linear-gradient(90deg,#17a2c8,#17a2c8,#17a2c8,#17a1cb,#179fcf,#189cd3,#1a99d8,#1c96dd,#1d93e2,#1f8fe5,#218ce7,#238ae8,#2489e9,#2686ea,#2a80ee,#3177f0,#376ff0,#396df0,#3078f0,#1d93e1,#1eacab,#82c253,#ebb82b,#f9cb29,#f9d725,#fad526,#f9c82a,#eeb92b,#bfbe2f,#6cc162,#39b78d,#1dabad,#19a4c0,#16a0cd,#189cd4,#1a99d7,#1a98d9,#1a98d9,#1a99d8,#199bd4,#179fcf,#18a3c3,#1ca9b3,#29b09e,#40b986,#5abe70,#73c15d,#84c251,#8cc34c,#89c24e,#7ac258,#64c068,#51bd77,#42ba84,#39b78c,#36b690,#35b591,#34b592,#32b494,#2fb398,#28b09f,#1fada9,#1ca9b3,#19a5be,#17a2c7,#16a0cc,#16a1cb,#18a2c6,#19a5bf,#1ba8b7,#1daab0,#1eacab,#20ada8,#1eacaa,#1caab1,#19a5be,#179ed0,#1a99d8,#1a99d8,#1a99d8)"></i>
<i style="background:linear-gradient(90deg,#179fcf,#179fcf,#179fcf,#179dd1,#199bd5,#1a98d9,#1c95de,#1e92e3,#208ee6,#228be8,#2488e9,#2686ea,#2784eb,#2a81ed,#2e7bf0,#3572f0,#3b69f0,#3d68f0,#3472f0,#208ee6,#1ba8b6,#6ac064,#dcb82b,#f8c12c,#facd29,#facd29,#f9c32b,#ecb82b,#c4be2d,#78c15a,#43ba83,#23aea5,#1aa6bc,#16a0cc,#189bd4,#1a99d8,#1b97da,#1a98da,#1a99d8,#199bd5,#179ed0,#17a2c7,#1ba8b7,#25afa3,#3cb88a,#57be72,#71c15e,#86c250,#90c348,#8fc349,#82c252,#6dc162,#58be71,#48bb7f,#3fb986,#3cb88a,#3bb88a,#3bb88a,#39b78c,#36b690,#30b397,#27afa1,#1dabad,#1ba7b8,#19a4c1,#18a2c6,#18a3c5,#19a4c0,#1aa7ba,#1ca9b2,#1eacab,#22aea5,#24afa3,#22aea6,#1dabae,#1aa6bb,#169fce,#199ad5,#199ad5,#199ad5)"></i>
<i style="background:linear-gradient(90deg,#199bd5,#199bd5,#199bd5,#199ad7,#1b97db,#1c94e0,#1e91e4,#218de6,#2389e8,#2686ea,#2883ec,#2981ed,#2b7fee,#2d7cf0,#3276f0,#386df0,#3e65f0,#3f63ef,#386ef0,#2488e9,#19a4c1,#53bd75,#c5be2d,#f0b92c,#f9c12c,#f9c32b,#f7bc2d,#e9b72a,#c6bd2d,#84c251,#50bd78,#2cb29b,#1ba8b6,#17a1ca,#189bd4,#1a98d9,#1b97da,#1a98da,#1a99d8,#199bd5,#179ed0,#17a2c8,#1aa7b9,#21ada6,#38b78e,#52bd76,#6dc161,#84c251,#92c348,#94c347,#88c24f,#73c15d,#5dbf6d,#4dbc7a,#44ba82,#41ba85,#40b985,#40b985,#3eb987,#3bb88a,#35b590,#2cb29a,#21ada7,#1ca9b2,#1aa6bb,#19a4c0,#19a4c0,#1aa6bc,#1ba8b5,#1dabae,#21ada7,#25afa2,#27b0a0,#25afa3,#1eacab,#1ba7b8,#16a1cc,#189cd3,#189cd3,#189cd3)"></i>
<i style="background:linear-gradient(90deg,#1b97db,#1b97db,#1b97db,#1c96dd,#1d93e1,#1f90e5,#228ce7,#2488e9,#2785eb,#2981ed,#2b7fee,#2d7df0,#2e7af0,#3177f0,#3571f0,#3c69f0,#4061ee,#415fee,#3b69f0,#2883ec,#16a0cd,#3db988,#9bc243,#ddb82b,#efb92b,#f2ba2c,#edb82b,#e1b72a,#c6bd2d,#90c349,#5ebf6c,#37b68f,#1daab0,#17a2c7,#189cd3,#1a98d9,#1b97da,#1a98d9,#199ad7,#189bd4,#179ed0,#17a2c8,#1aa6ba,#1faca9,#34b592,#4dbc7b,#66c066,#80c254,#90c349,#95c346,#8bc34c,#77c15a,#61c06a,#52bd77,#48bb7e,#45ba81,#44ba82,#44ba82,#43ba83,#3fb986,#3ab78c,#31b495,#26afa2,#1dabae,#1ba8b6,#1aa6bb,#1aa6bb,#1ba7b7,#1ca9b1,#1eacab,#23aea4,#28b09f,#29b09e,#26afa1,#1eacaa,#1ba8b6,#17a2c9,#179dd1,#179dd1,#179dd1)"></i>
<i style="background:linear-gradient(90deg,#1d93e1,#1d93e1,#1d93e1,#1e92e3,#208ee6,#238ae8,#2587ea,#2883ec,#2a80ee,#2c7df0,#2e7af0,#3078f0,#3276f0,#3472f0,#396df0,#3e65f0,#425eed,#425cec,#3e66f0,#2c7eef,#199bd5,#2bb19c,#73c15d,#bcbf31,#d7b92b,#dfb72b,#ddb82b,#d4ba2c,#c4be2d,#9dc241,#6fc160,#43ba83,#20ada8,#18a4c2,#189dd2,#1a99d8,#1a98da,#1a99d8,#199ad6,#189cd3,#179fce,#18a2c6,#1aa6ba,#1eacab,#31b495,#47bb80,#5fbf6b,#79c159,#8cc34c,#93c347,#8cc34c,#7ac258,#64c068,#55bd74,#4cbc7c,#48bb7f,#47bb7f,#47bb7f,#46bb80,#43ba83,#3db888,#35b591,#2ab19d,#1faca9,#1ca9b2,#1ba8b7,#1ba8b7,#1ca9b4,#1dabae,#20ada8,#25afa2,#29b09e,#2ab19d,#27b0a0,#20ada8,#1ca9b4,#18a3c6,#169fce,#169fce,#169fce)"></i>
<i style="background:linear-gradient(90deg,#208ee5,#208ee5,#208ee5,#218de7,#2489e9,#2785eb,#2982ed,#2b7eef,#2e7bf0,#3078f0,#3275f0,#3473f0,#3571f0,#386ef0,#3c69f0,#4062ee,#435bec,#445aeb,#4062ef,#2f79f0,#1c96dd,#1daaaf,#52bd76,#88c24e,#adc039,#bebe30,#c4be2d,#c5be2d,#bfbe2f,#a9c13b,#82c253,#52bd77,#29b19e,#1aa5bd,#179ed1,#1a99d7,#1a98d9,#1999d7,#189bd4,#179ed1,#16a0cc,#18a3c4,#1ba7b9,#1eabab,#2eb299,#41ba85,#58be71,#71c15e,#86c250,#8fc349,#8ac34d,#7ac258,#66c066,#57be72,#4ebc7a,#4abb7d,#49bb7e,#49bb7e,#48bb7f,#45ba81,#3fb986,#38b68e,#2eb299,#23aea4,#1dabae,#1ca9b2,#1ca9b3,#1daab0,#1eabac,#22aea6,#27afa1,#2ab19d,#2ab19d,#28b0a0,#20ada7,#1ca9b2,#18a4c2,#16a1cb,#16a1cb,#16a1cb)"></i>
<i style="background:linear-gradient(90deg,#2489e8,#2489e8,#2489e8,#2587ea,#2784ec,#2a80ee,#2c7df0,#2f79f0,#3176f0,#3473f0,#3671f0,#376ff0,#396df0,#3b6af0,#3e65f0,#415fed,#4459eb,#4557eb,#4160ee,#3374f0,#1e91e4,#19a5bf,#37b68f,#5dbf6d,#7ac258,#8ac34d,#98c244,#abc03a,#b7bf33,#b3c036,#93c347,#60c06b,#33b493,#1ba7b8,#179fce,#199ad6,#1a99d8,#199ad5,#189dd2,#169fce,#17a2c8,#19a4c1,#1ba8b7,#1eabac,#2bb19c,#3bb88a,#51bd77,#68c065,#7ec255,#8ac34d,#87c24f,#79c159,#66c066,#58be72,#4fbc79,#4bbc7c,#4abb7d,#49bb7e,#48bb7e,#46bb80,#41ba84,#3ab78b,#31b495,#27b0a0,#1faca9,#1dabae,#1daaaf,#1dabad,#1faca9,#24aea4,#28b09f,#2ab19d,#2bb19c,#28b09f,#21ada6,#1caab1,#19a5bf,#17a2c7,#17a2c7,#17a2c7)"></i>
<i style="background:linear-gradient(90deg,#2784eb,#2784eb,#2784eb,#2882ec,#2b7fee,#2d7cf0,#3078f0,#3275f0,#3572f0,#376ff0,#396df0,#3a6bf0,#3c69f0,#3e66f0,#4062ef,#425cec,#4557ea,#4556ea,#425eed,#3670f0,#238ae8,#169fce,#20ada8,#3db889,#51bd77,#5fbf6b,#73c15d,#8ec34a,#adc039,#babf32,#a5c13d,#70c15f,#3cb88a,#1ca9b2,#16a1cb,#189bd4,#199ad6,#189cd4,#179ed0,#16a1cb,#18a3c4,#1aa6bd,#1ca8b4,#1eacab,#29b19e,#37b68e,#4abb7d,#5fbf6b,#75c15c,#82c252,#82c253,#76c15b,#65c067,#58be71,#50bc78,#4bbc7c,#4abb7d,#49bb7e,#49bb7e,#47bb80,#43ba83,#3cb889,#34b592,#2bb19b,#23aea4,#1eacaa,#1eacab,#1faca9,#22aea5,#26afa1,#29b19e,#2bb19c,#2bb19c,#28b09f,#23aea5,#1dabae,#1aa6bb,#19a4c2,#19a4c2,#19a4c2)"></i>
<i style="background:linear-gradient(90deg,#2b7fee,#2b7fee,#2b7fee,#2c7eef,#2e7bf0,#3177f0,#3374f0,#3671f0,#386ef0,#3a6bf0,#3c69f0,#3d67f0,#3e66f0,#3f63ef,#4160ee,#435aec,#4556ea,#4655ea,#435cec,#396df0,#2784eb,#1a99d7,#1aa6ba,#24afa3,#33b593,#3fb986,#54bd75,#76c15b,#a1c140,#bdbf30,#b3c036,#7fc254,#46bb80,#1eabac,#17a2c7,#189dd2,#189cd4,#179dd1,#16a0cd,#17a2c6,#19a5bf,#1ba7b8,#1caab1,#1eacaa,#28b09f,#34b592,#43ba83,#57be72,#6bc162,#7ac258,#7bc257,#72c15e,#63c068,#58be72,#50bc78,#4bbc7c,#49bb7e,#49bb7e,#48bb7e,#47bb7f,#45ba82,#3fb986,#38b68e,#30b397,#28b09f,#23aea4,#22aea6,#23aea4,#26afa2,#29b09f,#2bb19c,#2cb29a,#2cb29b,#2ab19d,#25afa3,#1eabac,#1ba8b6,#1aa6bc,#1aa6bc,#1aa6bc)"></i>
<i style="background:linear-gradient(90deg,#2e7bf0,#2e7bf0,#2e7bf0,#2f79f0,#3176f0,#3473f0,#3670f0,#386df0,#3b6af0,#3d68f0,#3e66f0,#3f64ef,#3f63ef,#4061ee,#425eed,#4459eb,#4655ea,#4654ea,#435bec,#3b6af0,#2b7fee,#1c94df,#17a1cb,#1ba7b8,#1dabac,#28b09f,#3bb88a,#5fc06b,#92c348,#bdbf30,#bdbf30,#8bc34c,#50bc78,#23aea5,#19a4c2,#179fcf,#179dd1,#179fcf,#17a1c9,#19a4c2,#1aa6bb,#1ca9b4,#1dabad,#20ada7,#28b09f,#31b495,#3eb987,#50bd78,#61c06a,#70c15f,#73c15d,#6cc162,#60c06a,#56be73,#4fbc79,#4bbb7c,#49bb7e,#48bb7e,#48bb7e,#48bb7e,#46bb80,#42ba84,#3bb88a,#34b592,#2db299,#29b09e,#27b0a0,#28b09f,#2ab19d,#2cb29b,#2db299,#2eb398,#2eb299,#2cb29b,#27b0a0,#20ada7,#1caab1,#1ba8b5,#1ba8b5,#1ba8b5)"></i>
<i style="background:linear-gradient(90deg,#3177f0,#3177f0,#3177f0,#3276f0,#3473f0,#3670f0,#396df0,#3b6af0,#3d67f0,#3e65f0,#3f63ef,#4062ee,#4061ee,#415fed,#425cec,#4458eb,#4655ea,#4654ea,#435aec,#3c68f0,#2d7bf0,#208fe5,#199bd5,#17a2c8,#19a5be,#1ca9b3,#29b09e,#4ebc7a,#84c251,#b8bf33,#c1be2e,#94c346,#58be71,#29b19d,#1aa6bc,#17a1ca,#169fce,#16a1cb,#18a3c5,#1aa5be,#1ba8b6,#1daaaf,#1faca9,#23aea4,#28b09f,#2fb397,#3ab78b,#4abb7d,#5abe70,#66c066,#6ac064,#65c067,#5dbf6d,#54bd74,#4ebc7a,#4abb7d,#48bb7e,#48bb7f,#49bb7e,#4abb7d,#49bb7e,#46ba81,#3fb986,#39b78d,#33b494,#2eb398,#2db29a,#2db29a,#2eb398,#30b396,#31b495,#31b495,#31b495,#2fb398,#2bb19c,#26afa2,#1eacaa,#1dabae,#1dabae,#1dabae)"></i>
<i style="background:linear-gradient(90deg,#3374f0,#3374f0,#3374f0,#3473f0,#3670f0,#386df0,#3b6af0,#3d68f0,#3e65f0,#3f63ef,#4061ee,#4160ee,#415fed,#425eed,#435bec,#4458eb,#4655ea,#4654ea,#445aec,#3e67f0,#3078f0,#238ae8,#1b96dc,#189cd3,#16a0cc,#19a4c1,#1dabae,#3eb987,#75c15c,#adc039,#bfbe2f,#99c244,#5ebf6c,#30b396,#1ba8b5,#18a3c4,#17a1c9,#17a2c7,#19a4c1,#1ba7b9,#1ca9b1,#1eacaa,#23aea4,#27b0a0,#2ab19d,#2fb397,#38b78e,#44ba82,#52bd76,#5cbf6e,#60c06b,#5ebf6d,#58be71,#52bd76,#4dbc7a,#4abb7d,#48bb7e,#49bb7e,#4abb7d,#4cbc7b,#4cbc7b,#4abb7d,#45ba81,#3eb987,#38b78d,#34b592,#33b493,#33b593,#34b592,#35b591,#36b690,#36b690,#35b590,#34b592,#30b496,#2cb29b,#26afa1,#23aea5,#23aea5,#23aea5)"></i>
<i style="background:linear-gradient(90deg,#3572f0,#3572f0,#3572f0,#3670f0,#386ef0,#3a6bf0,#3c68f0,#3e66f0,#3f64ef,#4062ee,#4160ee,#415fed,#425eed,#425ded,#435bec,#4458eb,#4655ea,#4655ea,#435aec,#3e66f0,#3176f0,#2587ea,#1d93e1,#1a98d9,#189cd4,#16a0cc,#1ba7b9,#32b494,#64c067,#9dc241,#b6bf34,#98c244,#62c069,#36b690,#1daaaf,#1aa5be,#18a3c3,#19a4c2,#1aa6bd,#1ba8b5,#1dabad,#23aea5,#28b09f,#2bb19c,#2db299,#31b495,#37b68e,#40b985,#4bbc7c,#54bd75,#57be72,#57be73,#53bd75,#4fbc79,#4cbc7c,#4abb7d,#49bb7e,#4abb7d,#4cbc7b,#4fbc79,#51bd77,#50bc78,#4bbc7c,#45ba81,#3fb987,#3bb88a,#3ab78c,#3ab78b,#3bb88a,#3cb889,#3cb889,#3cb889,#3bb88a,#3ab78c,#37b68e,#34b592,#30b397,#2eb299,#2eb299,#2eb299)"></i>
<i style="background:linear-gradient(90deg,#3670f0,#3670f0,#3670f0,#376ff0,#396cf0,#3b69f0,#3d67f0,#3f65ef,#4062ef,#4061ee,#415fee,#415fed,#425eed,#425ded,#435bec,#4459eb,#4556ea,#4556ea,#435bec,#3e66f0,#3275f0,#2785eb,#1e91e4,#1c96dd,#1a99d8,#189dd2,#19a4c1,#28b09f,#56be73,#8bc34c,#a7c13c,#91c348,#65c067,#3cb88a,#21ada7,#1ba8b6,#1aa6bd,#1aa6bd,#1ba7b8,#1ca9b1,#1faca9,#27b0a0,#2db29a,#30b397,#31b495,#34b592,#38b68e,#3db988,#44ba82,#4abb7d,#4ebc7a,#4fbc79,#4ebc7a,#4cbc7b,#4abb7d,#49bb7d,#4abb7d,#4cbc7c,#4fbc79,#53bd75,#56be73,#56be73,#53bd76,#4dbc7b,#47bb80,#43ba83,#42ba84,#42ba83,#44ba82,#45ba81,#46ba81,#45ba81,#44ba82,#42ba84,#3fb986,#3db988,#3ab78b,#39b78c,#39b78c,#39b78c)"></i>
<i style="background:linear-gradient(90deg,#376ff0,#376ff0,#376ff0,#386df0,#3a6bf0,#3c68f0,#3e66f0,#3f64ef,#4062ee,#4160ee,#415fee,#415fed,#425eed,#425eed,#435cec,#4459eb,#4557eb,#4557eb,#435cec,#3e67f0,#3275f0,#2784eb,#1f8fe5,#1c94df,#1b97db,#199ad5,#17a2c8,#1eacaa,#48bb7f,#78c15a,#94c347,#89c24e,#65c067,#41ba84,#29b09f,#1daaaf,#1ba8b6,#1ba7b8,#1ca8b4,#1dabae,#23aea5,#2bb19b,#32b495,#35b591,#36b68f,#37b68e,#39b78c,#3bb88a,#3eb987,#41ba84,#44ba82,#46bb80,#47bb7f,#48bb7e,#49bb7e,#4abb7d,#4bbc7c,#4ebc79,#53bd75,#59be71,#5cbf6e,#5dbf6d,#5abf6f,#55bd74,#50bc78,#4cbc7b,#4bbc7c,#4cbc7b,#4ebc79,#50bc78,#50bd78,#4fbc78,#4ebc7a,#4cbc7b,#4bbb7d,#49bb7e,#47bb7f,#47bb80,#47bb80,#47bb80)"></i>
<i style="background:linear-gradient(90deg,#386ef0,#386ef0,#386ef0,#396df0,#3b6af0,#3d67f0,#3e65f0,#3f63ef,#4062ee,#4160ee,#4160ee,#415fee,#415fed,#415eed,#425ded,#435bec,#4458eb,#4458eb,#425ded,#3d68f0,#3276f0,#2784eb,#1f8fe5,#1d94e0,#1b96dc,#1a99d8,#16a0cd,#1ca9b2,#3ab78b,#63c068,#81c254,#7dc256,#63c068,#47bb80,#30b396,#21ada6,#1daaaf,#1ca9b2,#1daab0,#1eacaa,#27b0a1,#30b397,#36b68f,#3ab88b,#3cb889,#3cb889,#3bb88a,#3ab78b,#39b78c,#39b78c,#3bb88b,#3db988,#41ba85,#44ba82,#47bb7f,#4abb7d,#4dbc7a,#52bd76,#58be71,#5ebf6c,#64c068,#66c066,#62c069,#5dbf6d,#58be71,#55bd74,#55bd74,#57be72,#59be70,#5bbf6f,#5bbf6f,#5bbf6f,#59be70,#58be72,#56be73,#56be73,#56be73,#56be73,#56be73,#56be73)"></i>
<i style="background:linear-gradient(90deg,#386ef0,#386ef0,#386ef0,#396cf0,#3b6af0,#3d67f0,#3e65f0,#3f63ef,#4062ee,#4061ee,#4160ee,#4160ee,#4160ee,#4160ee,#415eed,#435cec,#445aec,#445aec,#415eed,#3c69f0,#3177f0,#2685eb,#1f90e5,#1c94df,#1b96dc,#1a98d9,#179ed0,#1ba7b9,#2fb398,#51bd77,#6cc162,#70c160,#60c06b,#4cbc7c,#38b68e,#2ab19d,#20ada8,#1dabad,#1dabac,#21ada6,#2ab19d,#34b592,#3bb88a,#41ba85,#43ba83,#42ba84,#3eb987,#39b78c,#35b591,#32b494,#33b494,#36b690,#3bb88b,#40b985,#46bb80,#4bbc7c,#50bd78,#56be73,#5ebf6d,#66c066,#6dc161,#70c15f,#6dc161,#67c065,#61c06a,#5ebf6c,#5fbf6c,#61c06a,#65c067,#68c065,#68c065,#67c065,#66c067,#64c068,#63c069,#63c068,#65c067,#67c066,#67c066,#67c066)"></i>
<i style="background:linear-gradient(90deg,#386ef0,#386ef0,#386ef0,#396cf0,#3b69f0,#3d67f0,#3e65f0,#3f63ef,#4062ef,#4061ee,#4061ee,#4061ee,#4061ee,#4061ee,#4160ee,#425ded,#435bec,#435bec,#4160ee,#3b6af0,#2f79f0,#2587ea,#1e91e3,#1c95de,#1b96dc,#1a98d9,#189dd2,#19a5bf,#23aea4,#3fb986,#58be71,#61c06a,#5cbf6e,#4fbc79,#3eb987,#32b495,#27b0a0,#20ada7,#20ada8,#25afa2,#2eb299,#38b68e,#41ba85,#48bb7f,#4bbc7c,#49bb7e,#42ba84,#39b78d,#30b396,#2bb19c,#2ab19d,#2eb398,#35b591,#3db888,#45ba81,#4cbc7b,#54bd75,#5bbf6e,#65c067,#6fc160,#77c15a,#7bc258,#78c15a,#72c15e,#6cc162,#69c064,#6ac163,#6ec161,#73c15d,#76c15b,#77c15a,#76c15b,#74c15c,#73c15d,#72c15e,#73c15d,#77c15a,#7ac258,#7ac258,#7ac258)"></i>
<i style="background:linear-gradient(90deg,#376ef0,#376ef0,#376ef0,#396df0,#3b6af0,#3d67f0,#3e65f0,#3f64ef,#3f63ef,#4062ef,#4062ef,#4062ef,#3f63ef,#4063ef,#4061ee,#415fed,#425ded,#425ded,#4061ee,#396cf0,#2e7bf0,#2489e9,#1d93e1,#1b96dc,#1b97da,#1a98d9,#189cd3,#18a3c6,#1daab0,#31b495,#47bb80,#54bd75,#57be72,#51bd77,#46bb80,#39b78d,#2eb299,#26afa1,#24afa3,#29b09e,#31b495,#3cb88a,#47bb80,#50bc78,#53bd75,#51bd77,#46bb80,#38b78d,#2cb29b,#23aea4,#22aea6,#27b0a0,#30b397,#3ab78c,#44ba82,#4ebc79,#58be71,#62c069,#6ec161,#7ac258,#82c253,#85c250,#82c252,#7cc257,#76c15b,#73c15d,#76c15b,#7bc258,#80c254,#84c251,#85c250,#84c251,#82c252,#81c253,#81c253,#83c252,#89c24e,#8cc34b,#8cc34b,#8cc34b)"></i>
<i style="background:linear-gradient(90deg,#376ff0,#376ff0,#376ff0,#386df0,#3b6af0,#3d67f0,#3e66f0,#3f64ef,#3f63ef,#3f63ef,#3f63ef,#3f64ef,#3f64ef,#3f64ef,#3f63ef,#4061ee,#425eed,#425eed,#4063ef,#386ef0,#2d7df0,#228be7,#1c95df,#1a98d9,#1a99d8,#1a99d8,#199bd5,#16a0cc,#1ba7b9,#23aea4,#37b68f,#47bb80,#50bd78,#52bd76,#4cbc7c,#3fb986,#34b592,#2bb19c,#28b09f,#2cb29a,#35b591,#40b985,#4dbc7a,#57be72,#5cbf6e,#58be71,#4bbb7d,#38b78e,#28b09f,#1eabab,#1dabae,#1fada9,#2ab19d,#37b68f,#43ba82,#51bd77,#5dbf6d,#6ac163,#78c159,#84c251,#8cc34b,#8fc349,#8cc34b,#86c250,#80c254,#7ec256,#80c254,#86c250,#8cc34b,#91c348,#92c347,#91c348,#8fc349,#8ec34a,#8ec34a,#91c348,#9ac243,#a0c240,#a0c240,#a0c240)"></i>
<i style="background:linear-gradient(90deg,#3670f0,#3670f0,#3670f0,#386ef0,#3b6af0,#3d68f0,#3e66f0,#3f65f0,#3f64ef,#3f64ef,#3f64ef,#3e65f0,#3e66f0,#3e66f0,#3f65f0,#4062ef,#415fee,#415fed,#3f64ef,#376ff0,#2b7fef,#218de6,#1b96dc,#199ad7,#199ad7,#1a99d8,#199ad6,#179ed0,#18a4c3,#1caab1,#2ab19d,#3bb88b,#4abb7d,#52bd77,#50bc78,#46ba81,#39b78c,#30b396,#2cb29a,#30b396,#38b78d,#45ba81,#53bd75,#5ebf6c,#64c068,#5fbf6b,#4fbc79,#38b68e,#24aea4,#1ca9b2,#1ca8b5,#1daaaf,#24afa3,#34b592,#43ba83,#54bd75,#63c068,#75c15c,#84c251,#90c349,#99c244,#9bc243,#97c245,#8fc349,#89c24e,#87c24f,#8ac34d,#90c349,#98c244,#9ec241,#a0c240,#9fc241,#9dc242,#9cc242,#9cc242,#a1c13f,#abc03a,#b1c037,#b1c037,#b1c037)"></i>
<i style="background:linear-gradient(90deg,#3671f0,#3671f0,#3671f0,#376ff0,#3a6bf0,#3c68f0,#3e66f0,#3e65f0,#3f65f0,#3f65f0,#3e65f0,#3e66f0,#3d67f0,#3d67f0,#3e66f0,#3f63ef,#4160ee,#4160ee,#3f65f0,#3670f0,#2a80ee,#1f90e5,#1a98d9,#199bd5,#199bd5,#1a99d7,#1a99d8,#189cd4,#16a1cb,#1aa6bc,#1eacaa,#31b495,#42ba83,#50bc78,#52bd76,#4abb7d,#3db988,#34b592,#30b396,#34b592,#3cb889,#4abb7d,#59be70,#66c066,#6dc161,#66c066,#52bd76,#37b68f,#1fada8,#1ba7b8,#1aa6bc,#1ba8b6,#1faca9,#31b495,#43ba83,#58be72,#6cc162,#80c254,#90c349,#9ec241,#a6c13d,#a6c13c,#a1c13f,#98c244,#91c348,#8fc349,#92c347,#9ac243,#a3c13e,#a9c13b,#abc03a,#aac13b,#a8c13c,#a7c13c,#a8c13b,#aec039,#b8bf33,#bfbe2f,#bfbe2f,#bfbe2f)"></i>
<i style="background:linear-gradient(90deg,#3572f0,#3572f0,#3572f0,#376ff0,#3a6bf0,#3c69f0,#3d67f0,#3e66f0,#3e65f0,#3e66f0,#3e66f0,#3d67f0,#3c68f0,#3c69f0,#3d67f0,#3f64ef,#4061ee,#4061ee,#3e65f0,#3571f0,#2982ed,#1e91e4,#1a99d7,#189cd3,#199bd4,#1a99d8,#1a98da,#1a99d7,#179dd1,#18a3c5,#1ca9b4,#28b09f,#3bb88a,#4cbc7b,#52bd76,#4cbc7b,#41b985,#37b68e,#34b592,#37b68e,#41ba85,#4fbc78,#5fbf6b,#6fc160,#76c15b,#6dc161,#55bd74,#36b690,#1dabac,#1aa5be,#18a4c2,#1aa6bc,#1dabae,#2eb398,#44ba82,#5cbf6e,#76c15b,#8dc34b,#a0c240,#adc039,#b2c036,#b1c037,#aac13b,#a1c13f,#99c244,#97c245,#9bc243,#a2c13f,#abc03a,#b1c037,#b2c036,#b1c036,#b0c037,#afc038,#b1c037,#b7bf34,#c2be2d,#c7bd2d,#c7bd2d,#c7bd2d)"></i>
<i style="background:linear-gradient(90deg,#3472f0,#3472f0,#3472f0,#3670f0,#396cf0,#3c69f0,#3d67f0,#3e66f0,#3e66f0,#3e66f0,#3d67f0,#3c68f0,#3b69f0,#3b6af0,#3c68f0,#3e65f0,#4062ee,#4061ee,#3e66f0,#3572f0,#2883ec,#1d92e2,#199bd5,#189dd2,#199bd4,#1a98d9,#1b96dc,#1b97db,#199ad6,#16a0cd,#1aa6bc,#20ada8,#35b591,#47bb80,#50bc78,#4cbc7b,#42ba83,#3ab78c,#37b68e,#3bb88a,#46bb80,#55bd74,#66c066,#77c15b,#7dc256,#73c15d,#56be73,#34b592,#1daab0,#18a3c3,#17a2c9,#19a4c1,#1ca9b2,#2cb29b,#45ba81,#61c06a,#81c253,#9cc242,#b1c037,#bbbf31,#bebf30,#babf32,#b2c036,#a8c13c,#a0c240,#9dc241,#a1c13f,#a8c13c,#b0c037,#b5bf34,#b7bf34,#b6bf34,#b4bf35,#b4c035,#b6bf34,#bcbf31,#c6bd2d,#cbbc2c,#cbbc2c,#cbbc2c)"></i>
<i style="background:linear-gradient(90deg,#3473f0,#3473f0,#3473f0,#3670f0,#396cf0,#3b69f0,#3d67f0,#3e66f0,#3e66f0,#3e66f0,#3d67f0,#3c69f0,#3b6af0,#3a6bf0,#3b69f0,#3e66f0,#4062ef,#4061ee,#3e66f0,#3472f0,#2884ec,#1d93e1,#189bd4,#179dd1,#199bd5,#1b97db,#1c94df,#1c94df,#1b97da,#189dd2,#18a4c3,#1daaaf,#2fb398,#40b985,#4bbc7c,#4abb7d,#43ba83,#3cb88a,#3ab78b,#3fb986,#4bbc7c,#5abf6f,#6dc161,#7ec255,#84c251,#78c15a,#57be72,#33b493,#1ca9b4,#17a2c8,#169fce,#17a2c7,#1ba8b6,#2ab19d,#46bb80,#68c065,#8cc34b,#adc039,#c1be2e,#c7bd2d,#c7bd2d,#c2be2d,#b8bf33,#aec038,#a6c13d,#a3c13f,#a6c13d,#acc039,#b3c036,#b8bf33,#b9bf32,#b8bf33,#b7bf34,#b6bf34,#b8bf33,#bfbe2f,#c8bd2d,#cdbc2c,#cdbc2c,#cdbc2c)"></i>
<i style="background:linear-gradient(90deg,#3474f0,#3474f0,#3474f0,#3671f0,#396df0,#3b6af0,#3d68f0,#3e67f0,#3e66f0,#3e66f0,#3d68f0,#3c69f0,#3a6bf0,#3a6bf0,#3b6af0,#3e67f0,#4062ef,#4061ee,#3e66f0,#3473f0,#2784eb,#1c94e0,#189cd3,#179ed1,#199ad5,#1c96dd,#1d92e2,#1e92e3,#1c95de,#199ad6,#17a2c8,#1ca8b5,#28b09f,#3ab78c,#45ba81,#46bb80,#41ba84,#3db889,#3db888,#44ba82,#50bd78,#60c06b,#74c15c,#84c251,#89c34d,#7bc257,#58be71,#31b495,#1ba8b7,#16a0cd,#179dd1,#16a1cb,#1ba7b9,#28b09f,#47bb7f,#6ec160,#98c244,#bebf30,#ccbc2c,#cfbb2c,#cdbc2c,#c7bd2d,#bebf30,#b3c036,#abc03a,#a7c13c,#a9c13b,#afc038,#b5bf35,#b9bf32,#babf32,#b8bf33,#b7bf34,#b7bf34,#b9bf32,#c0be2f,#c9bd2c,#cebc2c,#cebc2c,#cebc2c)"></i>
<i style="background:linear-gradient(90deg,#3374f0,#3374f0,#3374f0,#3571f0,#386df0,#3b6af0,#3d68f0,#3e67f0,#3e66f0,#3e66f0,#3d68f0,#3b69f0,#3a6bf0,#396cf0,#3a6bf0,#3d67f0,#3f63ef,#4061ee,#3e66f0,#3473f0,#2785eb,#1c94df,#189cd3,#179dd1,#199ad7,#1c94df,#1f90e5,#1f8fe5,#1d93e2,#1a98d9,#16a0cd,#1aa7ba,#21ada6,#33b593,#3eb987,#41ba85,#3fb986,#3db888,#3fb986,#48bb7f,#55be74,#66c066,#7bc258,#8ac34d,#8ec34a,#7ec255,#58be71,#30b397,#1aa7ba,#179ecf,#189bd4,#179fcf,#1aa6bc,#26afa1,#48bb7e,#74c15c,#a5c13d,#c9bd2c,#d5ba2b,#d7ba2b,#d2bb2c,#cabc2c,#c2be2d,#b7bf33,#afc038,#abc03a,#adc039,#b1c037,#b6bf34,#b9bf32,#b9bf32,#b8bf33,#b6bf34,#b6bf34,#b9bf33,#c0be2f,#c9bd2d,#cdbc2c,#cdbc2c,#cdbc2c)"></i>
<i style="background:linear-gradient(90deg,#3374f0,#3374f0,#3374f0,#3572f0,#386df0,#3b6af0,#3d68f0,#3e66f0,#3e66f0,#3e66f0,#3d68f0,#3b6af0,#3a6cf0,#396df0,#3a6cf0,#3d68f0,#3f63ef,#4061ee,#3e66f0,#3473f0,#2685eb,#1c95de,#189dd2,#179dd1,#1a99d8,#1d92e2,#218de7,#228ce7,#1f90e4,#1b96dc,#179ed0,#19a5bf,#1dabad,#2cb29b,#37b68f,#3bb88a,#3cb88a,#3cb889,#40b985,#4bbc7c,#5abe70,#6dc161,#81c253,#90c349,#92c347,#80c254,#58be71,#2eb398,#1aa6bc,#179dd1,#199ad6,#179dd1,#19a5bf,#24afa3,#49bb7e,#79c159,#b0c037,#d1bb2c,#ddb82b,#ddb82b,#d7b92b,#cebc2c,#c5be2d,#bbbf31,#b3c036,#b0c037,#b0c037,#b4c035,#b7bf33,#b9bf32,#b9bf33,#b7bf34,#b5bf34,#b5bf35,#b8bf33,#bfbe2f,#c8bd2d,#ccbc2c,#ccbc2c,#ccbc2c)"></i>
<i style="background:linear-gradient(90deg,#3374f0,#3374f0,#3374f0,#3572f0,#386ef0,#3b6af0,#3d68f0,#3e66f0,#3e66f0,#3e66f0,#3d67f0,#3b6af0,#396cf0,#386df0,#396df0,#3c69f0,#3f64ef,#4061ee,#3e66f0,#3473f0,#2686eb,#1c95de,#189dd2,#189dd2,#1a98da,#1e91e4,#238ae8,#2489e9,#208ee6,#1c95df,#189cd3,#18a3c4,#1ca9b3,#24afa3,#2fb397,#35b591,#37b68e,#3ab88b,#41ba84,#4ebc7a,#5ebf6c,#73c15d,#87c24f,#96c345,#96c245,#82c253,#58be71,#2db299,#1aa5bd,#189cd3,#1a99d8,#189cd3,#19a4c2,#23aea5,#49bb7e,#7dc256,#b8bf33,#d7b92b,#e3b72a,#e2b72a,#dab92b,#d0bb2c,#c7bd2d,#bfbe2f,#b8bf33,#b4bf35,#b4bf35,#b7bf34,#b9bf32,#babf32,#b9bf33,#b7bf34,#b5bf35,#b4bf35,#b7bf34,#bdbf30,#c7bd2d,#cbbc2c,#cbbc2c,#cbbc2c)"></i>
<i style="background:linear-gradient(90deg,#3374f0,#3374f0,#3374f0,#3572f0,#386ef0,#3b6af0,#3d68f0,#3e66f0,#3e65f0,#3e66f0,#3d67f0,#3b69f0,#396cf0,#386ef0,#386ef0,#3b69f0,#3f64ef,#4062ee,#3e66f0,#3474f0,#2686ea,#1c95dd,#189dd2,#189cd2,#1b97dc,#208ee6,#2587ea,#2686ea,#228be7,#1d93e1,#199ad6,#17a1c9,#1ba7b9,#1eabac,#27b0a0,#2eb299,#33b493,#38b78e,#41ba85,#50bd78,#62c069,#79c159,#8dc34b,#9bc243,#99c244,#82c252,#58be72,#2db29a,#19a5be,#189cd3,#1a98d9,#189cd4,#18a3c4,#21ada7,#48bb7f,#7ec255,#bdbf30,#dcb82b,#e7b62a,#e6b62a,#ddb82b,#d2ba2c,#cabd2c,#c3be2d,#bdbf30,#babf32,#babf32,#bbbf31,#bcbf31,#bcbf31,#babf32,#b7bf33,#b5bf35,#b4bf35,#b6bf34,#bdbf30,#c6bd2d,#cabc2c,#cabc2c,#cabc2c)"></i>
<i style="background:linear-gradient(90deg,#3473f0,#3473f0,#3473f0,#3571f0,#386ef0,#3b6af0,#3d68f0,#3e66f0,#3f65f0,#3e65f0,#3e66f0,#3c69f0,#396df0,#376ff0,#376ff0,#3a6bf0,#3e65f0,#4063ef,#3d67f0,#3374f0,#2587ea,#1b96dd,#189dd2,#189cd3,#1c95dd,#228ce7,#2784eb,#2884ec,#2489e9,#1e92e3,#1a99d8,#16a0cd,#19a5bf,#1ca9b3,#1faca9,#26afa1,#2db29a,#34b591,#3fb986,#51bd77,#66c066,#7ec255,#92c347,#a0c240,#9cc242,#83c252,#57be72,#2db29a,#19a5be,#189cd3,#1a98d9,#189bd4,#18a3c5,#1faca9,#46bb80,#7dc256,#bebe30,#ddb82b,#e8b72a,#e7b62a,#dfb82b,#d4ba2c,#ccbc2c,#c6bd2d,#c3be2d,#c0be2e,#c0be2f,#c1be2e,#c1be2e,#c0be2e,#bebf30,#babf32,#b7bf33,#b6bf34,#b8bf33,#bdbf30,#c6bd2d,#cabc2c,#cabc2c,#cabc2c)"></i>
<i style="background:linear-gradient(90deg,#3472f0,#3472f0,#3472f0,#3671f0,#386df0,#3b6af0,#3d67f0,#3e65f0,#3f64ef,#3f64ef,#3e66f0,#3c69f0,#396df0,#3770f0,#3670f0,#396cf0,#3d67f0,#3f64ef,#3d68f0,#3275f0,#2587ea,#1b96dc,#189dd2,#189cd4,#1c94df,#238ae8,#2982ed,#2981ed,#2587ea,#1f90e5,#1b97da,#179ed0,#18a3c5,#1aa7ba,#1caab1,#1faca9,#27afa1,#30b396,#3db988,#51bd77,#68c064,#83c252,#98c244,#a4c13e,#9ec241,#83c252,#58be72,#2db299,#1aa6bc,#189dd2,#1a99d8,#189bd4,#18a2c6,#1eacab,#43ba83,#7ac258,#bbbf31,#dcb82b,#e7b62a,#e7b62a,#dfb82b,#d5ba2b,#cebc2c,#c9bd2c,#c7bd2d,#c6bd2d,#c6bd2d,#c7bd2d,#c6bd2d,#c5bd2d,#c3be2d,#c0be2f,#bcbf31,#babf32,#bbbf31,#c0be2f,#c7bd2d,#cbbc2c,#cbbc2c,#cbbc2c)"></i>
<i style="background:linear-gradient(90deg,#3571f0,#3571f0,#3571f0,#3670f0,#396df0,#3b6af0,#3d67f0,#3f65f0,#3f64ef,#3f63ef,#3e65f0,#3c69f0,#396df0,#3671f0,#3571f0,#386ef0,#3c69f0,#3e66f0,#3c69f0,#3176f0,#2488e9,#1b96dc,#189dd2,#199bd4,#1d94e0,#2488e9,#2a80ee,#2b7fee,#2785eb,#208ee6,#1c96dd,#189cd4,#16a1cb,#19a4c1,#1ba7b8,#1caab1,#20ada8,#2bb19c,#3ab78c,#50bc78,#6ac163,#86c24f,#9dc242,#a7c13c,#9fc240,#83c252,#58be71,#2fb397,#1aa7ba,#179ed0,#199ad6,#189cd3,#18a2c6,#1dabad,#3fb986,#73c15d,#b3c036,#d8b92b,#e5b62a,#e6b62a,#dfb82b,#d6ba2b,#d0bb2c,#cdbc2c,#ccbc2c,#ccbc2c,#cdbc2c,#cdbc2c,#cdbc2c,#ccbc2c,#c9bd2c,#c6bd2d,#c4be2d,#c1be2e,#c1be2e,#c4be2d,#c9bd2c,#cdbc2c,#cdbc2c,#cdbc2c)"></i>
<i style="background:linear-gradient(90deg,#3770f0,#3770f0,#3770f0,#376ff0,#396cf0,#3b6af0,#3d67f0,#3f64ef,#3f63ef,#4063ef,#3f64ef,#3c68f0,#386df0,#3572f0,#3473f0,#3670f0,#3a6bf0,#3d68f0,#3a6bf0,#3078f0,#2489e8,#1b97db,#189dd1,#199bd5,#1d93e1,#2587ea,#2b7eef,#2c7def,#2883ec,#228ce7,#1c94e0,#199ad7,#179ecf,#17a2c7,#19a5bf,#1ba7b8,#1daaaf,#24afa3,#35b591,#4dbc7a,#6ac163,#89c34d,#a1c13f,#aac03a,#a0c240,#83c252,#59be70,#32b494,#1ba8b6,#16a0cc,#189cd3,#179dd1,#18a3c6,#1daaaf,#3ab78b,#69c064,#a5c13d,#d0bb2c,#dfb82b,#e1b72a,#dcb82b,#d7ba2b,#d3ba2c,#d2bb2c,#d3ba2c,#d4ba2c,#d5ba2b,#d6ba2b,#d6ba2b,#d4ba2c,#d1bb2c,#cebc2c,#cbbc2c,#c8bd2d,#c7bd2d,#c9bd2d,#cdbc2c,#d1bb2c,#d1bb2c,#d1bb2c)"></i>
<i style="background:linear-gradient(90deg,#386ef0,#386ef0,#386ef0,#386df0,#3a6cf0,#3c69f0,#3e66f0,#3f64ef,#4062ee,#4062ee,#3f63ef,#3d68f0,#386ef0,#3473f0,#3375f0,#3472f0,#386ef0,#3a6bf0,#386ef0,#2f7af0,#238be8,#1b97da,#179dd1,#199bd5,#1d93e1,#2686ea,#2c7def,#2d7cf0,#2981ed,#2389e8,#1e92e3,#1b97da,#189cd3,#16a0cd,#18a2c6,#19a5bf,#1ba8b6,#1eacab,#30b396,#49bb7e,#69c064,#8bc34c,#a5c13d,#adc039,#a0c140,#83c252,#5bbf6f,#35b591,#1daab1,#18a2c6,#179fcf,#179fcf,#18a3c5,#1caab1,#34b592,#5dbf6d,#92c348,#c4be2d,#d5ba2b,#dab92b,#d9b92b,#d7ba2b,#d6ba2b,#d7b92b,#dab92b,#ddb82b,#dfb82b,#e0b72a,#e0b72a,#dfb82b,#dcb82b,#d8b92b,#d4ba2c,#d0bb2c,#cebb2c,#cfbb2c,#d3ba2c,#d6ba2b,#d6ba2b,#d6ba2b)"></i>
<i style="background:linear-gradient(90deg,#3a6cf0,#3a6cf0,#3a6cf0,#3a6cf0,#3a6bf0,#3c68f0,#3e66f0,#3f63ef,#4061ee,#4061ee,#4062ef,#3d67f0,#386ef0,#3374f0,#3177f0,#3275f0,#3671f0,#386ef0,#3671f0,#2d7cf0,#218ce7,#1a98d9,#179dd1,#199bd5,#1d92e2,#2686ea,#2d7cf0,#2e7bf0,#2b7fee,#2587ea,#1f90e5,#1c95de,#1999d7,#189dd1,#16a0cd,#18a3c6,#1aa5bd,#1caab1,#2ab19d,#45ba81,#68c065,#8dc34b,#a8c13c,#afc038,#a1c140,#83c252,#5dbf6d,#3ab78c,#1eacaa,#19a5be,#17a1c9,#16a1cb,#18a3c4,#1ca9b4,#2eb299,#51bd77,#7fc255,#aec039,#c9bd2d,#d2bb2c,#d5ba2b,#d6ba2b,#d9b92b,#ddb82b,#e2b72a,#e6b62a,#e8b72a,#e9b72b,#eab72b,#e9b72a,#e7b62a,#e3b72a,#deb82b,#dab92b,#d7b92b,#d7b92b,#dab92b,#ddb82b,#ddb82b,#ddb82b)"></i>
<i style="background:linear-gradient(90deg,#3b69f0,#3b69f0,#3b69f0,#3b6af0,#3b6af0,#3d68f0,#3f65f0,#4062ef,#4160ee,#415fee,#4061ee,#3d67f0,#386ef0,#3375f0,#3079f0,#3078f0,#3374f0,#3671f0,#3374f0,#2b7fee,#208ee6,#1a99d8,#179ed1,#199bd5,#1d92e2,#2686eb,#2d7cf0,#2f7af0,#2c7eef,#2785eb,#218de6,#1d93e1,#1b97db,#199bd5,#179ed1,#16a0cc,#18a3c4,#1ba7b8,#23aea4,#40b986,#65c067,#8ec34a,#abc03a,#b0c037,#a1c140,#83c252,#5fbf6b,#3eb987,#25afa2,#1ba8b6,#19a4c2,#18a2c6,#19a4c2,#1ba8b6,#27b0a0,#44ba82,#6ac163,#93c347,#b5bf34,#c8bd2d,#d0bb2c,#d6ba2b,#ddb82b,#e4b72a,#e8b72a,#ebb82b,#eeb92b,#f0b92c,#f0b92c,#f0b92c,#eeb92b,#ebb82b,#e8b72a,#e5b62a,#e1b72a,#dfb82b,#e2b72a,#e4b62a,#e4b62a,#e4b62a)"></i>
<i style="background:linear-gradient(90deg,#3d67f0,#3d67f0,#3d67f0,#3c68f0,#3c69f0,#3d67f0,#3f64ef,#4061ee,#415fed,#425eed,#4160ee,#3e66f0,#386ef0,#3276f0,#2e7af0,#2e7af0,#3177f0,#3374f0,#3177f0,#2981ed,#1f8fe5,#1a99d7,#179ed1,#199bd5,#1d92e2,#2686eb,#2d7cf0,#2f79f0,#2d7cf0,#2882ec,#238ae8,#1e91e4,#1c95de,#1a98d9,#199bd4,#179ed1,#16a1cb,#19a5bf,#1eacab,#3bb88a,#63c069,#8fc34a,#adc039,#b1c036,#a1c140,#84c251,#62c069,#45ba81,#2eb299,#1dabad,#1aa7b9,#19a4c0,#19a4c0,#1ba7b8,#1fada9,#37b68e,#57be72,#7bc257,#9cc242,#b9bf32,#cabc2c,#d6ba2b,#e0b72b,#e8b72a,#edb82b,#f1ba2c,#f4bb2c,#f7bc2d,#f8bc2d,#f7bc2d,#f5bb2d,#f2ba2c,#eeb92b,#ebb82b,#e8b72a,#e7b62a,#e8b72a,#e9b72b,#e9b72b,#e9b72b)"></i>
<i style="background:linear-gradient(90deg,#3f65ef,#3f65ef,#3f65ef,#3e66f0,#3d67f0,#3e66f0,#3f63ef,#4160ee,#425eed,#425ded,#415fee,#3e65f0,#386ef0,#3176f0,#2d7cf0,#2d7cf0,#2f7af0,#3078f0,#2f7af0,#2884ec,#1e91e4,#199ad7,#179ed0,#199ad5,#1d92e2,#2686eb,#2d7cf0,#3078f0,#2e7bf0,#2a80ee,#2587ea,#208ee6,#1d93e1,#1b96dc,#1a99d8,#199bd5,#179ed0,#18a3c5,#1daab0,#37b68f,#60c06a,#8fc349,#afc038,#b3c036,#a1c140,#84c251,#66c067,#4cbc7b,#36b68f,#25afa2,#1caab1,#1aa6ba,#19a5be,#1aa6bb,#1daaaf,#2cb29b,#45ba81,#63c068,#85c250,#a7c13c,#c5be2d,#d5ba2b,#e3b72a,#ebb82b,#f1ba2c,#f7bc2d,#f8bf2c,#f9c22c,#f9c32b,#f9c32b,#f8c12c,#f8bd2d,#f5bb2d,#f1ba2c,#eeb92b,#ecb82b,#edb82b,#eeb92b,#eeb92b,#eeb92b)"></i>
<i style="background:linear-gradient(90deg,#4062ef,#4062ef,#4062ef,#3f64ef,#3e66f0,#3f65f0,#4062ef,#415fed,#425cec,#435cec,#425eed,#3f64ef,#386ef0,#3177f0,#2c7df0,#2c7eef,#2d7cf0,#2e7bf0,#2c7def,#2686ea,#1d92e2,#199ad6,#179ed0,#199ad6,#1d92e2,#2686ea,#2d7cf0,#3078f0,#2f79f0,#2b7eef,#2785eb,#228be7,#1e91e4,#1c95df,#1b97db,#1a99d8,#189cd4,#16a1cb,#1ba8b6,#33b593,#5ebf6c,#90c349,#b1c037,#b4c035,#a1c13f,#85c251,#6ac064,#53bd75,#3fb986,#2fb397,#20ada8,#1ca8b4,#1aa6bc,#1aa5bd,#1ba8b6,#20ada7,#35b690,#50bd78,#70c15f,#94c346,#bcbf31,#d4ba2c,#e6b62a,#efb92b,#f6bb2d,#f8c02c,#f9c52b,#f9c92a,#f9cb29,#f9ca29,#f9c82a,#f9c42b,#f8bf2c,#f7bc2d,#f3ba2c,#f1ba2c,#f1ba2c,#f2ba2c,#f2ba2c,#f2ba2c)"></i>
<i style="background:linear-gradient(90deg,#4160ee,#4160ee,#4160ee,#4062ef,#3f64ef,#3f63ef,#4061ee,#425eed,#435bec,#435aec,#425ded,#3f63ef,#396df0,#3176f0,#2c7def,#2b7fee,#2b7eef,#2c7def,#2a80ee,#2488e9,#1d93e0,#199bd5,#179ed0,#199ad6,#1d92e2,#2686ea,#2d7cf0,#3177f0,#3078f0,#2d7cf0,#2982ec,#2489e9,#208fe5,#1d93e1,#1c95de,#1b97db,#1a99d7,#179fcf,#1aa7ba,#30b397,#5dbf6d,#90c349,#b3c036,#b5bf35,#a1c13f,#86c250,#6ec161,#5abf6f,#4abb7d,#39b78c,#29b09e,#1daaaf,#1aa6ba,#19a5bf,#1aa6bc,#1ca9b1,#28b09f,#3fb987,#5dbf6d,#85c251,#b2c036,#d3ba2c,#e8b72a,#f2ba2c,#f8be2c,#f9c52b,#facb29,#facf28,#fad227,#fad227,#facf28,#f9cb29,#f9c62b,#f8c02c,#f8bc2d,#f5bb2d,#f5bb2d,#f6bb2d,#f6bb2d,#f6bb2d)"></i>
<i style="background:linear-gradient(90deg,#425eed,#425eed,#425eed,#4061ee,#4063ef,#4062ee,#415fee,#425cec,#445aec,#4459eb,#435cec,#4062ef,#396cf0,#3276f0,#2c7def,#2a80ee,#2a80ee,#2b7fee,#2882ec,#238be8,#1c94df,#199bd5,#179ed1,#199ad6,#1d92e2,#2686ea,#2d7cf0,#3177f0,#3177f0,#2e7bf0,#2a80ee,#2686ea,#218ce7,#1e91e3,#1d94e0,#1c95de,#1b98da,#189dd2,#1aa5bd,#2db299,#5cbf6e,#91c348,#b5bf35,#b6bf34,#a2c13f,#87c24f,#72c15e,#61c06a,#54bd75,#44ba82,#32b494,#1faca9,#1ba7b8,#19a4c2,#19a4c2,#1aa6ba,#1eabac,#32b494,#4fbc79,#77c15a,#a9c13b,#d2ba2c,#e9b72b,#f5bb2c,#f9c22b,#f9ca29,#fad128,#f9d626,#f9d925,#f9d925,#f9d626,#fad128,#facb29,#f9c52b,#f8c12c,#f8bd2d,#f8bd2d,#f8be2c,#f8be2c,#f8be2c)"></i>
<i style="background:linear-gradient(90deg,#425cec,#425cec,#425cec,#415fed,#4061ee,#4160ee,#425eed,#435bec,#4458eb,#4458eb,#435aec,#4061ee,#3b6af0,#3374f0,#2d7cf0,#2a80ee,#2a80ed,#2981ed,#2784eb,#218ce7,#1c95de,#199bd4,#179dd1,#199ad7,#1e92e3,#2686eb,#2d7bf0,#3176f0,#3276f0,#2f79f0,#2b7eef,#2785eb,#238be8,#1f90e5,#1d92e2,#1c94e0,#1b96dc,#189cd4,#19a5c0,#2cb29b,#5cbf6e,#93c347,#b7bf33,#b8bf33,#a3c13e,#88c24e,#76c15b,#69c064,#5dbf6d,#4fbc79,#39b78c,#24aea4,#1ba8b7,#18a3c3,#17a2c7,#18a4c2,#1ba8b5,#26afa1,#43ba83,#6bc162,#a1c13f,#d2bb2c,#ebb82b,#f7bc2d,#f9c62b,#facf28,#f9d626,#f9dc23,#f9df22,#f9df22,#f9dc23,#f9d625,#fad028,#f9ca2a,#f9c42b,#f8c12c,#f8c02c,#f9c12c,#f9c12c,#f9c12c)"></i>
<i style="background:linear-gradient(90deg,#435bec,#435bec,#435bec,#425ded,#415fed,#415eed,#435cec,#4459eb,#4557eb,#4557ea,#4459eb,#415fee,#3c69f0,#3472f0,#2e7af0,#2b7fee,#2a80ed,#2982ed,#2686ea,#208ee6,#1c96dd,#199bd4,#189dd2,#1a99d8,#1e91e3,#2685eb,#2e7bf0,#3276f0,#3275f0,#3078f0,#2c7def,#2883ec,#2489e8,#208ee6,#1e92e3,#1d93e1,#1c95dd,#199bd5,#19a4c1,#2cb29b,#5cbf6e,#95c346,#b9bf32,#babf32,#a4c13e,#8ac34d,#7ac258,#70c15f,#66c066,#58be72,#40b985,#28b09f,#1ba8b6,#18a3c5,#16a1cb,#17a2c8,#1aa5bd,#1eacab,#3ab78c,#62c069,#9bc243,#d1bb2c,#ecb82b,#f8be2d,#f9c92a,#fad227,#f9db24,#f8e121,#f8e420,#f8e420,#f8e121,#f9db24,#fad426,#facd29,#f9c72a,#f9c32b,#f9c32b,#f9c42b,#f9c42b,#f9c42b)"></i>
<i style="background:linear-gradient(90deg,#445aec,#445aec,#445aec,#435cec,#425ded,#425cec,#435aec,#4558eb,#4556ea,#4655ea,#4458eb,#425eed,#3e66f0,#3770f0,#3078f0,#2d7df0,#2b7fee,#2982ec,#2587ea,#208fe5,#1b96dc,#199bd5,#189cd3,#1a98d9,#1e91e4,#2784eb,#2e7af0,#3275f0,#3375f0,#3177f0,#2d7cf0,#2982ed,#2488e9,#218de6,#1e91e4,#1d93e2,#1c95dd,#199bd5,#19a4c0,#2db29a,#5ebf6c,#98c244,#bcbf31,#bcbf31,#a6c13c,#8cc34b,#7ec255,#76c15b,#6ec160,#5fbf6c,#46bb80,#2bb19c,#1ca8b5,#18a2c6,#169fce,#16a0cd,#18a3c3,#1daab0,#34b592,#5cbf6e,#96c245,#d1bb2c,#edb82b,#f8bf2c,#facb29,#f9d626,#f9de22,#f8e520,#f7e71e,#f7e71e,#f8e520,#f9df22,#f9d725,#fad028,#f9c92a,#f9c52b,#f9c42b,#f9c52b,#f9c52b,#f9c52b)"></i>
<i style="background:linear-gradient(90deg,#4459eb,#4459eb,#4459eb,#435aec,#435bec,#435aec,#4458eb,#4556ea,#4654ea,#4654ea,#4557ea,#435cec,#3f64ef,#396cf0,#3374f0,#2f7af0,#2c7eef,#2982ed,#2587ea,#1f8fe5,#1b96dc,#199bd5,#189cd4,#1b97da,#1f8fe5,#2883ec,#2f7af0,#3375f0,#3374f0,#3177f0,#2d7cf0,#2981ed,#2587ea,#218de7,#1e90e4,#1d93e2,#1c96dd,#189cd4,#19a5be,#2fb397,#61c06a,#9bc242,#bfbe2f,#bebe30,#a9c13b,#8fc349,#82c253,#7bc257,#74c15c,#64c068,#4abb7d,#2db299,#1ca8b4,#17a2c7,#179ed0,#179ecf,#17a2c7,#1ca9b4,#30b396,#59be71,#93c347,#d0bb2c,#edb82b,#f8c12c,#facd29,#f9d825,#f8e121,#f7e71e,#f7ea1d,#f7ea1d,#f7e71e,#f8e121,#f9d924,#fad128,#f9ca29,#f9c62b,#f9c52b,#f9c62a,#f9c62a,#f9c62a)"></i>
<i style="background:linear-gradient(90deg,#4459eb,#4459eb,#4459eb,#4459eb,#4459eb,#4458eb,#4556ea,#4654ea,#4753e9,#4753e9,#4655ea,#435aec,#4061ee,#3c68f0,#3670f0,#3276f0,#2e7bf0,#2a81ed,#2587ea,#1f8fe5,#1b96dc,#199ad6,#199bd5,#1b96dc,#208ee6,#2982ec,#3079f0,#3374f0,#3374f0,#3177f0,#2d7bf0,#2981ed,#2587ea,#228ce7,#1f90e5,#1d93e1,#1b96dc,#189dd2,#1aa6bb,#33b494,#65c067,#9fc240,#c2be2e,#c1be2e,#abc03a,#92c348,#85c251,#7fc254,#79c159,#68c065,#4dbc7b,#2eb398,#1ca8b5,#17a2c8,#179ed1,#179ed1,#17a1c9,#1ba8b6,#2eb299,#57be73,#91c348,#d0bb2c,#eeb92b,#f9c22c,#facf28,#f9da24,#f8e320,#f7e91d,#f6ec1c,#f6eb1c,#f7e81d,#f8e320,#f9da24,#fad227,#f9cb29,#f9c62a,#f9c62b,#f9c72a,#f9c72a,#f9c72a)"></i>
<i style="background:linear-gradient(90deg,#4459eb,#4459eb,#4459eb,#4458eb,#4557eb,#4556ea,#4654e9,#4753e9,#4752e9,#4752e9,#4654e9,#4458eb,#425eed,#3f64ef,#3a6bf0,#3572f0,#3078f0,#2b7fee,#2587ea,#1f8fe5,#1b96dd,#199ad7,#199ad6,#1c95dd,#218ce7,#2a81ed,#3078f0,#3473f0,#3473f0,#3177f0,#2d7bf0,#2981ed,#2686ea,#228ce7,#1f90e5,#1d93e1,#1b97da,#179ed0,#1ba8b7,#36b68f,#6ac163,#a4c13e,#c4be2d,#c3be2d,#aec038,#95c346,#87c24f,#82c253,#7bc258,#6ac064,#4dbc7a,#2eb398,#1ba8b5,#17a1c9,#179dd1,#179dd1,#17a1c9,#1ba8b7,#2db299,#56be73,#90c349,#d0bb2c,#eeb92b,#f9c22c,#fad028,#f9db24,#f8e520,#f7ea1d,#f6ed1b,#f6ec1b,#f7e91d,#f8e420,#f9db24,#fad227,#f9cb29,#f9c62a,#f9c62b,#f9c72a,#f9c72a,#f9c72a)"></i>
<i style="background:linear-gradient(90deg,#4459eb,#4459eb,#4459eb,#4458eb,#4556ea,#4654e9,#4752e9,#4851e8,#4850e8,#4851e8,#4753e9,#4556ea,#435aec,#4160ee,#3e66f0,#386df0,#3275f0,#2c7def,#2686ea,#1f8fe5,#1c95dd,#1a99d8,#1a99d8,#1c94df,#238be8,#2b7fee,#3177f0,#3473f0,#3473f0,#3177f0,#2d7cf0,#2981ed,#2686ea,#228ce7,#1e90e4,#1c94df,#1a99d8,#16a0cd,#1ca9b3,#3bb88a,#6fc160,#a8c13c,#c5bd2d,#c4be2d,#b1c037,#98c244,#89c34d,#83c252,#7bc257,#69c064,#4dbc7b,#2db299,#1ba8b6,#17a1ca,#179dd1,#179dd1,#17a2c9,#1ba8b6,#2eb398,#56be73,#90c349,#cfbb2c,#eeb92b,#f9c22c,#fad028,#f9dc23,#f8e51f,#f6ea1c,#f6ed1b,#f6ed1b,#f7e91d,#f8e420,#f9db24,#fad227,#f9ca29,#f9c62b,#f9c52b,#f9c72a,#f9c72a,#f9c72a)"></i>
<i style="background:linear-gradient(90deg,#4459eb,#4459eb,#4459eb,#4557eb,#4654ea,#4752e9,#4850e8,#484fe8,#484fe7,#4850e8,#4751e9,#4654e9,#4557eb,#435cec,#4061ee,#3c69f0,#3571f0,#2e7bf0,#2785eb,#208ee6,#1c95de,#1a98d9,#1a98da,#1d93e1,#2489e9,#2c7eef,#3275f0,#3572f0,#3473f0,#3177f0,#2d7cf0,#2981ed,#2686ea,#228ce7,#1e91e4,#1c95de,#199ad6,#17a2c8,#1dabae,#40b986,#74c15c,#acc03a,#c7bd2d,#c6bd2d,#b3c036,#9ac243,#8bc34c,#84c251,#7ac258,#67c065,#4abb7d,#2cb29b,#1ba8b7,#17a1ca,#179dd1,#179ed0,#17a2c7,#1ca9b4,#30b396,#58be72,#90c349,#cebb2c,#edb82b,#f9c22c,#fad028,#f9db23,#f8e51f,#f6ea1c,#f6ed1b,#f6ed1b,#f7e91d,#f8e320,#f9da24,#fad128,#f9ca2a,#f9c52b,#f9c42b,#f9c62b,#f9c62b,#f9c62b)"></i>
<i style="background:linear-gradient(90deg,#4459eb,#4459eb,#4459eb,#4557ea,#4753e9,#4850e8,#484fe7,#484ee6,#484ee6,#484fe7,#4850e8,#4752e9,#4654e9,#4557eb,#425ded,#3f64ef,#386ef0,#3079f0,#2883ec,#218de6,#1c94df,#1b97db,#1b96dc,#1e91e3,#2587ea,#2d7cf0,#3374f0,#3571f0,#3473f0,#3177f0,#2d7cf0,#2982ed,#2587ea,#228ce7,#1e91e4,#1b96dd,#189cd4,#18a3c4,#1faca9,#45ba81,#7ac258,#afc038,#c8bd2d,#c7bd2d,#b5bf35,#9cc242,#8bc34c,#82c252,#78c15a,#63c068,#47bb7f,#29b19e,#1ba7b8,#17a1cb,#179ed1,#179fcf,#18a3c4,#1caab1,#33b494,#59be70,#90c349,#cdbc2c,#ecb82b,#f8c12c,#facf28,#f9db24,#f8e420,#f7ea1d,#f6ec1b,#f6ec1b,#f7e81e,#f8e221,#f9d924,#fad028,#f9c92a,#f9c42b,#f9c42b,#f9c52b,#f9c52b,#f9c52b)"></i>
<i style="background:linear-gradient(90deg,#445aec,#445aec,#445aec,#4557ea,#4752e9,#484fe7,#484de6,#484de5,#484de6,#484ee6,#484fe7,#4850e8,#4851e8,#4753e9,#4458eb,#4160ee,#3a6bf0,#3177f0,#2982ec,#218ce7,#1d93e1,#1b96dd,#1c95de,#1f90e5,#2685eb,#2e7bf0,#3473f0,#3671f0,#3473f0,#3177f0,#2c7df0,#2982ed,#2587ea,#228ce7,#1e92e3,#1b97db,#189dd2,#19a5c0,#24aea4,#4abb7d,#7ec255,#b2c036,#c9bd2d,#c7bd2d,#b6bf34,#9dc242,#8bc34c,#80c254,#73c15d,#5ebf6c,#42ba83,#26afa1,#1aa7ba,#16a1cb,#179ed0,#16a0cd,#19a4c1,#1dabae,#36b690,#5cbf6e,#91c348,#ccbc2c,#ebb82b,#f8bf2c,#facd29,#f9d924,#f8e320,#f7e81e,#f6eb1c,#f6ea1c,#f7e71e,#f8e021,#f9d825,#facf28,#f9c82a,#f9c32b,#f9c32b,#f9c52b,#f9c52b,#f9c52b)"></i>
<i style="background:linear-gradient(90deg,#435aec,#435aec,#435aec,#4557ea,#4751e8,#484ee6,#484de5,#484ce5,#484de5,#484de6,#484ee6,#484ee6,#484ee6,#4850e8,#4654e9,#425cec,#3d68f0,#3374f0,#2a81ed,#228be7,#1d92e2,#1c95de,#1d94e0,#208ee6,#2883ec,#2f79f0,#3572f0,#3670f0,#3473f0,#3078f0,#2c7def,#2982ed,#2587ea,#218ce7,#1d92e2,#1b97da,#179ed0,#1aa6bc,#28b09f,#4fbc79,#81c253,#b4c035,#c9bd2c,#c7bd2d,#b6bf34,#9dc242,#8ac34d,#7dc256,#6ec161,#59be71,#3db988,#23aea5,#1aa6bc,#16a1cb,#179fcf,#16a1cb,#1aa5bd,#1eacaa,#39b78c,#5fbf6c,#91c348,#cbbc2c,#eab72b,#f8be2d,#facc29,#f9d725,#f8e121,#f7e61f,#f7e91d,#f7e81e,#f8e51f,#f9de22,#f9d625,#face28,#f9c72a,#f9c32b,#f9c32b,#f9c42b,#f9c42b,#f9c42b)"></i>
<i style="background:linear-gradient(90deg,#435bec,#435bec,#435bec,#4557ea,#4851e8,#484ee6,#484ce4,#484ce4,#484ce4,#484ce5,#484de5,#484ce4,#484be4,#484ce5,#4850e8,#4459eb,#3e65f0,#3473f0,#2a80ee,#238ae8,#1e91e4,#1d93e0,#1d92e2,#228ce7,#2982ed,#3078f0,#3571f0,#3770f0,#3472f0,#3078f0,#2c7def,#2982ec,#2587ea,#218de7,#1d92e2,#1a98d9,#169fce,#1aa7b9,#2bb19c,#52bd77,#84c251,#b5bf35,#c9bd2c,#c7bd2d,#b6bf34,#9bc242,#87c24f,#78c15a,#67c066,#53bd76,#38b78d,#1faca9,#19a5be,#16a0cc,#169fce,#17a2c8,#1aa7ba,#23aea5,#3db988,#61c06a,#91c348,#c9bd2d,#e8b72a,#f8bc2d,#f9c92a,#fad526,#f9de23,#f8e420,#f7e61f,#f8e61f,#f8e221,#f9dc23,#fad526,#facd29,#f9c72a,#f9c32b,#f9c22b,#f9c42b,#f9c42b,#f9c42b)"></i>
<i style="background:linear-gradient(90deg,#435bec,#435bec,#435bec,#4557eb,#4751e8,#484ee6,#484ce4,#484be4,#484be4,#484ce4,#484be4,#474ae3,#4749e2,#474ae2,#484ee6,#4556ea,#3f63ef,#3571f0,#2b7eef,#2489e9,#1f90e5,#1d92e2,#1e90e4,#238ae8,#2a80ee,#3177f0,#3670f0,#376ff0,#3572f0,#3177f0,#2c7def,#2982ec,#2587ea,#218de6,#1d93e1,#1a99d8,#16a0cd,#1ba7b8,#2db29a,#53bd75,#84c251,#b4bf35,#c8bd2d,#c6bd2d,#b4bf35,#99c244,#83c252,#72c15e,#5fbf6b,#4bbc7c,#33b593,#1dabad,#19a4c0,#16a0cc,#16a0ce,#18a3c5,#1ba8b6,#28b0a0,#42ba84,#64c068,#91c348,#c6bd2d,#e6b62a,#f5bb2d,#f9c62a,#fad127,#f9da24,#f8e022,#f8e221,#f8e221,#f9df22,#f9da24,#fad327,#facd29,#f9c72a,#f9c42b,#f9c32b,#f9c42b,#f9c42b,#f9c42b)"></i>
<i style="background:linear-gradient(90deg,#435bec,#435bec,#435bec,#4558eb,#4752e9,#484ee7,#484ce5,#484ce4,#484be4,#484be3,#474ae3,#4749e2,#4748e0,#4748e1,#484ce4,#4655ea,#4062ee,#3670f0,#2c7eef,#2588e9,#208ee6,#1e90e4,#208ee6,#2588e9,#2b7fef,#3276f0,#3670f0,#376ff0,#3572f0,#3177f0,#2c7df0,#2982ed,#2587ea,#218de6,#1d93e1,#1a99d8,#16a0cd,#1ba7b7,#2db29a,#53bd75,#84c251,#b3c036,#c7bd2d,#c5be2d,#b1c037,#95c346,#7ec255,#6bc163,#58be71,#43ba82,#2db299,#1caab1,#18a4c3,#16a0cd,#16a0cd,#18a4c3,#1ca9b2,#2cb29b,#46bb80,#67c066,#90c349,#c3be2d,#e1b72a,#f2ba2c,#f9c32b,#face29,#f9d526,#f9db24,#f9dd23,#f9dd23,#f9db24,#f9d725,#fad227,#facd29,#f9c82a,#f9c52b,#f9c42b,#f9c42b,#f9c42b,#f9c42b)"></i>
<i style="background:linear-gradient(90deg,#435cec,#435cec,#435cec,#4458eb,#4753e9,#4850e8,#484de6,#484ce4,#484be4,#474ae3,#4749e2,#4748e0,#4746df,#4747e0,#484be4,#4654ea,#4061ee,#3770f0,#2c7df0,#2587ea,#218ce7,#208ee5,#228ce7,#2686ea,#2c7def,#3275f0,#376ff0,#376ff0,#3571f0,#3176f0,#2d7cf0,#2982ed,#2587ea,#218de6,#1d93e1,#1a99d8,#16a0cd,#1ba7b8,#2cb29b,#51bd77,#81c253,#b0c038,#c5bd2d,#c3be2d,#adc039,#90c349,#78c159,#62c069,#50bd78,#3cb88a,#27b0a0,#1ba8b5,#18a3c5,#16a0ce,#16a1cc,#19a4c0,#1daaae,#30b396,#4abb7d,#69c064,#8fc34a,#bdbf30,#dcb82b,#efb92b,#f8bf2c,#f9c92a,#fad128,#f9d526,#f9d825,#f9d825,#f9d725,#fad426,#fad128,#facd29,#f9c92a,#f9c72a,#f9c52b,#f9c52b,#f9c52b,#f9c52b)"></i>
<i style="background:linear-gradient(90deg,#435cec,#435cec,#435cec,#4459eb,#4654ea,#4751e8,#484fe7,#484de5,#484be4,#474ae2,#4748e1,#4747df,#4745de,#4746df,#484be3,#4654ea,#4061ee,#376ff0,#2d7cf0,#2685eb,#228be8,#218ce7,#238ae8,#2784eb,#2d7cf0,#3374f0,#376ff0,#386ef0,#3671f0,#3276f0,#2d7bf0,#2981ed,#2587ea,#218de6,#1d93e1,#1a99d8,#16a0cd,#1aa7b9,#2ab19d,#4ebc79,#7ec256,#acc03a,#c3be2d,#bfbe2f,#a9c13b,#8bc34c,#71c15e,#5bbf6f,#48bb7f,#35b591,#21ada7,#1aa7ba,#17a2c8,#169fce,#17a1cb,#1aa5bd,#1eacab,#34b592,#4dbc7a,#6ac163,#8dc34b,#b7bf33,#d7ba2b,#ebb82b,#f7bc2d,#f9c52b,#facb29,#facf28,#fad227,#fad227,#fad227,#fad127,#fad028,#face29,#facb29,#f9c92a,#f9c62a,#f9c62b,#f9c62b,#f9c62b)"></i>
<i style="background:linear-gradient(90deg,#435cec,#435cec,#435cec,#445aec,#4556ea,#4753e9,#4850e8,#484ee6,#484be4,#4749e2,#4748e0,#4746df,#4745de,#4746df,#484be4,#4655ea,#4062ee,#376ff0,#2d7cf0,#2784eb,#2489e9,#238ae8,#2588e9,#2982ec,#2e7bf0,#3374f0,#376ff0,#386ef0,#3670f0,#3375f0,#2e7af0,#2a80ee,#2587ea,#218de6,#1d93e1,#1a99d8,#179fce,#1aa6bc,#26afa1,#4abb7d,#79c159,#a7c13c,#bfbe2f,#bbbf32,#a3c13e,#85c250,#6ac064,#54bd75,#3fb986,#2eb299,#1dabae,#19a5be,#17a1cb,#179fcf,#17a1ca,#1aa6bb,#20ada7,#37b68e,#51bd78,#6bc162,#8ac34d,#b0c037,#d1bb2c,#e8b72a,#f3ba2c,#f8c02c,#f9c52b,#f9c92a,#facb29,#facc29,#face29,#face28,#facf28,#face28,#facd29,#facb29,#f9c82a,#f9c72a,#f9c72a,#f9c72a)"></i>
<i style="background:linear-gradient(90deg,#435cec,#435cec,#435cec,#435bec,#4458eb,#4655ea,#4752e9,#484fe7,#484ce4,#4749e2,#4747e0,#4745de,#4745de,#4747e0,#484ce5,#4556ea,#4063ef,#3670f0,#2d7bf0,#2883ec,#2587e9,#2488e9,#2686ea,#2a81ed,#2f7af0,#3474f0,#376ff0,#386ef0,#3670f0,#3374f0,#2f79f0,#2a80ee,#2686ea,#218de6,#1d93e1,#1a98d9,#179ed0,#19a5bf,#22aea6,#45ba81,#73c15d,#a1c13f,#babf32,#b6bf34,#9dc241,#7fc255,#62c069,#4cbc7b,#38b78d,#26afa1,#1ca9b3,#18a4c3,#16a0cd,#179fcf,#17a1c9,#1ba7b9,#24aea4,#3bb88b,#53bd75,#6cc162,#88c24e,#a9c13b,#cbbc2c,#e2b72a,#eeb92b,#f6bb2d,#f8bf2c,#f9c22b,#f9c42b,#f9c62a,#f9c92a,#facb29,#face29,#facf28,#facf28,#face28,#f9ca29,#f9c82a,#f9c82a,#f9c82a)"></i>
<i style="background:linear-gradient(90deg,#435cec,#435cec,#435cec,#435cec,#435aec,#4558eb,#4654e9,#4850e8,#484ce5,#4749e1,#4746df,#4745de,#4745de,#4748e1,#484ee6,#4458eb,#3f64ef,#3670f0,#2e7bf0,#2882ec,#2686ea,#2686ea,#2884ec,#2b7fee,#2f79f0,#3473f0,#376ff0,#386ef0,#376ff0,#3473f0,#3078f0,#2b7fee,#2686ea,#218de6,#1d93e1,#1a98da,#189dd2,#18a3c3,#1eacab,#3fb986,#6dc161,#9bc243,#b5bf35,#b0c037,#97c245,#78c159,#5bbf6f,#44ba82,#31b495,#1faca9,#1ba7b9,#17a2c7,#179fcf,#179ed0,#17a2c8,#1ba8b7,#27afa1,#3eb987,#56be73,#6dc162,#85c250,#a2c13f,#c4be2d,#dab92b,#eab72b,#f1ba2c,#f5bb2d,#f8bc2d,#f8bd2d,#f8c02c,#f9c42b,#f9c82a,#facd29,#fad028,#fad227,#fad128,#facd29,#f9ca2a,#f9ca2a,#f9ca2a)"></i>
<i style="background:linear-gradient(90deg,#435cec,#435cec,#435cec,#425ced,#425cec,#435aec,#4556ea,#4752e9,#484de5,#4749e1,#4746df,#4744de,#4746df,#4749e2,#4850e8,#445aec,#3e66f0,#3571f0,#2e7bf0,#2981ed,#2784eb,#2784eb,#2982ed,#2c7eef,#3078f0,#3473f0,#3770f0,#386ef0,#376ff0,#3572f0,#3177f0,#2c7eef,#2685eb,#218de6,#1d93e1,#1b97db,#189cd4,#17a2c7,#1daab0,#3ab78b,#66c066,#95c346,#afc038,#abc03a,#90c348,#71c15e,#55bd74,#3db889,#2ab19d,#1daaaf,#19a5bf,#16a1cb,#179dd1,#179ed0,#17a2c7,#1ba8b5,#29b19e,#41ba85,#58be71,#6dc162,#82c253,#9ac243,#bbbf31,#d2bb2c,#e4b62a,#ebb82b,#efb92b,#f1ba2c,#f2ba2c,#f6bb2d,#f8bf2c,#f9c62b,#facc29,#fad127,#fad426,#fad426,#facf28,#facb29,#facb29,#facb29)"></i>
<i style="background:linear-gradient(90deg,#435bec,#435bec,#435bec,#425ded,#415eed,#425ced,#4458eb,#4753e9,#484ee6,#4749e1,#4745de,#4744de,#4746df,#484be3,#4752e9,#425cec,#3d67f0,#3572f0,#2e7bf0,#2a81ed,#2883ec,#2982ec,#2a80ee,#2d7cf0,#3078f0,#3473f0,#3670f0,#386ef0,#386ef0,#3670f0,#3275f0,#2c7df0,#2785eb,#218de6,#1d93e1,#1b96dc,#199ad6,#16a0cc,#1ca8b5,#35b591,#60c06b,#8ec34a,#aac03a,#a5c13d,#8bc34c,#6bc163,#4ebc7a,#36b68f,#23aea4,#1ba8b5,#18a3c4,#179fcf,#189cd3,#179dd1,#17a2c7,#1ca9b4,#2cb29b,#44ba82,#5abe70,#6cc162,#7fc255,#93c347,#b1c037,#cbbc2c,#dbb92b,#e6b62a,#e9b72a,#eab72b,#ebb82b,#efb92c,#f6bb2d,#f9c32b,#facb29,#fad227,#f9d725,#f9d725,#fad127,#facd29,#facd29,#facd29)"></i>
<i style="background:linear-gradient(90deg,#435bec,#435bec,#435bec,#425eed,#4061ee,#415fed,#435bec,#4655ea,#484fe7,#4749e2,#4745de,#4745de,#4747e0,#484de5,#4655ea,#415fed,#3b69f0,#3473f0,#2e7bf0,#2a80ee,#2981ed,#2a81ed,#2b7eef,#2e7bf0,#3177f0,#3473f0,#3670f0,#386ef0,#386ef0,#376ff0,#3374f0,#2d7cf0,#2784eb,#218de6,#1d92e2,#1c96dd,#1a99d8,#179fcf,#1aa7ba,#2fb397,#5abe70,#89c24e,#a5c13d,#a0c140,#86c250,#64c068,#48bb7f,#30b396,#1eacab,#1aa6bb,#17a1c9,#179dd1,#189bd4,#189dd2,#17a2c7,#1ca9b3,#2eb299,#46bb80,#5bbf6f,#6cc162,#7cc257,#8dc34b,#a7c13c,#c3be2d,#d2ba2c,#dcb82b,#dfb82b,#e0b72a,#e3b72a,#e9b72b,#f2ba2c,#f8c02c,#f9ca29,#fad327,#f9d924,#f9da24,#fad427,#face28,#face28,#face28)"></i>
<i style="background:linear-gradient(90deg,#435bec,#435bec,#435bec,#415fed,#4063ef,#4061ee,#425ded,#4556ea,#484fe7,#4749e2,#4745de,#4745de,#4749e1,#484fe7,#4558eb,#4061ee,#3a6bf0,#3374f0,#2d7bf0,#2b7fee,#2a80ee,#2b7fee,#2d7df0,#2f7af0,#3177f0,#3474f0,#3671f0,#386ef0,#396df0,#386ef0,#3473f0,#2e7bf0,#2784eb,#218de7,#1d92e2,#1c95de,#1b97da,#189cd2,#19a5bf,#2ab19d,#54bd74,#84c251,#a0c240,#9bc243,#81c253,#5fbf6c,#41ba84,#2bb19c,#1caab1,#19a4c1,#16a0ce,#189cd4,#199ad6,#189dd2,#18a2c6,#1ca9b2,#2fb397,#48bb7f,#5cbf6e,#6bc163,#79c159,#88c24e,#9ec241,#b8bf33,#cabc2c,#d2bb2c,#d4ba2c,#d4ba2c,#d7ba2b,#e1b72a,#edb82b,#f8bd2d,#f9ca2a,#fad426,#f9db23,#f9dc23,#f9d626,#facf28,#facf28,#facf28)"></i>
<i style="background:linear-gradient(90deg,#435bec,#435bec,#435bec,#4160ee,#3f64ef,#3f63ef,#415fed,#4458eb,#4850e8,#474ae2,#4746df,#4746df,#474ae3,#4751e8,#435aec,#3f64ef,#386df0,#3276f0,#2d7cf0,#2b7eef,#2b7fee,#2c7def,#2e7bf0,#2f79f0,#3176f0,#3374f0,#3671f0,#386ef0,#396cf0,#386df0,#3572f0,#2f7af0,#2884ec,#218de7,#1d92e2,#1c94df,#1b96dc,#199ad6,#18a3c5,#24afa3,#4fbc79,#7fc255,#9bc243,#96c245,#7cc256,#5abe70,#3cb889,#26afa2,#1ba8b6,#18a3c5,#179ed0,#199ad6,#199ad7,#189cd3,#18a2c6,#1caab1,#30b396,#49bb7e,#5cbf6e,#6ac163,#76c15b,#83c252,#96c345,#aec038,#c2be2d,#c9bd2c,#cabc2c,#c9bd2d,#cbbc2c,#d6ba2b,#e9b72a,#f7bc2d,#f9c92a,#f9d526,#f9dd23,#f9df22,#f9d725,#fad128,#fad128,#fad128)"></i>
<i style="background:linear-gradient(90deg,#435bec,#435bec,#435bec,#4160ee,#3e66f0,#3e65f0,#4160ee,#4459eb,#4751e8,#474ae3,#4746df,#4747e0,#484ce4,#4654e9,#425ded,#3e67f0,#376ff0,#3177f0,#2d7cf0,#2c7eef,#2c7eef,#2d7cf0,#2f7af0,#3078f0,#3276f0,#3374f0,#3571f0,#386ef0,#396cf0,#396cf0,#3671f0,#2f79f0,#2883ec,#218ce7,#1e92e3,#1d93e1,#1c95df,#1a98d9,#17a1ca,#1faca9,#4abb7d,#7bc258,#97c245,#92c347,#78c159,#56be73,#38b78d,#21ada7,#1aa7ba,#17a1ca,#189cd3,#1a99d7,#1a99d8,#189cd3,#18a2c6,#1daab0,#31b495,#4abb7d,#5cbf6e,#69c064,#73c15d,#7fc255,#8fc349,#a5c13d,#b7bf33,#c0be2e,#bfbe2f,#bcbf31,#c0be2f,#cdbc2c,#e4b62a,#f5bb2c,#f9c82a,#f9d626,#f9df22,#f8e121,#f9d925,#fad127,#fad127,#fad127)"></i>
<i style="background:linear-gradient(90deg,#435bec,#435bec,#435bec,#4061ee,#3d67f0,#3d67f0,#4062ef,#435bec,#4752e9,#484be4,#4747e0,#4748e1,#484de6,#4556ea,#4160ee,#3c69f0,#3571f0,#3078f0,#2d7cf0,#2c7def,#2c7df0,#2e7bf0,#2f79f0,#3177f0,#3276f0,#3374f0,#3572f0,#386ef0,#3a6cf0,#3a6cf0,#3670f0,#3079f0,#2883ec,#218ce7,#1e92e3,#1d93e2,#1d93e1,#1b97db,#169fce,#1dabad,#46ba81,#77c15b,#93c347,#8fc349,#75c15c,#53bd76,#35b591,#1eacab,#1aa5bd,#16a0cd,#199bd5,#1a98d9,#1a98d9,#189cd3,#18a2c6,#1daab0,#31b495,#4abb7d,#5cbf6e,#67c065,#71c15f,#7bc257,#8ac34d,#9dc241,#aec039,#b5bf35,#b2c036,#adc039,#b1c037,#c5be2d,#deb82b,#f3ba2c,#f9c72a,#f9d626,#f8e022,#f8e221,#f9da24,#fad227,#fad227,#fad227)"></i>
<i style="background:linear-gradient(90deg,#435aec,#435aec,#435aec,#4061ee,#3d68f0,#3d68f0,#3f63ef,#435cec,#4653e9,#484ce5,#4748e1,#4749e2,#484fe7,#4458eb,#4062ef,#3a6bf0,#3473f0,#3079f0,#2d7cf0,#2c7def,#2d7cf0,#2e7af0,#3078f0,#3177f0,#3276f0,#3374f0,#3572f0,#386ef0,#3a6bf0,#3a6bf0,#376ff0,#3078f0,#2883ec,#218ce7,#1e91e3,#1e92e3,#1d92e2,#1c95de,#179ed0,#1caab1,#42ba84,#73c15d,#91c348,#8dc34b,#72c15e,#50bc78,#32b494,#1dabad,#19a4c0,#179fcf,#199ad6,#1b97da,#1a98d9,#189cd4,#18a2c6,#1daab0,#31b495,#49bb7e,#5bbf6f,#66c066,#6ec160,#78c159,#86c24f,#97c245,#a6c13d,#acc03a,#a7c13c,#a2c13f,#a5c13d,#bcbf31,#d9b92b,#f1ba2c,#f9c72a,#f9d626,#f8e121,#f8e320,#f9da24,#fad227,#fad227,#fad227)"></i>
<i style="background:linear-gradient(90deg,#435aec,#435aec,#435aec,#4061ee,#3c68f0,#3c68f0,#3f64ef,#425ded,#4654ea,#484ee6,#474ae2,#484be4,#4751e8,#435aec,#3f64ef,#396df0,#3374f0,#2f79f0,#2d7cf0,#2c7df0,#2d7cf0,#2f7af0,#3078f0,#3177f0,#3276f0,#3375f0,#3572f0,#386ef0,#3a6bf0,#3b6af0,#376ff0,#3078f0,#2883ec,#218ce7,#1e91e4,#1e91e3,#1e91e4,#1d94e0,#189cd3,#1ca9b4,#3fb986,#71c15e,#8fc349,#8cc34c,#70c15f,#4ebc7a,#31b496,#1daaaf,#18a4c2,#179ed0,#1a99d7,#1b97db,#1a98da,#189cd4,#17a2c6,#1caab1,#30b396,#48bb7f,#59be70,#64c068,#6dc161,#76c15b,#84c251,#93c347,#a0c140,#a5c13d,#9fc240,#99c243,#9dc242,#b4bf35,#d5ba2b,#efb92c,#f9c62b,#f9d626,#f8e121,#f8e320,#f9da24,#fad227,#fad227,#fad227)"></i>
<i style="background:linear-gradient(90deg,#435aec,#435aec,#435aec,#4061ee,#3d68f0,#3c68f0,#3f64ef,#425ded,#4556ea,#484fe7,#484ce4,#484de5,#4753e9,#435cec,#3e66f0,#386ef0,#3275f0,#2f7af0,#2d7cf0,#2d7df0,#2d7bf0,#2f79f0,#3078f0,#3177f0,#3276f0,#3375f0,#3572f0,#386ef0,#3a6bf0,#3b6af0,#386ef0,#3078f0,#2883ec,#218ce7,#1e91e4,#1e91e4,#1f90e5,#1d93e2,#199bd4,#1ba8b6,#3db988,#70c15f,#8fc349,#8bc34c,#70c15f,#4dbc7a,#30b397,#1daab0,#18a3c3,#179ed1,#1a99d8,#1b97db,#1a98da,#189bd4,#17a2c7,#1ca9b1,#2fb398,#46ba81,#57be72,#62c069,#6cc162,#76c15b,#83c252,#90c348,#9dc241,#a1c140,#9bc243,#95c346,#98c244,#b0c037,#d3ba2c,#eeb92b,#f9c52b,#fad526,#f8e022,#f8e221,#f9da24,#fad127,#fad127,#fad127)"></i>
<i style="background:linear-gradient(90deg,#435aec,#435aec,#435aec,#4061ee,#3d67f0,#3d68f0,#3f64ef,#425eed,#4557ea,#4851e8,#484ee6,#484fe7,#4655ea,#425eed,#3d67f0,#376ff0,#3275f0,#2f7af0,#2d7cf0,#2d7df0,#2d7bf0,#2f79f0,#3078f0,#3177f0,#3276f0,#3375f0,#3572f0,#386ef0,#3a6bf0,#3b6af0,#386ef0,#3078f0,#2883ec,#218ce7,#1e91e4,#1e90e4,#1f8fe5,#1e92e3,#199ad5,#1ba8b7,#3cb889,#6fc160,#8fc349,#8cc34b,#70c15f,#4dbc7a,#30b397,#1daab0,#18a3c3,#179ed1,#1a99d7,#1b97db,#1a98da,#189cd4,#17a2c7,#1ca9b3,#2db29a,#43ba83,#55be74,#61c06a,#6bc163,#76c15b,#83c252,#91c348,#9cc242,#a0c240,#9ac243,#94c346,#98c244,#afc038,#d2bb2c,#edb82b,#f9c42b,#fad427,#f9de22,#f8e121,#f9d825,#fad028,#fad028,#fad028)"></i>
<i style="background:linear-gradient(90deg,#435aec,#435aec,#435aec,#4160ee,#3e66f0,#3e66f0,#3f63ef,#425eed,#4558eb,#4753e9,#4850e8,#4752e9,#4557eb,#415fed,#3d68f0,#376ff0,#3275f0,#2f7af0,#2d7cf0,#2c7df0,#2d7cf0,#2f7af0,#3078f0,#3177f0,#3276f0,#3375f0,#3572f0,#386ef0,#3a6bf0,#3b6af0,#376ff0,#3078f0,#2883ec,#218de7,#1e91e4,#1e90e4,#1f8fe5,#1e92e3,#199ad6,#1ba7b7,#3cb889,#70c15f,#91c348,#8ec34a,#72c15e,#4fbc79,#31b495,#1daaaf,#19a4c2,#179ed0,#199ad7,#1a98da,#1a98d9,#189cd4,#17a2c8,#1ca9b4,#2ab19d,#3fb986,#52bd76,#5fbf6b,#6bc163,#77c15a,#85c250,#93c347,#9fc241,#a2c13f,#9dc242,#97c244,#9bc242,#b2c036,#d3ba2c,#edb82b,#f9c32b,#fad227,#f9dc23,#f9de22,#f9d626,#face28,#face28,#face28)"></i>
<i style="background:linear-gradient(90deg,#435aec,#435aec,#435aec,#415fed,#3f63ef,#3f64ef,#4061ee,#425ded,#4459eb,#4655ea,#4753e9,#4655ea,#4459eb,#4160ee,#3d68f0,#376ff0,#3375f0,#2f79f0,#2d7cf0,#2c7def,#2d7cf0,#2e7bf0,#2f79f0,#3078f0,#3176f0,#3375f0,#3572f0,#386ef0,#3a6bf0,#3a6bf0,#376ff0,#2f79f0,#2884ec,#218de6,#1e91e4,#1e90e4,#1f8fe5,#1e92e3,#199bd5,#1ba8b6,#3eb987,#73c15d,#94c346,#91c348,#75c15b,#52bd77,#33b593,#1dabac,#19a5bf,#169fce,#199bd5,#1a99d8,#1a99d8,#189cd3,#17a1c9,#1ba8b6,#27b0a0,#3cb88a,#4fbc79,#5ebf6c,#6cc162,#7ac258,#89c34d,#98c244,#a4c13e,#a8c13c,#a4c13e,#a0c240,#a4c13e,#b9bf32,#d5ba2b,#edb82b,#f9c12c,#facf28,#f9d925,#f9db24,#fad327,#facc29,#facc29,#facc29)"></i>
<i style="background:linear-gradient(90deg,#435bec,#435bec,#435bec,#425ded,#4160ee,#4061ee,#415fed,#425cec,#4459eb,#4557eb,#4556ea,#4458eb,#435bec,#4061ee,#3d67f0,#386df0,#3473f0,#3078f0,#2d7cf0,#2c7def,#2c7def,#2d7cf0,#2e7af0,#3078f0,#3176f0,#3374f0,#3571f0,#386ef0,#3a6cf0,#396cf0,#3671f0,#2f7af0,#2784eb,#218de6,#1e91e4,#1e91e4,#1f90e5,#1d93e2,#189cd4,#1ca9b4,#41ba85,#77c15a,#99c244,#96c245,#7ac258,#56be73,#37b68e,#20ada8,#1aa6bb,#17a1ca,#189dd2,#199ad6,#199ad7,#189cd3,#17a1c9,#1ba7b8,#23aea4,#38b68e,#4bbc7c,#5cbf6e,#6ec161,#7fc255,#8fc349,#a1c140,#adc039,#b2c036,#b0c037,#aec039,#b2c036,#c5be2d,#dab92b,#eeb92b,#f8c02c,#facc29,#fad426,#f9d626,#facf28,#f9c82a,#f9c82a,#f9c82a)"></i>
<i style="background:linear-gradient(90deg,#435bec,#435bec,#435bec,#435cec,#425ded,#425ced,#435cec,#435bec,#435aec,#445aec,#435aec,#435bec,#425ded,#4061ee,#3e65f0,#3a6bf0,#3571f0,#3177f0,#2d7cf0,#2c7eef,#2b7eef,#2c7def,#2d7cf0,#2f79f0,#3177f0,#3374f0,#3671f0,#386ef0,#396cf0,#386df0,#3572f0,#2e7bf0,#2685eb,#208ee6,#1e91e3,#1e91e3,#1e91e4,#1c94df,#189dd1,#1daab0,#46ba81,#7dc256,#a0c240,#9dc241,#81c253,#5cbf6e,#3db889,#26afa2,#1ba8b5,#18a3c4,#179fcf,#189cd4,#199bd5,#189dd2,#17a1ca,#1aa6bb,#1faca9,#33b593,#47bb7f,#5bbf6f,#70c15f,#85c251,#99c244,#acc039,#babf32,#c1be2e,#c1be2e,#c1be2e,#c5be2d,#cfbb2c,#e1b72a,#efb92b,#f8be2c,#f9c82a,#facf28,#fad028,#f9ca2a,#f9c42b,#f9c42b,#f9c42b)"></i>
<i style="background:linear-gradient(90deg,#435bec,#435bec,#435bec,#435bec,#435cec,#435cec,#435bec,#435bec,#435aec,#435aec,#435bec,#435cec,#425eed,#4061ee,#3f65f0,#3b6af0,#3671f0,#3177f0,#2d7cf0,#2c7eef,#2b7fee,#2c7eef,#2d7cf0,#2f7af0,#3177f0,#3374f0,#3671f0,#386ef0,#396cf0,#386df0,#3472f0,#2d7bf0,#2685eb,#208ee6,#1e92e3,#1e91e3,#1e91e4,#1c94df,#179ed1,#1daaaf,#47bb80,#7ec255,#a1c13f,#9fc241,#82c252,#5dbf6d,#3eb987,#27b0a0,#1ca9b4,#18a3c3,#169fce,#189cd3,#199bd5,#189dd2,#17a1cb,#1aa6bc,#1eacaa,#32b494,#46bb80,#5bbf6f,#71c15f,#86c250,#9bc243,#afc038,#bdbf30,#c4be2d,#c4be2d,#c4be2d,#c8bd2d,#d1bb2c,#e2b72a,#efb92c,#f8be2c,#f9c72a,#face29,#face28,#f9c92a,#f9c42b,#f9c42b,#f9c42b)"></i>
<i style="background:linear-gradient(90deg,#435bec,#435bec,#435bec,#435bec,#435cec,#435cec,#435bec,#435bec,#435aec,#435aec,#435bec,#435cec,#425eed,#4061ee,#3f65f0,#3b6af0,#3671f0,#3177f0,#2d7cf0,#2c7eef,#2b7fee,#2c7eef,#2d7cf0,#2f7af0,#3177f0,#3374f0,#3671f0,#386ef0,#396cf0,#386df0,#3472f0,#2d7bf0,#2685eb,#208ee6,#1e92e3,#1e91e3,#1e91e4,#1c94df,#179ed1,#1daaaf,#47bb80,#7ec255,#a1c13f,#9fc241,#82c252,#5dbf6d,#3eb987,#27b0a0,#1ca9b4,#18a3c3,#169fce,#189cd3,#199bd5,#189dd2,#17a1cb,#1aa6bc,#1eacaa,#32b494,#46bb80,#5bbf6f,#71c15f,#86c250,#9bc243,#afc038,#bdbf30,#c4be2d,#c4be2d,#c4be2d,#c8bd2d,#d1bb2c,#e2b72a,#efb92c,#f8be2c,#f9c72a,#face29,#face28,#f9c92a,#f9c42b,#f9c42b,#f9c42b)"></i>
<i style="background:linear-gradient(90deg,#435bec,#435bec,#435bec,#435bec,#435cec,#435cec,#435bec,#435bec,#435aec,#435aec,#435bec,#435cec,#425eed,#4061ee,#3f65f0,#3b6af0,#3671f0,#3177f0,#2d7cf0,#2c7eef,#2b7fee,#2c7eef,#2d7cf0,#2f7af0,#3177f0,#3374f0,#3671f0,#386ef0,#396cf0,#386df0,#3472f0,#2d7bf0,#2685eb,#208ee6,#1e92e3,#1e91e3,#1e91e4,#1c94df,#179ed1,#1daaaf,#47bb80,#7ec255,#a1c13f,#9fc241,#82c252,#5dbf6d,#3eb987,#27b0a0,#1ca9b4,#18a3c3,#169fce,#189cd3,#199bd5,#189dd2,#17a1cb,#1aa6bc,#1eacaa,#32b494,#46bb80,#5bbf6f,#71c15f,#86c250,#9bc243,#afc038,#bdbf30,#c4be2d,#c4be2d,#c4be2d,#c8bd2d,#d1bb2c,#e2b72a,#efb92c,#f8be2c,#f9c72a,#face29,#face28,#f9c92a,#f9c42b,#f9c42b,#f9c42b)"></i>
<i style="background:linear-gradient(90deg,#435bec,#435bec,#435bec,#435bec,#435cec,#435cec,#435bec,#435bec,#435aec,#435aec,#435bec,#435cec,#425eed,#4061ee,#3f65f0,#3b6af0,#3671f0,#3177f0,#2d7cf0,#2c7eef,#2b7fee,#2c7eef,#2d7cf0,#2f7af0,#3177f0,#3374f0,#3671f0,#386ef0,#396cf0,#386df0,#3472f0,#2d7bf0,#2685eb,#208ee6,#1e92e3,#1e91e3,#1e91e4,#1c94df,#179ed1,#1daaaf,#47bb80,#7ec255,#a1c13f,#9fc241,#82c252,#5dbf6d,#3eb987,#27b0a0,#1ca9b4,#18a3c3,#169fce,#189cd3,#199bd5,#189dd2,#17a1cb,#1aa6bc,#1eacaa,#32b494,#46bb80,#5bbf6f,#71c15f,#86c250,#9bc243,#afc038,#bdbf30,#c4be2d,#c4be2d,#c4be2d,#c8bd2d,#d1bb2c,#e2b72a,#efb92c,#f8be2c,#f9c72a,#face29,#face28,#f9c92a,#f9c42b,#f9c42b,#f9c42b)"></i>
<i style="background:linear-gradient(90deg,#435bec,#435bec,#435bec,#435bec,#435cec,#435cec,#435bec,#435bec,#435aec,#435aec,#435bec,#435cec,#425eed,#4061ee,#3f65f0,#3b6af0,#3671f0,#3177f0,#2d7cf0,#2c7eef,#2b7fee,#2c7eef,#2d7cf0,#2f7af0,#3177f0,#3374f0,#3671f0,#386ef0,#396cf0,#386df0,#3472f0,#2d7bf0,#2685eb,#208ee6,#1e92e3,#1e91e3,#1e91e4,#1c94df,#179ed1,#1daaaf,#47bb80,#7ec255,#a1c13f,#9fc241,#82c252,#5dbf6d,#3eb987,#27b0a0,#1ca9b4,#18a3c3,#169fce,#189cd3,#199bd5,#189dd2,#17a1cb,#1aa6bc,#1eacaa,#32b494,#46bb80,#5bbf6f,#71c15f,#86c250,#9bc243,#afc038,#bdbf30,#c4be2d,#c4be2d,#c4be2d,#c8bd2d,#d1bb2c,#e2b72a,#efb92c,#f8be2c,#f9c72a,#face29,#face28,#f9c92a,#f9c42b,#f9c42b,#f9c42b)"></i>
<i style="background:linear-gradient(90deg,#435bec,#435bec,#435bec,#435bec,#435cec,#435cec,#435bec,#435bec,#435aec,#435aec,#435bec,#435cec,#425eed,#4061ee,#3f65f0,#3b6af0,#3671f0,#3177f0,#2d7cf0,#2c7eef,#2b7fee,#2c7eef,#2d7cf0,#2f7af0,#3177f0,#3374f0,#3671f0,#386ef0,#396cf0,#386df0,#3472f0,#2d7bf0,#2685eb,#208ee6,#1e92e3,#1e91e3,#1e91e4,#1c94df,#179ed1,#1daaaf,#47bb80,#7ec255,#a1c13f,#9fc241,#82c252,#5dbf6d,#3eb987,#27b0a0,#1ca9b4,#18a3c3,#169fce,#189cd3,#199bd5,#189dd2,#17a1cb,#1aa6bc,#1eacaa,#32b494,#46bb80,#5bbf6f,#71c15f,#86c250,#9bc243,#afc038,#bdbf30,#c4be2d,#c4be2d,#c4be2d,#c8bd2d,#d1bb2c,#e2b72a,#efb92c,#f8be2c,#f9c72a,#face29,#face28,#f9c92a,#f9c42b,#f9c42b,#f9c42b)"></i>
<i style="background:linear-gradient(90deg,#435bec,#435bec,#435bec,#435bec,#435cec,#435cec,#435bec,#435bec,#435aec,#435aec,#435bec,#435cec,#425eed,#4061ee,#3f65f0,#3b6af0,#3671f0,#3177f0,#2d7cf0,#2c7eef,#2b7fee,#2c7eef,#2d7cf0,#2f7af0,#3177f0,#3374f0,#3671f0,#386ef0,#396cf0,#386df0,#3472f0,#2d7bf0,#2685eb,#208ee6,#1e92e3,#1e91e3,#1e91e4,#1c94df,#179ed1,#1daaaf,#47bb80,#7ec255,#a1c13f,#9fc241,#82c252,#5dbf6d,#3eb987,#27b0a0,#1ca9b4,#18a3c3,#169fce,#189cd3,#199bd5,#189dd2,#17a1cb,#1aa6bc,#1eacaa,#32b494,#46bb80,#5bbf6f,#71c15f,#86c250,#9bc243,#afc038,#bdbf30,#c4be2d,#c4be2d,#c4be2d,#c8bd2d,#d1bb2c,#e2b72a,#efb92c,#f8be2c,#f9c72a,#face29,#face28,#f9c92a,#f9c42b,#f9c42b,#f9c42b)"></i>
</div></div>
<div id="cb"></div>
<svg width="685" height="532" viewBox="0 0 685 532"><line x1="133.40" y1="58.50" x2="133.40" y2="491.10" class="g"/><line x1="86.10" y1="102.70" x2="553.30" y2="102.70" class="g"/><line x1="180.05" y1="58.50" x2="180.05" y2="491.10" class="g"/><line x1="86.10" y1="145.90" x2="553.30" y2="145.90" class="g"/><line x1="226.70" y1="58.50" x2="226.70" y2="491.10" class="g"/><line x1="86.10" y1="189.10" x2="553.30" y2="189.10" class="g"/><line x1="273.35" y1="58.50" x2="273.35" y2="491.10" class="g"/><line x1="86.10" y1="232.30" x2="553.30" y2="232.30" class="g"/><line x1="320.00" y1="58.50" x2="320.00" y2="491.10" class="g"/><line x1="86.10" y1="275.50" x2="553.30" y2="275.50" class="g"/><line x1="366.65" y1="58.50" x2="366.65" y2="491.10" class="g"/><line x1="86.10" y1="318.60" x2="553.30" y2="318.60" class="g"/><line x1="413.30" y1="58.50" x2="413.30" y2="491.10" class="g"/><line x1="86.10" y1="361.80" x2="553.30" y2="361.80" class="g"/><line x1="459.95" y1="58.50" x2="459.95" y2="491.10" class="g"/><line x1="86.10" y1="405.00" x2="553.30" y2="405.00" class="g"/><line x1="506.60" y1="58.50" x2="506.60" y2="491.10" class="g"/><line x1="86.10" y1="448.20" x2="553.30" y2="448.20" class="g"/><rect x="86.10" y="58.50" width="467.20" height="432.60" class="bd"/><path d="M34.5,57.9 V490.7 H86" class="ax"/><line x1="34.5" y1="442.61" x2="39.5" y2="442.61" class="tk"/><line x1="34.5" y1="394.52" x2="39.5" y2="394.52" class="tk"/><line x1="34.5" y1="346.43" x2="39.5" y2="346.43" class="tk"/><line x1="34.5" y1="298.34" x2="39.5" y2="298.34" class="tk"/><line x1="34.5" y1="250.25" x2="39.5" y2="250.25" class="tk"/><line x1="34.5" y1="202.16" x2="39.5" y2="202.16" class="tk"/><line x1="34.5" y1="154.07" x2="39.5" y2="154.07" class="tk"/><line x1="34.5" y1="105.98" x2="39.5" y2="105.98" class="tk"/><line x1="34.5" y1="57.89" x2="39.5" y2="57.89" class="tk"/><line x1="34.5" y1="57.9" x2="39.5" y2="57.9" class="tk"/><rect x="605.8" y="58.2" width="28.7" height="432.1" class="cbb"/><line x1="630.2" y1="72.40" x2="634.5" y2="72.40" class="ct"/><line x1="630.2" y1="138.82" x2="634.5" y2="138.82" class="ct"/><line x1="630.2" y1="205.23" x2="634.5" y2="205.23" class="ct"/><line x1="630.2" y1="271.65" x2="634.5" y2="271.65" class="ct"/><line x1="630.2" y1="338.07" x2="634.5" y2="338.07" class="ct"/><line x1="630.2" y1="404.48" x2="634.5" y2="404.48" class="ct"/><line x1="630.2" y1="470.90" x2="634.5" y2="470.90" class="ct"/></svg>
<div class="cl" style="left:86.10px;top:58.50px;width:47.30px;line-height:44.20px">0.18</div><div class="cl" style="left:133.40px;top:58.50px;width:46.65px;line-height:44.20px">0.15</div><div class="cl" style="left:180.05px;top:58.50px;width:46.65px;line-height:44.20px">0.11</div><div class="cl" style="left:226.70px;top:58.50px;width:46.65px;line-height:44.20px"><span class="mn">-</span>0.42</div><div class="cl" style="left:273.35px;top:58.50px;width:46.65px;line-height:44.20px">0.33</div><div class="cl" style="left:320.00px;top:58.50px;width:46.65px;line-height:44.20px">0.34</div><div class="cl" style="left:366.65px;top:58.50px;width:46.65px;line-height:44.20px"><span class="mn">-</span>0.41</div><div class="cl" style="left:413.30px;top:58.50px;width:46.65px;line-height:44.20px"><span class="mn">-</span>0.42</div><div class="cl" style="left:459.95px;top:58.50px;width:46.65px;line-height:44.20px"><span class="mn">-</span>0.23</div><div class="cl" style="left:506.60px;top:58.50px;width:46.70px;line-height:44.20px">0.1</div><div class="cl" style="left:86.10px;top:102.70px;width:47.30px;line-height:43.20px">0.05</div><div class="cl" style="left:133.40px;top:102.70px;width:46.65px;line-height:43.20px">0.17</div><div class="cl" style="left:180.05px;top:102.70px;width:46.65px;line-height:43.20px">0.13</div><div class="cl" style="left:226.70px;top:102.70px;width:46.65px;line-height:43.20px">0.01</div><div class="cl" style="left:273.35px;top:102.70px;width:46.65px;line-height:43.20px"><span class="mn">-</span>0.17</div><div class="cl" style="left:320.00px;top:102.70px;width:46.65px;line-height:43.20px">0.09</div><div class="cl" style="left:366.65px;top:102.70px;width:46.65px;line-height:43.20px"><span class="mn">-</span>0.22</div><div class="cl" style="left:413.30px;top:102.70px;width:46.65px;line-height:43.20px"><span class="mn">-</span>0.48</div><div class="cl" style="left:459.95px;top:102.70px;width:46.65px;line-height:43.20px"><span class="mn">-</span>0.51</div><div class="cl" style="left:506.60px;top:102.70px;width:46.70px;line-height:43.20px"><span class="mn">-</span>0.43</div><div class="cl" style="left:86.10px;top:145.90px;width:47.30px;line-height:43.20px">0.14</div><div class="cl" style="left:133.40px;top:145.90px;width:46.65px;line-height:43.20px">0.56</div><div class="cl" style="left:180.05px;top:145.90px;width:46.65px;line-height:43.20px">0.39</div><div class="cl" style="left:226.70px;top:145.90px;width:46.65px;line-height:43.20px">0.03</div><div class="cl" style="left:273.35px;top:145.90px;width:46.65px;line-height:43.20px"><span class="mn">-</span>0.17</div><div class="cl" style="left:320.00px;top:145.90px;width:46.65px;line-height:43.20px">0.12</div><div class="cl" style="left:366.65px;top:145.90px;width:46.65px;line-height:43.20px"><span class="mn">-</span>0.08</div><div class="cl" style="left:413.30px;top:145.90px;width:46.65px;line-height:43.20px"><span class="mn">-</span>0.54</div><div class="cl" style="left:459.95px;top:145.90px;width:46.65px;line-height:43.20px"><span class="mn">-</span>0.38</div><div class="cl" style="left:506.60px;top:145.90px;width:46.70px;line-height:43.20px"><span class="mn">-</span>0.19</div><div class="cl" style="left:86.10px;top:189.10px;width:47.30px;line-height:43.20px">0.35</div><div class="cl" style="left:133.40px;top:189.10px;width:46.65px;line-height:43.20px">0.55</div><div class="cl" style="left:180.05px;top:189.10px;width:46.65px;line-height:43.20px">0.15</div><div class="cl" style="left:226.70px;top:189.10px;width:46.65px;line-height:43.20px"><span class="mn">-</span>0.04</div><div class="cl" style="left:273.35px;top:189.10px;width:46.65px;line-height:43.20px">0.09</div><div class="cl" style="left:320.00px;top:189.10px;width:46.65px;line-height:43.20px"><span class="mn">-</span>0.32</div><div class="cl" style="left:366.65px;top:189.10px;width:46.65px;line-height:43.20px"><span class="mn">-</span>0.42</div><div class="cl" style="left:413.30px;top:189.10px;width:46.65px;line-height:43.20px"><span class="mn">-</span>0.44</div><div class="cl" style="left:459.95px;top:189.10px;width:46.65px;line-height:43.20px"><span class="mn">-</span>0.56</div><div class="cl" style="left:506.60px;top:189.10px;width:46.70px;line-height:43.20px"><span class="mn">-</span>0.19</div><div class="cl" style="left:86.10px;top:232.30px;width:47.30px;line-height:43.20px">0.54</div><div class="cl" style="left:133.40px;top:232.30px;width:46.65px;line-height:43.20px">0.34</div><div class="cl" style="left:180.05px;top:232.30px;width:46.65px;line-height:43.20px">0.19</div><div class="cl" style="left:226.70px;top:232.30px;width:46.65px;line-height:43.20px">0.012</div><div class="cl" style="left:273.35px;top:232.30px;width:46.65px;line-height:43.20px">0.12</div><div class="cl" style="left:320.00px;top:232.30px;width:46.65px;line-height:43.20px">0.14</div><div class="cl" style="left:366.65px;top:232.30px;width:46.65px;line-height:43.20px"><span class="mn">-</span>0.67</div><div class="cl" style="left:413.30px;top:232.30px;width:46.65px;line-height:43.20px"><span class="mn">-</span>0.14</div><div class="cl" style="left:459.95px;top:232.30px;width:46.65px;line-height:43.20px"><span class="mn">-</span>0.34</div><div class="cl" style="left:506.60px;top:232.30px;width:46.70px;line-height:43.20px">0.32</div><div class="cl" style="left:86.10px;top:275.50px;width:47.30px;line-height:43.10px">0.43</div><div class="cl" style="left:133.40px;top:275.50px;width:46.65px;line-height:43.10px">0.31</div><div class="cl" style="left:180.05px;top:275.50px;width:46.65px;line-height:43.10px">0.21</div><div class="cl" style="left:226.70px;top:275.50px;width:46.65px;line-height:43.10px">0.19</div><div class="cl" style="left:273.35px;top:275.50px;width:46.65px;line-height:43.10px">0.07</div><div class="cl" style="left:320.00px;top:275.50px;width:46.65px;line-height:43.10px">0.19</div><div class="cl" style="left:366.65px;top:275.50px;width:46.65px;line-height:43.10px"><span class="mn">-</span>0.16</div><div class="cl" style="left:413.30px;top:275.50px;width:46.65px;line-height:43.10px"><span class="mn">-</span>0.09</div><div class="cl" style="left:459.95px;top:275.50px;width:46.65px;line-height:43.10px"><span class="mn">-</span>0.19</div><div class="cl" style="left:506.60px;top:275.50px;width:46.70px;line-height:43.10px"><span class="mn">-</span>0.15</div><div class="cl" style="left:86.10px;top:318.60px;width:47.30px;line-height:43.20px">0.01</div><div class="cl" style="left:133.40px;top:318.60px;width:46.65px;line-height:43.20px"><span class="mn">-</span>0.32</div><div class="cl" style="left:180.05px;top:318.60px;width:46.65px;line-height:43.20px"><span class="mn">-</span>0.313</div><div class="cl" style="left:226.70px;top:318.60px;width:46.65px;line-height:43.20px">0.43</div><div class="cl" style="left:273.35px;top:318.60px;width:46.65px;line-height:43.20px"><span class="mn">-</span>0.18</div><div class="cl" style="left:320.00px;top:318.60px;width:46.65px;line-height:43.20px">0.09</div><div class="cl" style="left:366.65px;top:318.60px;width:46.65px;line-height:43.20px">0.24</div><div class="cl" style="left:413.30px;top:318.60px;width:46.65px;line-height:43.20px">0.01</div><div class="cl" style="left:459.95px;top:318.60px;width:46.65px;line-height:43.20px">0.034</div><div class="cl" style="left:506.60px;top:318.60px;width:46.70px;line-height:43.20px">0.05</div><div class="cl" style="left:86.10px;top:361.80px;width:47.30px;line-height:43.20px"><span class="mn">-</span>0.34</div><div class="cl" style="left:133.40px;top:361.80px;width:46.65px;line-height:43.20px"><span class="mn">-</span>0.45</div><div class="cl" style="left:180.05px;top:361.80px;width:46.65px;line-height:43.20px"><span class="mn">-</span>0.55</div><div class="cl" style="left:226.70px;top:361.80px;width:46.65px;line-height:43.20px">0.11</div><div class="cl" style="left:273.35px;top:361.80px;width:46.65px;line-height:43.20px"><span class="mn">-</span>0.01</div><div class="cl" style="left:320.00px;top:361.80px;width:46.65px;line-height:43.20px">0.28</div><div class="cl" style="left:366.65px;top:361.80px;width:46.65px;line-height:43.20px">0.04</div><div class="cl" style="left:413.30px;top:361.80px;width:46.65px;line-height:43.20px">0.31</div><div class="cl" style="left:459.95px;top:361.80px;width:46.65px;line-height:43.20px">0.22</div><div class="cl" style="left:506.60px;top:361.80px;width:46.70px;line-height:43.20px">0.31</div><div class="cl" style="left:86.10px;top:405.00px;width:47.30px;line-height:43.20px"><span class="mn">-</span>0.63</div><div class="cl" style="left:133.40px;top:405.00px;width:46.65px;line-height:43.20px"><span class="mn">-</span>0.06</div><div class="cl" style="left:180.05px;top:405.00px;width:46.65px;line-height:43.20px"><span class="mn">-</span>0.121</div><div class="cl" style="left:226.70px;top:405.00px;width:46.65px;line-height:43.20px"><span class="mn">-</span>0.34</div><div class="cl" style="left:273.35px;top:405.00px;width:46.65px;line-height:43.20px"><span class="mn">-</span>0.04</div><div class="cl" style="left:320.00px;top:405.00px;width:46.65px;line-height:43.20px">0.43</div><div class="cl" style="left:366.65px;top:405.00px;width:46.65px;line-height:43.20px">0.23</div><div class="cl" style="left:413.30px;top:405.00px;width:46.65px;line-height:43.20px">0.25</div><div class="cl" style="left:459.95px;top:405.00px;width:46.65px;line-height:43.20px">0.45</div><div class="cl" style="left:506.60px;top:405.00px;width:46.70px;line-height:43.20px">0.56</div><div class="cl" style="left:86.10px;top:448.20px;width:47.30px;line-height:42.90px"><span class="mn">-</span>0.56</div><div class="cl" style="left:133.40px;top:448.20px;width:46.65px;line-height:42.90px"><span class="mn">-</span>0.24</div><div class="cl" style="left:180.05px;top:448.20px;width:46.65px;line-height:42.90px">0.08</div><div class="cl" style="left:226.70px;top:448.20px;width:46.65px;line-height:42.90px"><span class="mn">-</span>0.26</div><div class="cl" style="left:273.35px;top:448.20px;width:46.65px;line-height:42.90px"><span class="mn">-</span>0.02</div><div class="cl" style="left:320.00px;top:448.20px;width:46.65px;line-height:42.90px">0.16</div><div class="cl" style="left:366.65px;top:448.20px;width:46.65px;line-height:42.90px"><span class="mn">-</span>0.13</div><div class="cl" style="left:413.30px;top:448.20px;width:46.65px;line-height:42.90px">0.12</div><div class="cl" style="left:459.95px;top:448.20px;width:46.65px;line-height:42.90px">0.31</div><div class="cl" style="left:506.60px;top:448.20px;width:46.70px;line-height:42.90px">0.65</div>
<div class="yl" style="top:482.50px">1</div><div class="yl" style="top:434.41px">2</div><div class="yl" style="top:386.32px">3</div><div class="yl" style="top:338.23px">4</div><div class="yl" style="top:290.14px">5</div><div class="yl" style="top:242.05px">6</div><div class="yl" style="top:193.96px">7</div><div class="yl" style="top:145.87px">8</div><div class="yl" style="top:97.78px">9</div><div class="yl" style="top:49.69px">10</div>
<div class="xl" style="left:14.00px">0</div><div class="xl" style="left:117.86px">2</div><div class="xl" style="left:221.72px">4</div><div class="xl" style="left:325.58px">6</div><div class="xl" style="left:429.44px">8</div><div class="xl" style="left:533.30px">10</div>
<div class="cbl" style="top:65.90px">0.6</div><div class="cbl" style="top:132.32px">0.4</div><div class="cbl" style="top:198.73px">0.2</div><div class="cbl" style="top:265.15px">0</div><div class="cbl" style="top:331.57px">-0.2</div><div class="cbl" style="top:397.98px">-0.4</div><div class="cbl" style="top:464.40px">-0.6</div>
</body></html>
